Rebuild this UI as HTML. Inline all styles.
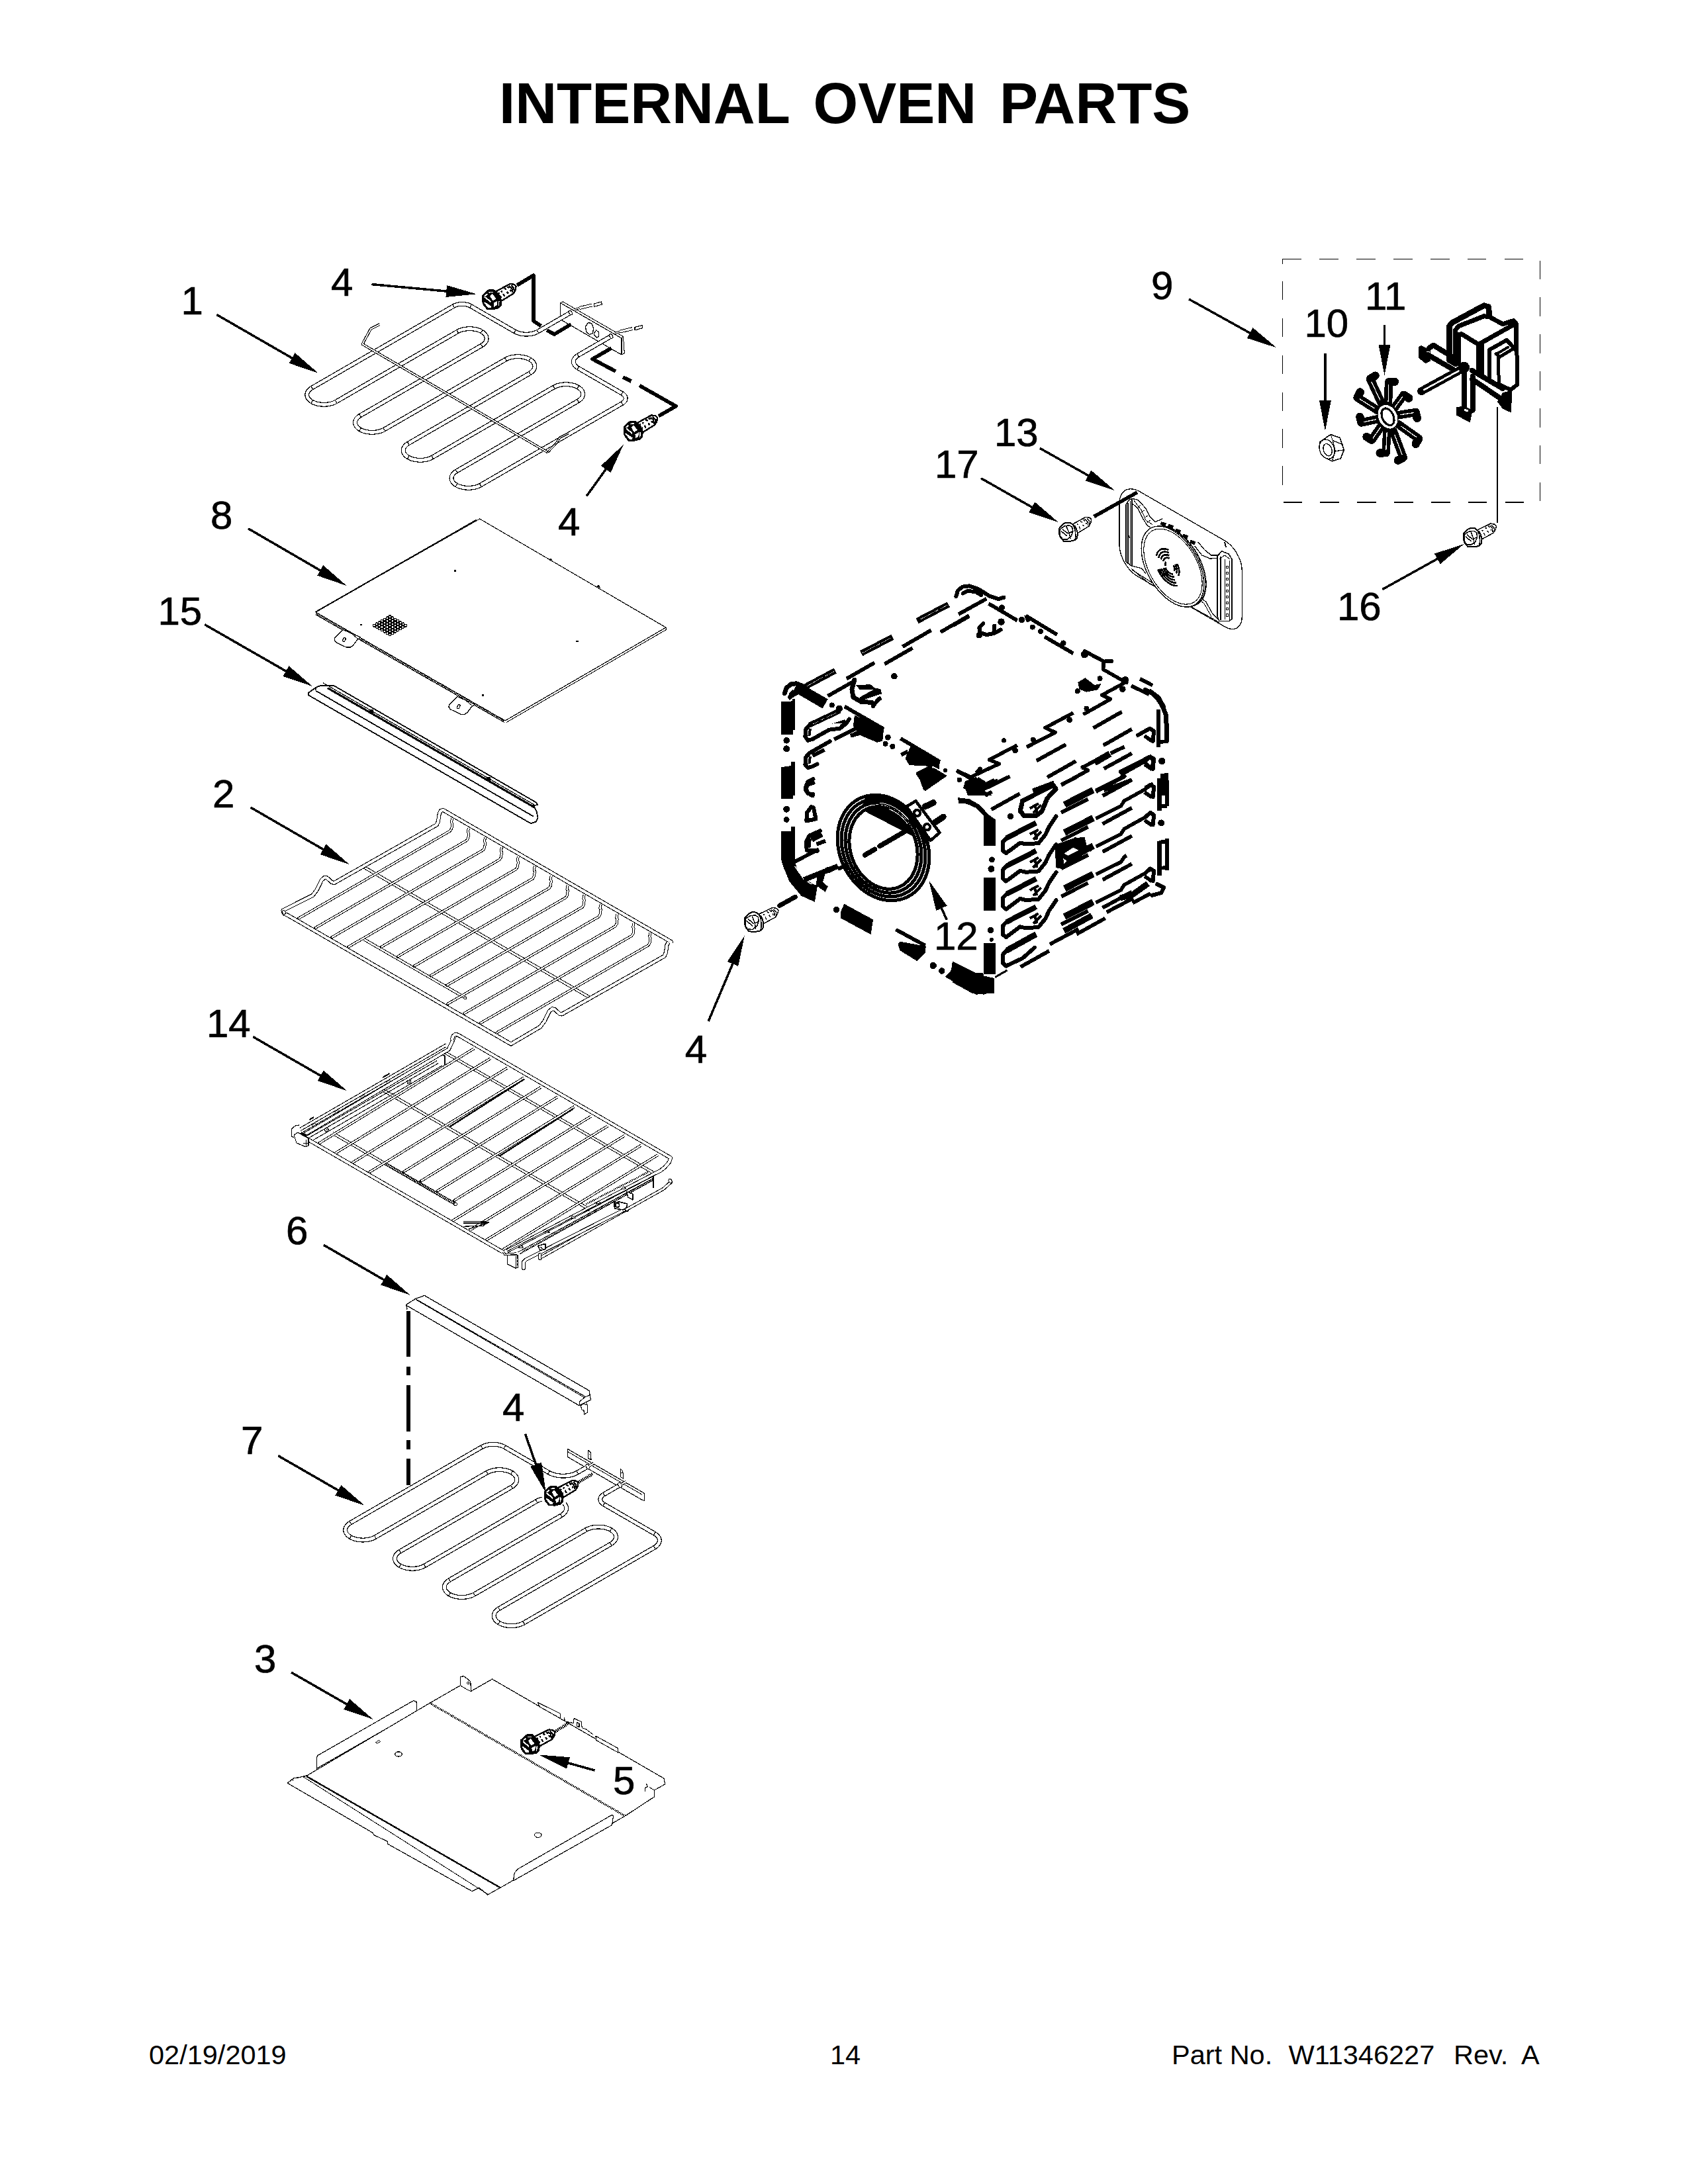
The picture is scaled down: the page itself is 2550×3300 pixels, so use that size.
<!DOCTYPE html>
<html><head><meta charset="utf-8"><title>Internal Oven Parts</title>
<style>html,body{margin:0;padding:0;background:#fff}svg{display:block}text{font-family:"Liberation Sans",Arial,Helvetica,sans-serif;fill:#000}text.n{stroke:#000;stroke-width:0.7px}</style>
</head><body>
<svg width="2550" height="3300" viewBox="0 0 2550 3300" shape-rendering="crispEdges">
<rect width="2550" height="3300" fill="#fff"/>
<text x="754.0" y="186.0" font-size="87.0" font-weight="bold" text-anchor="start" >INTERNAL</text>
<text x="1228.5" y="186.0" font-size="87.0" font-weight="bold" text-anchor="start" >OVEN</text>
<text x="1510.0" y="186.0" font-size="87.0" font-weight="bold" text-anchor="start" >PARTS</text>
<text x="225.0" y="3119.0" font-size="41.5" font-weight="normal" text-anchor="start" >02/19/2019</text>
<text x="1254.0" y="3119.0" font-size="41.5" font-weight="normal" text-anchor="start" >14</text>
<text x="1770.0" y="3119.0" font-size="41.5" font-weight="normal" text-anchor="start" >Part No.</text>
<text x="1946.5" y="3119.0" font-size="41.5" font-weight="normal" text-anchor="start" >W11346227</text>
<text x="2196.0" y="3119.0" font-size="41.5" font-weight="normal" text-anchor="start" >Rev.</text>
<text x="2298.0" y="3119.0" font-size="41.5" font-weight="normal" text-anchor="start" >A</text>
<path d="M846.3 457.5 L938.9 511.0 L938.9 536.0 L846.3 482.5Z" fill="#fff" stroke="#000" stroke-width="1.2" stroke-linejoin="round" />
<path d="M846.3 457.5 L850.6 456.0 L941.5 508.5 L938.9 511.0" fill="none" stroke="#000" stroke-width="1.0" stroke-linejoin="round" />
<path d="M941.5 508.5 L943.3 533.5 L938.9 536.0" fill="none" stroke="#000" stroke-width="1.0" stroke-linejoin="round" />
<path d="M884.6 493.5 l4 -6 l5 1 l3 7 l-1 8 l-5 2 l-5 -4 z" fill="#fff" stroke="#000" stroke-width="1.3"/>
<path d="M897.8 503.0 l3 -4 l4 3 l0 6 l-3 2 l-4 -4 z" fill="#fff" stroke="#000" stroke-width="1.2"/>
<path d="M861.8 472.5 L812.5 501.0 L810.1 502.2 L807.4 503.2 L804.5 504.1 L801.5 504.7 L798.4 505.0 L795.2 505.1 L792.0 505.0 L788.8 504.7 L785.8 504.1 L782.9 503.2 L780.2 502.2 L777.8 501.0 L711.2 462.5 L709.4 461.6 L707.4 460.8 L705.2 460.2 L702.9 459.8 L700.6 459.5 L698.2 459.4 L695.8 459.5 L693.4 459.8 L691.1 460.2 L689.0 460.8 L687.0 461.6 L685.2 462.5 L471.3 586.0 L469.0 587.5 L467.2 589.1 L465.7 590.8 L464.6 592.7 L464.0 594.6 L463.7 596.5 L464.0 598.4 L464.6 600.3 L465.7 602.2 L467.2 603.9 L469.0 605.5 L471.3 607.0 L471.3 607.0 L473.8 608.3 L476.6 609.4 L479.6 610.2 L482.8 610.8 L486.1 611.2 L489.5 611.3 L492.8 611.2 L496.1 610.8 L499.3 610.2 L502.3 609.4 L505.1 608.3 L507.6 607.0 L691.2 501.0 L693.8 499.7 L696.6 498.6 L699.6 497.8 L702.8 497.2 L706.1 496.8 L709.4 496.7 L712.8 496.8 L716.1 497.2 L719.3 497.8 L722.3 498.6 L725.1 499.7 L727.6 501.0 L727.6 501.0 L729.8 502.5 L731.7 504.1 L733.2 505.8 L734.3 507.7 L734.9 509.6 L735.1 511.5 L734.9 513.4 L734.3 515.3 L733.2 517.2 L731.7 518.9 L729.8 520.5 L727.6 522.0 L544.0 628.0 L541.8 629.5 L539.9 631.1 L538.4 632.8 L537.4 634.7 L536.7 636.6 L536.5 638.5 L536.7 640.4 L537.4 642.3 L538.4 644.2 L539.9 645.9 L541.8 647.5 L544.0 649.0 L544.0 649.0 L546.5 650.3 L549.3 651.4 L552.4 652.2 L555.5 652.8 L558.8 653.2 L562.2 653.3 L565.6 653.2 L568.9 652.8 L572.0 652.2 L575.1 651.4 L577.9 650.3 L580.4 649.0 L764.0 543.0 L766.5 541.7 L769.3 540.6 L772.3 539.8 L775.5 539.2 L778.8 538.8 L782.2 538.7 L785.5 538.8 L788.8 539.2 L792.0 539.8 L795.0 540.6 L797.8 541.7 L800.4 543.0 L800.4 543.0 L802.6 544.5 L804.4 546.1 L805.9 547.8 L807.0 549.7 L807.7 551.6 L807.9 553.5 L807.7 555.4 L807.0 557.3 L805.9 559.2 L804.4 560.9 L802.6 562.5 L800.4 564.0 L616.8 670.0 L614.5 671.5 L612.7 673.1 L611.2 674.8 L610.1 676.7 L609.4 678.6 L609.2 680.5 L609.4 682.4 L610.1 684.3 L611.2 686.2 L612.7 687.9 L614.5 689.5 L616.8 691.0 L616.8 691.0 L619.3 692.3 L622.1 693.4 L625.1 694.2 L628.3 694.8 L631.6 695.2 L634.9 695.3 L638.3 695.2 L641.6 694.8 L644.8 694.2 L647.8 693.4 L650.6 692.3 L653.1 691.0 L836.7 585.0 L839.3 583.7 L842.1 582.6 L845.1 581.8 L848.3 581.2 L851.6 580.8 L854.9 580.7 L858.3 580.8 L861.6 581.2 L864.8 581.8 L867.8 582.6 L870.6 583.7 L873.1 585.0 L873.1 585.0 L875.3 586.5 L877.2 588.1 L878.7 589.8 L879.8 591.7 L880.4 593.6 L880.6 595.5 L880.4 597.4 L879.8 599.3 L878.7 601.2 L877.2 602.9 L875.3 604.5 L873.1 606.0 L689.5 712.0 L687.3 713.5 L685.4 715.1 L683.9 716.8 L682.8 718.7 L682.2 720.6 L682.0 722.5 L682.2 724.4 L682.8 726.3 L683.9 728.2 L685.4 729.9 L687.3 731.5 L689.5 733.0 L689.5 733.0 L692.0 734.3 L694.8 735.4 L697.9 736.2 L701.0 736.8 L704.3 737.2 L707.7 737.3 L711.0 737.2 L714.3 736.8 L717.5 736.2 L720.6 735.4 L723.4 734.3 L725.9 733.0 L939.8 609.5 L941.4 608.5 L942.7 607.3 L943.8 606.1 L944.5 604.7 L945.0 603.4 L945.2 602.0 L945.0 600.6 L944.5 599.3 L943.8 597.9 L942.7 596.7 L941.4 595.5 L939.8 594.5 L873.1 556.0 L871.1 554.7 L869.4 553.2 L868.1 551.6 L867.1 550.0 L866.5 548.3 L866.3 546.5 L866.5 544.7 L867.1 543.0 L868.1 541.4 L869.4 539.8 L871.1 538.3 L873.1 537.0 L923.3 508.0" fill="none" stroke="#000" stroke-width="7.0" stroke-linecap="butt" stroke-linejoin="round"/><path d="M861.8 472.5 L812.5 501.0 L810.1 502.2 L807.4 503.2 L804.5 504.1 L801.5 504.7 L798.4 505.0 L795.2 505.1 L792.0 505.0 L788.8 504.7 L785.8 504.1 L782.9 503.2 L780.2 502.2 L777.8 501.0 L711.2 462.5 L709.4 461.6 L707.4 460.8 L705.2 460.2 L702.9 459.8 L700.6 459.5 L698.2 459.4 L695.8 459.5 L693.4 459.8 L691.1 460.2 L689.0 460.8 L687.0 461.6 L685.2 462.5 L471.3 586.0 L469.0 587.5 L467.2 589.1 L465.7 590.8 L464.6 592.7 L464.0 594.6 L463.7 596.5 L464.0 598.4 L464.6 600.3 L465.7 602.2 L467.2 603.9 L469.0 605.5 L471.3 607.0 L471.3 607.0 L473.8 608.3 L476.6 609.4 L479.6 610.2 L482.8 610.8 L486.1 611.2 L489.5 611.3 L492.8 611.2 L496.1 610.8 L499.3 610.2 L502.3 609.4 L505.1 608.3 L507.6 607.0 L691.2 501.0 L693.8 499.7 L696.6 498.6 L699.6 497.8 L702.8 497.2 L706.1 496.8 L709.4 496.7 L712.8 496.8 L716.1 497.2 L719.3 497.8 L722.3 498.6 L725.1 499.7 L727.6 501.0 L727.6 501.0 L729.8 502.5 L731.7 504.1 L733.2 505.8 L734.3 507.7 L734.9 509.6 L735.1 511.5 L734.9 513.4 L734.3 515.3 L733.2 517.2 L731.7 518.9 L729.8 520.5 L727.6 522.0 L544.0 628.0 L541.8 629.5 L539.9 631.1 L538.4 632.8 L537.4 634.7 L536.7 636.6 L536.5 638.5 L536.7 640.4 L537.4 642.3 L538.4 644.2 L539.9 645.9 L541.8 647.5 L544.0 649.0 L544.0 649.0 L546.5 650.3 L549.3 651.4 L552.4 652.2 L555.5 652.8 L558.8 653.2 L562.2 653.3 L565.6 653.2 L568.9 652.8 L572.0 652.2 L575.1 651.4 L577.9 650.3 L580.4 649.0 L764.0 543.0 L766.5 541.7 L769.3 540.6 L772.3 539.8 L775.5 539.2 L778.8 538.8 L782.2 538.7 L785.5 538.8 L788.8 539.2 L792.0 539.8 L795.0 540.6 L797.8 541.7 L800.4 543.0 L800.4 543.0 L802.6 544.5 L804.4 546.1 L805.9 547.8 L807.0 549.7 L807.7 551.6 L807.9 553.5 L807.7 555.4 L807.0 557.3 L805.9 559.2 L804.4 560.9 L802.6 562.5 L800.4 564.0 L616.8 670.0 L614.5 671.5 L612.7 673.1 L611.2 674.8 L610.1 676.7 L609.4 678.6 L609.2 680.5 L609.4 682.4 L610.1 684.3 L611.2 686.2 L612.7 687.9 L614.5 689.5 L616.8 691.0 L616.8 691.0 L619.3 692.3 L622.1 693.4 L625.1 694.2 L628.3 694.8 L631.6 695.2 L634.9 695.3 L638.3 695.2 L641.6 694.8 L644.8 694.2 L647.8 693.4 L650.6 692.3 L653.1 691.0 L836.7 585.0 L839.3 583.7 L842.1 582.6 L845.1 581.8 L848.3 581.2 L851.6 580.8 L854.9 580.7 L858.3 580.8 L861.6 581.2 L864.8 581.8 L867.8 582.6 L870.6 583.7 L873.1 585.0 L873.1 585.0 L875.3 586.5 L877.2 588.1 L878.7 589.8 L879.8 591.7 L880.4 593.6 L880.6 595.5 L880.4 597.4 L879.8 599.3 L878.7 601.2 L877.2 602.9 L875.3 604.5 L873.1 606.0 L689.5 712.0 L687.3 713.5 L685.4 715.1 L683.9 716.8 L682.8 718.7 L682.2 720.6 L682.0 722.5 L682.2 724.4 L682.8 726.3 L683.9 728.2 L685.4 729.9 L687.3 731.5 L689.5 733.0 L689.5 733.0 L692.0 734.3 L694.8 735.4 L697.9 736.2 L701.0 736.8 L704.3 737.2 L707.7 737.3 L711.0 737.2 L714.3 736.8 L717.5 736.2 L720.6 735.4 L723.4 734.3 L725.9 733.0 L939.8 609.5 L941.4 608.5 L942.7 607.3 L943.8 606.1 L944.5 604.7 L945.0 603.4 L945.2 602.0 L945.0 600.6 L944.5 599.3 L943.8 597.9 L942.7 596.7 L941.4 595.5 L939.8 594.5 L873.1 556.0 L871.1 554.7 L869.4 553.2 L868.1 551.6 L867.1 550.0 L866.5 548.3 L866.3 546.5 L866.5 544.7 L867.1 543.0 L868.1 541.4 L869.4 539.8 L871.1 538.3 L873.1 537.0 L923.3 508.0" fill="none" stroke="#fff" stroke-width="4.6" stroke-linecap="butt" stroke-linejoin="round"/>
<line x1="810.7" y1="498.0" x2="814.2" y2="504.0" stroke="#000" stroke-width="1.2"/><line x1="776.1" y1="504.0" x2="779.6" y2="498.0" stroke="#000" stroke-width="1.2"/><line x1="712.9" y1="459.5" x2="709.4" y2="465.5" stroke="#000" stroke-width="1.2"/><line x1="686.9" y1="465.5" x2="683.4" y2="459.5" stroke="#000" stroke-width="1.2"/><line x1="469.5" y1="583.0" x2="473.0" y2="589.0" stroke="#000" stroke-width="1.2"/><line x1="473.0" y1="604.0" x2="469.5" y2="610.0" stroke="#000" stroke-width="1.2"/><line x1="469.5" y1="610.0" x2="473.0" y2="604.0" stroke="#000" stroke-width="1.2"/><line x1="505.9" y1="604.0" x2="509.4" y2="610.0" stroke="#000" stroke-width="1.2"/><line x1="693.0" y1="504.0" x2="689.5" y2="498.0" stroke="#000" stroke-width="1.2"/><line x1="729.4" y1="498.0" x2="725.9" y2="504.0" stroke="#000" stroke-width="1.2"/><line x1="725.9" y1="504.0" x2="729.4" y2="498.0" stroke="#000" stroke-width="1.2"/><line x1="729.4" y1="525.0" x2="725.9" y2="519.0" stroke="#000" stroke-width="1.2"/><line x1="542.3" y1="625.0" x2="545.8" y2="631.0" stroke="#000" stroke-width="1.2"/><line x1="545.8" y1="646.0" x2="542.3" y2="652.0" stroke="#000" stroke-width="1.2"/><line x1="542.3" y1="652.0" x2="545.8" y2="646.0" stroke="#000" stroke-width="1.2"/><line x1="578.6" y1="646.0" x2="582.1" y2="652.0" stroke="#000" stroke-width="1.2"/><line x1="765.7" y1="546.0" x2="762.2" y2="540.0" stroke="#000" stroke-width="1.2"/><line x1="802.1" y1="540.0" x2="798.6" y2="546.0" stroke="#000" stroke-width="1.2"/><line x1="798.6" y1="546.0" x2="802.1" y2="540.0" stroke="#000" stroke-width="1.2"/><line x1="802.1" y1="567.0" x2="798.6" y2="561.0" stroke="#000" stroke-width="1.2"/><line x1="615.0" y1="667.0" x2="618.5" y2="673.0" stroke="#000" stroke-width="1.2"/><line x1="618.5" y1="688.0" x2="615.0" y2="694.0" stroke="#000" stroke-width="1.2"/><line x1="615.0" y1="694.0" x2="618.5" y2="688.0" stroke="#000" stroke-width="1.2"/><line x1="651.4" y1="688.0" x2="654.9" y2="694.0" stroke="#000" stroke-width="1.2"/><line x1="838.5" y1="588.0" x2="835.0" y2="582.0" stroke="#000" stroke-width="1.2"/><line x1="874.9" y1="582.0" x2="871.4" y2="588.0" stroke="#000" stroke-width="1.2"/><line x1="871.4" y1="588.0" x2="874.9" y2="582.0" stroke="#000" stroke-width="1.2"/><line x1="874.9" y1="609.0" x2="871.4" y2="603.0" stroke="#000" stroke-width="1.2"/><line x1="687.8" y1="709.0" x2="691.3" y2="715.0" stroke="#000" stroke-width="1.2"/><line x1="691.3" y1="730.0" x2="687.8" y2="736.0" stroke="#000" stroke-width="1.2"/><line x1="687.8" y1="736.0" x2="691.3" y2="730.0" stroke="#000" stroke-width="1.2"/><line x1="724.1" y1="730.0" x2="727.6" y2="736.0" stroke="#000" stroke-width="1.2"/><line x1="941.5" y1="612.5" x2="938.0" y2="606.5" stroke="#000" stroke-width="1.2"/><line x1="938.0" y1="597.5" x2="941.5" y2="591.5" stroke="#000" stroke-width="1.2"/><line x1="874.9" y1="553.0" x2="871.4" y2="559.0" stroke="#000" stroke-width="1.2"/><line x1="871.4" y1="534.0" x2="874.9" y2="540.0" stroke="#000" stroke-width="1.2"/>
<ellipse cx="861.8" cy="472.5" rx="2.2" ry="3.6" fill="#fff" stroke="#000" stroke-width="1.1" transform="rotate(-30 861.8 472.5)"/>
<ellipse cx="923.3" cy="508.0" rx="2.2" ry="3.6" fill="#fff" stroke="#000" stroke-width="1.1" transform="rotate(-30 923.3 508.0)"/>
<path d="M867.4 468.0 L876.4 465.0" fill="none" stroke="#000" stroke-width="3.2" stroke-linecap="butt" stroke-linejoin="round"/><path d="M867.4 468.0 L876.4 465.0" fill="none" stroke="#fff" stroke-width="1.2" stroke-linecap="butt" stroke-linejoin="round"/>
<path d="M875.4 465.5 L894.4 461.0" fill="none" stroke="#000" stroke-width="5.0" stroke-linecap="butt" stroke-linejoin="round"/><path d="M875.4 465.5 L894.4 461.0" fill="none" stroke="#fff" stroke-width="3.0" stroke-linecap="butt" stroke-linejoin="round"/>
<path d="M897.4 463.5 L909.4 460.0 L908.4 456.0 L897.4 459.0Z" fill="none" stroke="#000" stroke-width="1.2" stroke-linejoin="round" />
<path d="M928.9 503.5 L937.9 500.5" fill="none" stroke="#000" stroke-width="3.2" stroke-linecap="butt" stroke-linejoin="round"/><path d="M928.9 503.5 L937.9 500.5" fill="none" stroke="#fff" stroke-width="1.2" stroke-linecap="butt" stroke-linejoin="round"/>
<path d="M936.9 501.0 L955.9 496.5" fill="none" stroke="#000" stroke-width="5.0" stroke-linecap="butt" stroke-linejoin="round"/><path d="M936.9 501.0 L955.9 496.5" fill="none" stroke="#fff" stroke-width="3.0" stroke-linecap="butt" stroke-linejoin="round"/>
<path d="M958.9 499.0 L970.9 495.5 L969.9 491.5 L958.9 494.5Z" fill="none" stroke="#000" stroke-width="1.2" stroke-linejoin="round" />
<path d="M573.7 490.0 L560.0 497.0 L547.5 520.0 L827.5 683.5" fill="none" stroke="#000" stroke-width="4.0" stroke-linecap="butt" stroke-linejoin="round"/><path d="M573.7 490.0 L560.0 497.0 L547.5 520.0 L827.5 683.5" fill="none" stroke="#fff" stroke-width="1.8" stroke-linecap="butt" stroke-linejoin="round"/>
<path d="M827.5 683.5 L840.0 670.0 L846.0 661.0 L859.0 654.5" fill="none" stroke="#000" stroke-width="3.2" stroke-linecap="butt" stroke-linejoin="round"/><path d="M827.5 683.5 L840.0 670.0 L846.0 661.0 L859.0 654.5" fill="none" stroke="#fff" stroke-width="1.2" stroke-linecap="butt" stroke-linejoin="round"/>
<g transform="translate(742.5 452.5) rotate(0.0)"><polygon points="6.8,-12.1 28.0,-23.6 34.5,-22.7 37.1,-20.1 36.2,-14.3 33.2,-9.1 15.3,2.0" fill="#fff" stroke="#000" stroke-width="2.4" stroke-linejoin="round"/><polyline points="9.8,-10.1 12.1,-8.8" fill="none" stroke="#000" stroke-width="2.4"/><polyline points="14.3,-12.7 16.3,-11.4" fill="none" stroke="#000" stroke-width="2.4"/><polyline points="19.2,-16.9 22.5,-15.3" fill="none" stroke="#000" stroke-width="2.4"/><polyline points="23.8,-19.5 26.7,-17.3" fill="none" stroke="#000" stroke-width="2.4"/><polyline points="13.7,-5.5 14.2,-2.3" fill="none" stroke="#000" stroke-width="2.4"/><polyline points="17.6,-8.5 19.7,-4.4" fill="none" stroke="#000" stroke-width="2.4"/><polyline points="23.1,-11.7 25.5,-8.8" fill="none" stroke="#000" stroke-width="2.4"/><polyline points="28.5,-14.9 29.4,-12.1" fill="none" stroke="#000" stroke-width="2.4"/><polyline points="26.4,-20.2 30.9,-16.9 32.1,-10.4" fill="none" stroke="#000" stroke-width="2.2"/><polyline points="29.6,-21.2 33.7,-17.3 34.4,-12.4" fill="none" stroke="#000" stroke-width="2.2"/><polygon points="-13.8,-5.9 -7.7,-12.5 -3.3,-14.9 3.3,-14.9 7.8,-11.4 12.4,-6.5 15.3,1.3 14.7,9.1 11.1,13.0 3.3,15.0 -6.5,15.0 -11.7,9.1 -13.8,3.9" fill="#000" stroke="#000" stroke-width="1" stroke-linejoin="round"/><polygon points="-11.2,-3.1 -8.8,-4.0 -0.8,2.6 -1.4,4.6" fill="#fff"/><polygon points="-11.6,4.4 -9.8,4.0 0.0,10.6 -1.4,12.9 -5.1,12.9" fill="#fff"/><polygon points="-4.4,-11.2 1.8,-11.9 2.7,-10.6 -3.3,-9.9" fill="#fff"/><polygon points="-2.5,-5.2 1.3,-8.5 7.0,-1.3 2.0,2.0" fill="#fff"/><polygon points="3.4,5.3 9.0,2.1 8.3,8.5 4.0,11.1" fill="#fff"/><polygon points="10.4,2.0 12.1,2.6 11.4,9.1 10.1,9.9" fill="#fff"/><polygon points="-11.4,-4.9 -7.3,-9.1 -5.7,-7.8 -9.4,-4.6" fill="#fff"/></g>
<path d="M781.0 431.0 L806.0 416.0 L806.0 485.0 L817.5 492.5" fill="none" stroke="#000" stroke-width="5.6" stroke-linejoin="round" stroke-linecap="butt"/>
<path d="M826.0 499.0 L837.5 505.0 L862.5 490.0" fill="none" stroke="#000" stroke-width="5.6" stroke-linejoin="round" stroke-linecap="butt"/>
<path d="M923.7 526.0 L895.0 542.5 L930.0 561.0" fill="none" stroke="#000" stroke-width="5.6" stroke-linejoin="round" stroke-linecap="butt"/>
<path d="M941.0 570.0 L953.7 576.0" fill="none" stroke="#000" stroke-width="5.6" stroke-linejoin="round" stroke-linecap="butt"/>
<path d="M966.0 582.5 L1021.0 613.7 L995.0 628.7" fill="none" stroke="#000" stroke-width="5.6" stroke-linejoin="round" stroke-linecap="butt"/>
<g transform="translate(956.0 651.0) rotate(0.0)"><polygon points="6.8,-12.1 28.0,-23.6 34.5,-22.7 37.1,-20.1 36.2,-14.3 33.2,-9.1 15.3,2.0" fill="#fff" stroke="#000" stroke-width="2.4" stroke-linejoin="round"/><polyline points="9.8,-10.1 12.1,-8.8" fill="none" stroke="#000" stroke-width="2.4"/><polyline points="14.3,-12.7 16.3,-11.4" fill="none" stroke="#000" stroke-width="2.4"/><polyline points="19.2,-16.9 22.5,-15.3" fill="none" stroke="#000" stroke-width="2.4"/><polyline points="23.8,-19.5 26.7,-17.3" fill="none" stroke="#000" stroke-width="2.4"/><polyline points="13.7,-5.5 14.2,-2.3" fill="none" stroke="#000" stroke-width="2.4"/><polyline points="17.6,-8.5 19.7,-4.4" fill="none" stroke="#000" stroke-width="2.4"/><polyline points="23.1,-11.7 25.5,-8.8" fill="none" stroke="#000" stroke-width="2.4"/><polyline points="28.5,-14.9 29.4,-12.1" fill="none" stroke="#000" stroke-width="2.4"/><polyline points="26.4,-20.2 30.9,-16.9 32.1,-10.4" fill="none" stroke="#000" stroke-width="2.2"/><polyline points="29.6,-21.2 33.7,-17.3 34.4,-12.4" fill="none" stroke="#000" stroke-width="2.2"/><polygon points="-13.8,-5.9 -7.7,-12.5 -3.3,-14.9 3.3,-14.9 7.8,-11.4 12.4,-6.5 15.3,1.3 14.7,9.1 11.1,13.0 3.3,15.0 -6.5,15.0 -11.7,9.1 -13.8,3.9" fill="#000" stroke="#000" stroke-width="1" stroke-linejoin="round"/><polygon points="-11.2,-3.1 -8.8,-4.0 -0.8,2.6 -1.4,4.6" fill="#fff"/><polygon points="-11.6,4.4 -9.8,4.0 0.0,10.6 -1.4,12.9 -5.1,12.9" fill="#fff"/><polygon points="-4.4,-11.2 1.8,-11.9 2.7,-10.6 -3.3,-9.9" fill="#fff"/><polygon points="-2.5,-5.2 1.3,-8.5 7.0,-1.3 2.0,2.0" fill="#fff"/><polygon points="3.4,5.3 9.0,2.1 8.3,8.5 4.0,11.1" fill="#fff"/><polygon points="10.4,2.0 12.1,2.6 11.4,9.1 10.1,9.9" fill="#fff"/><polygon points="-11.4,-4.9 -7.3,-9.1 -5.7,-7.8 -9.4,-4.6" fill="#fff"/></g>
<path d="M476.6 924.8 L724.7 784.0 L1006.0 948.1 L763.0 1089.0Z" fill="#fff" stroke="#000" stroke-width="1.2" stroke-linejoin="round" />
<path d="M476.6 924.8 L720.0 785.5" fill="none" stroke="#000" stroke-width="2.0" stroke-linejoin="round" />
<path d="M765.0 1091.5 L1007.0 951.1 L1006.0 948.1" fill="none" stroke="#000" stroke-width="1.0" stroke-linejoin="round" />
<path d="M477.6 926.8 L762.0 1089.5" stroke="#000" stroke-width="3.6" stroke-dasharray="1.4 1.1" fill="none"/>
<path d="M476.6 928.6 L762.0 1091.6" fill="none" stroke="#000" stroke-width="1.0" stroke-linejoin="round" />
<path d="M830.0 846.5 L832.0 844.5 L834.0 846.0" fill="none" stroke="#000" stroke-width="1.0" stroke-linejoin="round" />
<path d="M902.0 887.0 L904.0 885.0 L906.0 888.0" fill="none" stroke="#000" stroke-width="2.0" stroke-linejoin="round" />
<path d="M518.3 951.4 L544.9 963.1 L539.9 966.4 L533.5 975.0 L529.5 978.0 L523.3 978.1 L507.5 970.5 L505.2 967.0 L506.0 963.5Z" fill="#fff" stroke="#000" stroke-width="1.3" stroke-linejoin="round" />
<path d="M518.3 951.4 L528.0 955.0 L541.0 965.5" fill="none" stroke="#000" stroke-width="1.0" stroke-linejoin="round" />
<ellipse cx="520.0" cy="966.4" rx="1.8" ry="3.2" fill="#fff" stroke="#000" stroke-width="1.3" transform="rotate(25 520.0 966.4)"/>
<path d="M691.1 1052.6 L717.7 1064.3 L712.7 1067.6 L706.3 1076.2 L702.3 1079.2 L696.1 1079.3 L680.3 1071.7 L678.0 1068.2 L678.8 1064.7Z" fill="#fff" stroke="#000" stroke-width="1.3" stroke-linejoin="round" />
<path d="M691.1 1052.6 L700.8 1056.2 L713.8 1066.7" fill="none" stroke="#000" stroke-width="1.0" stroke-linejoin="round" />
<ellipse cx="692.8" cy="1067.6" rx="1.8" ry="3.2" fill="#fff" stroke="#000" stroke-width="1.3" transform="rotate(25 692.8 1067.6)"/>
<circle cx="565.4" cy="945.2" r="1.9" fill="none" stroke="#000" stroke-width="1.3"/><circle cx="569.3" cy="947.5" r="1.9" fill="none" stroke="#000" stroke-width="1.3"/><circle cx="573.2" cy="949.8" r="1.9" fill="none" stroke="#000" stroke-width="1.3"/><circle cx="577.2" cy="952.0" r="1.9" fill="none" stroke="#000" stroke-width="1.3"/><circle cx="581.1" cy="954.3" r="1.9" fill="none" stroke="#000" stroke-width="1.3"/><circle cx="585.1" cy="956.6" r="1.9" fill="none" stroke="#000" stroke-width="1.3"/><circle cx="589.0" cy="958.9" r="1.9" fill="none" stroke="#000" stroke-width="1.3"/><circle cx="569.3" cy="942.9" r="1.9" fill="none" stroke="#000" stroke-width="1.3"/><circle cx="573.2" cy="945.2" r="1.9" fill="none" stroke="#000" stroke-width="1.3"/><circle cx="577.2" cy="947.5" r="1.9" fill="none" stroke="#000" stroke-width="1.3"/><circle cx="581.1" cy="949.8" r="1.9" fill="none" stroke="#000" stroke-width="1.3"/><circle cx="585.1" cy="952.0" r="1.9" fill="none" stroke="#000" stroke-width="1.3"/><circle cx="589.0" cy="954.3" r="1.9" fill="none" stroke="#000" stroke-width="1.3"/><circle cx="592.9" cy="956.6" r="1.9" fill="none" stroke="#000" stroke-width="1.3"/><circle cx="573.2" cy="940.7" r="1.9" fill="none" stroke="#000" stroke-width="1.3"/><circle cx="577.2" cy="942.9" r="1.9" fill="none" stroke="#000" stroke-width="1.3"/><circle cx="581.1" cy="945.2" r="1.9" fill="none" stroke="#000" stroke-width="1.3"/><circle cx="585.1" cy="947.5" r="1.9" fill="none" stroke="#000" stroke-width="1.3"/><circle cx="589.0" cy="949.8" r="1.9" fill="none" stroke="#000" stroke-width="1.3"/><circle cx="592.9" cy="952.0" r="1.9" fill="none" stroke="#000" stroke-width="1.3"/><circle cx="596.9" cy="954.3" r="1.9" fill="none" stroke="#000" stroke-width="1.3"/><circle cx="577.2" cy="938.4" r="1.9" fill="none" stroke="#000" stroke-width="1.3"/><circle cx="581.1" cy="940.7" r="1.9" fill="none" stroke="#000" stroke-width="1.3"/><circle cx="585.1" cy="942.9" r="1.9" fill="none" stroke="#000" stroke-width="1.3"/><circle cx="589.0" cy="945.2" r="1.9" fill="none" stroke="#000" stroke-width="1.3"/><circle cx="592.9" cy="947.5" r="1.9" fill="none" stroke="#000" stroke-width="1.3"/><circle cx="596.9" cy="949.8" r="1.9" fill="none" stroke="#000" stroke-width="1.3"/><circle cx="600.8" cy="952.0" r="1.9" fill="none" stroke="#000" stroke-width="1.3"/><circle cx="581.1" cy="936.1" r="1.9" fill="none" stroke="#000" stroke-width="1.3"/><circle cx="585.1" cy="938.4" r="1.9" fill="none" stroke="#000" stroke-width="1.3"/><circle cx="589.0" cy="940.7" r="1.9" fill="none" stroke="#000" stroke-width="1.3"/><circle cx="592.9" cy="942.9" r="1.9" fill="none" stroke="#000" stroke-width="1.3"/><circle cx="596.9" cy="945.2" r="1.9" fill="none" stroke="#000" stroke-width="1.3"/><circle cx="600.8" cy="947.5" r="1.9" fill="none" stroke="#000" stroke-width="1.3"/><circle cx="604.8" cy="949.8" r="1.9" fill="none" stroke="#000" stroke-width="1.3"/><circle cx="585.1" cy="933.8" r="1.9" fill="none" stroke="#000" stroke-width="1.3"/><circle cx="589.0" cy="936.1" r="1.9" fill="none" stroke="#000" stroke-width="1.3"/><circle cx="592.9" cy="938.4" r="1.9" fill="none" stroke="#000" stroke-width="1.3"/><circle cx="596.9" cy="940.7" r="1.9" fill="none" stroke="#000" stroke-width="1.3"/><circle cx="600.8" cy="942.9" r="1.9" fill="none" stroke="#000" stroke-width="1.3"/><circle cx="604.8" cy="945.2" r="1.9" fill="none" stroke="#000" stroke-width="1.3"/><circle cx="608.7" cy="947.5" r="1.9" fill="none" stroke="#000" stroke-width="1.3"/><circle cx="589.0" cy="931.6" r="1.9" fill="none" stroke="#000" stroke-width="1.3"/><circle cx="592.9" cy="933.8" r="1.9" fill="none" stroke="#000" stroke-width="1.3"/><circle cx="596.9" cy="936.1" r="1.9" fill="none" stroke="#000" stroke-width="1.3"/><circle cx="600.8" cy="938.4" r="1.9" fill="none" stroke="#000" stroke-width="1.3"/><circle cx="604.8" cy="940.7" r="1.9" fill="none" stroke="#000" stroke-width="1.3"/><circle cx="608.7" cy="942.9" r="1.9" fill="none" stroke="#000" stroke-width="1.3"/><circle cx="612.6" cy="945.2" r="1.9" fill="none" stroke="#000" stroke-width="1.3"/>
<rect x="685.7" y="860.9" width="3.4" height="2.6" fill="#000"/>
<rect x="543.9" y="942.8" width="3.4" height="2.6" fill="#000"/>
<rect x="870.1" y="967.5" width="3.4" height="2.6" fill="#000"/>
<rect x="728.0" y="1049.4" width="3.4" height="2.6" fill="#000"/>
<path d="M466.2 1046.7 L477.4 1038.7 L483.5 1036.2 L504.7 1036.2 L810.7 1212.9 L812.0 1215.9 L806.0 1217.2 L811.0 1227.0 L812.5 1235.9 L810.0 1241.5 L802.0 1244.3 L466.2 1050.5Z" fill="#fff" stroke="#000" stroke-width="1.8" stroke-linejoin="round" />
<path d="M495.0 1039.6 L807.0 1219.7" fill="none" stroke="#000" stroke-width="3.2" stroke-linejoin="round" />
<path d="M477.0 1043.7 L806.0 1233.7" fill="none" stroke="#000" stroke-width="1.8" stroke-linejoin="round" />
<path d="M488.0 1031.8 L808.0 1216.5" fill="none" stroke="#000" stroke-width="1.2" stroke-linejoin="round" />
<path d="M477.4 1038.7 L476.5 1043.4" fill="none" stroke="#000" stroke-width="1.6" stroke-linejoin="round" />
<rect x="557.5" y="1071.9" width="6" height="5" fill="#000"/>
<rect x="734.5" y="1174.1" width="6" height="5" fill="#000"/>
<path d="M548.5 1309.5 L892.3 1508.0" fill="none" stroke="#000" stroke-width="4.8" stroke-linecap="butt" stroke-linejoin="round"/><path d="M548.5 1309.5 L892.3 1508.0" fill="none" stroke="#fff" stroke-width="2.8" stroke-linecap="butt" stroke-linejoin="round"/>
<path d="M549.4 1419.0 L701.8 1507.0" fill="none" stroke="#000" stroke-width="4.6" stroke-linecap="butt" stroke-linejoin="round"/><path d="M549.4 1419.0 L701.8 1507.0" fill="none" stroke="#fff" stroke-width="2.6" stroke-linecap="butt" stroke-linejoin="round"/>
<circle cx="702.8" cy="1508.0" r="2" fill="#fff" stroke="#000" stroke-width="1"/>
<path d="M450.2 1388.2 L680.1 1255.5 L682.3 1251.8 L683.2 1244.8 L681.9 1242.5 L683.2 1236.8" fill="none" stroke="#000" stroke-width="4.1" stroke-linecap="butt" stroke-linejoin="round"/><path d="M450.2 1388.2 L680.1 1255.5 L682.3 1251.8 L683.2 1244.8 L681.9 1242.5 L683.2 1236.8" fill="none" stroke="#fff" stroke-width="2.1" stroke-linecap="butt" stroke-linejoin="round"/>
<ellipse cx="450.2" cy="1388.2" rx="1.1" ry="1.6" fill="#000"/>
<path d="M475.2 1402.7 L705.1 1269.9 L707.3 1266.2 L708.1 1259.2 L706.8 1256.9 L708.1 1251.2" fill="none" stroke="#000" stroke-width="4.1" stroke-linecap="butt" stroke-linejoin="round"/><path d="M475.2 1402.7 L705.1 1269.9 L707.3 1266.2 L708.1 1259.2 L706.8 1256.9 L708.1 1251.2" fill="none" stroke="#fff" stroke-width="2.1" stroke-linecap="butt" stroke-linejoin="round"/>
<ellipse cx="475.2" cy="1402.7" rx="1.1" ry="1.6" fill="#000"/>
<path d="M500.1 1417.0 L730.0 1284.3 L732.2 1280.5 L733.1 1273.5 L731.8 1271.3 L733.1 1265.5" fill="none" stroke="#000" stroke-width="4.1" stroke-linecap="butt" stroke-linejoin="round"/><path d="M500.1 1417.0 L730.0 1284.3 L732.2 1280.5 L733.1 1273.5 L731.8 1271.3 L733.1 1265.5" fill="none" stroke="#fff" stroke-width="2.1" stroke-linecap="butt" stroke-linejoin="round"/>
<ellipse cx="500.1" cy="1417.0" rx="1.1" ry="1.6" fill="#000"/>
<path d="M525.0 1431.5 L755.0 1298.7 L757.1 1295.0 L758.0 1288.0 L756.7 1285.7 L758.0 1280.0" fill="none" stroke="#000" stroke-width="4.1" stroke-linecap="butt" stroke-linejoin="round"/><path d="M525.0 1431.5 L755.0 1298.7 L757.1 1295.0 L758.0 1288.0 L756.7 1285.7 L758.0 1280.0" fill="none" stroke="#fff" stroke-width="2.1" stroke-linecap="butt" stroke-linejoin="round"/>
<ellipse cx="525.0" cy="1431.5" rx="1.1" ry="1.6" fill="#000"/>
<path d="M574.7 1431.6 L779.9 1313.1 L782.1 1309.3 L782.9 1302.3 L781.6 1300.1 L782.9 1294.3" fill="none" stroke="#000" stroke-width="4.1" stroke-linecap="butt" stroke-linejoin="round"/><path d="M574.7 1431.6 L779.9 1313.1 L782.1 1309.3 L782.9 1302.3 L781.6 1300.1 L782.9 1294.3" fill="none" stroke="#fff" stroke-width="2.1" stroke-linecap="butt" stroke-linejoin="round"/>
<ellipse cx="574.7" cy="1431.6" rx="1.1" ry="1.6" fill="#000"/>
<path d="M599.6 1446.0 L804.9 1327.5 L807.0 1323.8 L807.9 1316.8 L806.6 1314.5 L807.9 1308.8" fill="none" stroke="#000" stroke-width="4.1" stroke-linecap="butt" stroke-linejoin="round"/><path d="M599.6 1446.0 L804.9 1327.5 L807.0 1323.8 L807.9 1316.8 L806.6 1314.5 L807.9 1308.8" fill="none" stroke="#fff" stroke-width="2.1" stroke-linecap="butt" stroke-linejoin="round"/>
<ellipse cx="599.6" cy="1446.0" rx="1.1" ry="1.6" fill="#000"/>
<path d="M624.5 1460.4 L829.8 1341.9 L832.0 1338.2 L832.8 1331.2 L831.5 1328.9 L832.8 1323.2" fill="none" stroke="#000" stroke-width="4.1" stroke-linecap="butt" stroke-linejoin="round"/><path d="M624.5 1460.4 L829.8 1341.9 L832.0 1338.2 L832.8 1331.2 L831.5 1328.9 L832.8 1323.2" fill="none" stroke="#fff" stroke-width="2.1" stroke-linecap="butt" stroke-linejoin="round"/>
<ellipse cx="624.5" cy="1460.4" rx="1.1" ry="1.6" fill="#000"/>
<path d="M649.5 1474.8 L854.7 1356.3 L856.9 1352.5 L857.8 1345.5 L856.5 1343.3 L857.8 1337.5" fill="none" stroke="#000" stroke-width="4.1" stroke-linecap="butt" stroke-linejoin="round"/><path d="M649.5 1474.8 L854.7 1356.3 L856.9 1352.5 L857.8 1345.5 L856.5 1343.3 L857.8 1337.5" fill="none" stroke="#fff" stroke-width="2.1" stroke-linecap="butt" stroke-linejoin="round"/>
<ellipse cx="649.5" cy="1474.8" rx="1.1" ry="1.6" fill="#000"/>
<path d="M674.4 1489.2 L879.7 1370.7 L881.8 1367.0 L882.7 1360.0 L881.4 1357.7 L882.7 1352.0" fill="none" stroke="#000" stroke-width="4.1" stroke-linecap="butt" stroke-linejoin="round"/><path d="M674.4 1489.2 L879.7 1370.7 L881.8 1367.0 L882.7 1360.0 L881.4 1357.7 L882.7 1352.0" fill="none" stroke="#fff" stroke-width="2.1" stroke-linecap="butt" stroke-linejoin="round"/>
<ellipse cx="674.4" cy="1489.2" rx="1.1" ry="1.6" fill="#000"/>
<path d="M674.7 1517.8 L904.6 1385.1 L906.8 1381.3 L907.7 1374.3 L906.4 1372.1 L907.7 1366.3" fill="none" stroke="#000" stroke-width="4.1" stroke-linecap="butt" stroke-linejoin="round"/><path d="M674.7 1517.8 L904.6 1385.1 L906.8 1381.3 L907.7 1374.3 L906.4 1372.1 L907.7 1366.3" fill="none" stroke="#fff" stroke-width="2.1" stroke-linecap="butt" stroke-linejoin="round"/>
<ellipse cx="674.7" cy="1517.8" rx="1.1" ry="1.6" fill="#000"/>
<path d="M699.6 1532.2 L929.6 1399.5 L931.7 1395.8 L932.6 1388.8 L931.3 1386.5 L932.6 1380.8" fill="none" stroke="#000" stroke-width="4.1" stroke-linecap="butt" stroke-linejoin="round"/><path d="M699.6 1532.2 L929.6 1399.5 L931.7 1395.8 L932.6 1388.8 L931.3 1386.5 L932.6 1380.8" fill="none" stroke="#fff" stroke-width="2.1" stroke-linecap="butt" stroke-linejoin="round"/>
<ellipse cx="699.6" cy="1532.2" rx="1.1" ry="1.6" fill="#000"/>
<path d="M724.6 1546.7 L954.5 1413.9 L956.7 1410.2 L957.5 1403.2 L956.2 1400.9 L957.5 1395.2" fill="none" stroke="#000" stroke-width="4.1" stroke-linecap="butt" stroke-linejoin="round"/><path d="M724.6 1546.7 L954.5 1413.9 L956.7 1410.2 L957.5 1403.2 L956.2 1400.9 L957.5 1395.2" fill="none" stroke="#fff" stroke-width="2.1" stroke-linecap="butt" stroke-linejoin="round"/>
<ellipse cx="724.6" cy="1546.7" rx="1.1" ry="1.6" fill="#000"/>
<path d="M749.5 1561.0 L979.4 1428.3 L981.6 1424.5 L982.5 1417.5 L981.2 1415.3 L982.5 1409.5" fill="none" stroke="#000" stroke-width="4.1" stroke-linecap="butt" stroke-linejoin="round"/><path d="M749.5 1561.0 L979.4 1428.3 L981.6 1424.5 L982.5 1417.5 L981.2 1415.3 L982.5 1409.5" fill="none" stroke="#fff" stroke-width="2.1" stroke-linecap="butt" stroke-linejoin="round"/>
<ellipse cx="749.5" cy="1561.0" rx="1.1" ry="1.6" fill="#000"/>
<path d="M1009.8 1423.5 L1007.5 1428.0 L1005.8 1439.5 L1003.5 1444.8 L852.4 1530.4 L848.8 1532.5 L845.3 1531.7 L837.8 1525.0 L834.3 1524.3 L829.8 1528.0 L822.8 1542.5 L816.2 1551.5 L778.8 1573.5 L771.8 1577.5 L765.8 1574.0 L434.0 1382.5 L429.0 1380.5 L427.5 1375.5 L472.4 1353.0 L479.0 1344.0 L486.0 1329.5 L490.5 1325.8 L494.0 1326.5 L501.5 1333.2 L505.0 1334.0 L508.6 1331.9 L659.7 1246.3 L662.0 1241.0 L663.7 1229.5 L666.0 1225.0 L669.5 1224.0 L1010.3 1421.0 L1013.8 1423.0 L1014.3 1425.5" fill="none" stroke="#000" stroke-width="6.2" stroke-linecap="butt" stroke-linejoin="round"/><path d="M1009.8 1423.5 L1007.5 1428.0 L1005.8 1439.5 L1003.5 1444.8 L852.4 1530.4 L848.8 1532.5 L845.3 1531.7 L837.8 1525.0 L834.3 1524.3 L829.8 1528.0 L822.8 1542.5 L816.2 1551.5 L778.8 1573.5 L771.8 1577.5 L765.8 1574.0 L434.0 1382.5 L429.0 1380.5 L427.5 1375.5 L472.4 1353.0 L479.0 1344.0 L486.0 1329.5 L490.5 1325.8 L494.0 1326.5 L501.5 1333.2 L505.0 1334.0 L508.6 1331.9 L659.7 1246.3 L662.0 1241.0 L663.7 1229.5 L666.0 1225.0 L669.5 1224.0 L1010.3 1421.0 L1013.8 1423.0 L1014.3 1425.5" fill="none" stroke="#fff" stroke-width="4.0" stroke-linecap="butt" stroke-linejoin="round"/>
<ellipse cx="429.0" cy="1378.5" rx="2.2" ry="3.2" fill="#fff" stroke="#000" stroke-width="1" transform="rotate(-25 429.0 1378.5)"/>
<path d="M575.6 1645.5 L892.5 1828.5" fill="none" stroke="#000" stroke-width="4.8" stroke-linecap="butt" stroke-linejoin="round"/><path d="M575.6 1645.5 L892.5 1828.5" fill="none" stroke="#fff" stroke-width="2.8" stroke-linecap="butt" stroke-linejoin="round"/>
<path d="M671.7 1590.0 L988.7 1773.0" fill="none" stroke="#000" stroke-width="4.6" stroke-linecap="butt" stroke-linejoin="round"/><path d="M671.7 1590.0 L988.7 1773.0" fill="none" stroke="#fff" stroke-width="2.6" stroke-linecap="butt" stroke-linejoin="round"/>
<path d="M502.0 1712.0 L686.4 1818.5" fill="none" stroke="#000" stroke-width="4.6" stroke-linecap="butt" stroke-linejoin="round"/><path d="M502.0 1712.0 L686.4 1818.5" fill="none" stroke="#fff" stroke-width="2.6" stroke-linecap="butt" stroke-linejoin="round"/>
<path d="M583.4 1759.0 L686.4 1818.5" stroke="#000" stroke-width="3" stroke-dasharray="1.5 1.2" fill="none"/>
<ellipse cx="688.4" cy="1819.5" rx="2.6" ry="2" fill="#fff" stroke="#000" stroke-width="1"/>
<path d="M452.6 1704.5 L673.4 1577.0" fill="none" stroke="#000" stroke-width="1.1" stroke-linejoin="round" />
<path d="M454.3 1708.5 L673.4 1582.0" fill="none" stroke="#000" stroke-width="1.1" stroke-linejoin="round" />
<path d="M457.8 1710.5 L659.6 1594.0" fill="none" stroke="#000" stroke-width="1.1" stroke-linejoin="round" />
<path d="M460.4 1714.0 L658.7 1599.5" fill="none" stroke="#000" stroke-width="1.1" stroke-linejoin="round" />
<path d="M463.9 1716.0 L660.4 1602.5" fill="none" stroke="#000" stroke-width="1.1" stroke-linejoin="round" />
<path d="M467.3 1719.0 L662.2 1606.5" fill="none" stroke="#000" stroke-width="1.1" stroke-linejoin="round" />
<path d="M473.4 1722.5 L668.2 1610.0" fill="none" stroke="#000" stroke-width="1.1" stroke-linejoin="round" />
<path d="M671.7 1612.0 L671.7 1595.0 L668.2 1594.0" fill="none" stroke="#000" stroke-width="1.8" stroke-linejoin="round" />
<path d="M671.7 1595.0 L659.6 1593.0" fill="none" stroke="#000" stroke-width="1.0" stroke-linejoin="round" />
<circle cx="493.3" cy="1707.0" r="2.8" fill="#fff" stroke="#000" stroke-width="1.2"/><circle cx="493.3" cy="1707.0" r="0.8" fill="#000"/>
<circle cx="618.0" cy="1635.0" r="2.8" fill="#fff" stroke="#000" stroke-width="1.2"/><circle cx="618.0" cy="1635.0" r="0.8" fill="#000"/>
<path d="M470.8 1700.0 L476.0 1697.0 L479.4 1700.0 L474.2 1703.0Z" fill="none" stroke="#000" stroke-width="0.9" stroke-linejoin="round" />
<path d="M505.4 1680.0 L510.6 1677.0 L514.1 1680.0 L508.9 1683.0Z" fill="none" stroke="#000" stroke-width="0.9" stroke-linejoin="round" />
<path d="M544.4 1657.5 L549.6 1654.5 L553.1 1657.5 L547.9 1660.5Z" fill="none" stroke="#000" stroke-width="0.9" stroke-linejoin="round" />
<path d="M583.4 1635.0 L588.6 1632.0 L592.0 1635.0 L586.8 1638.0Z" fill="none" stroke="#000" stroke-width="0.9" stroke-linejoin="round" />
<path d="M578.2 1628.0 L588.6 1622.0" fill="none" stroke="#000" stroke-width="2.2" stroke-linejoin="round" />
<path d="M467.3 1692.0 L474.2 1688.0" fill="none" stroke="#000" stroke-width="2.2" stroke-linejoin="round" />
<path d="M480.3 1728.5 L715.9 1584.5" fill="none" stroke="#000" stroke-width="4.1" stroke-linecap="butt" stroke-linejoin="round"/><path d="M480.3 1728.5 L715.9 1584.5" fill="none" stroke="#fff" stroke-width="2.1" stroke-linecap="butt" stroke-linejoin="round"/>
<rect x="479.0" y="1727.2" width="2.6" height="2.6" fill="#000"/>
<path d="M505.6 1743.1 L741.2 1599.1" fill="none" stroke="#000" stroke-width="4.1" stroke-linecap="butt" stroke-linejoin="round"/><path d="M505.6 1743.1 L741.2 1599.1" fill="none" stroke="#fff" stroke-width="2.1" stroke-linecap="butt" stroke-linejoin="round"/>
<rect x="504.3" y="1741.8" width="2.6" height="2.6" fill="#000"/>
<path d="M530.9 1757.7 L766.4 1613.7" fill="none" stroke="#000" stroke-width="4.1" stroke-linecap="butt" stroke-linejoin="round"/><path d="M530.9 1757.7 L766.4 1613.7" fill="none" stroke="#fff" stroke-width="2.1" stroke-linecap="butt" stroke-linejoin="round"/>
<rect x="529.6" y="1756.4" width="2.6" height="2.6" fill="#000"/>
<path d="M556.2 1772.3 L791.7 1628.3" fill="none" stroke="#000" stroke-width="4.1" stroke-linecap="butt" stroke-linejoin="round"/><path d="M556.2 1772.3 L791.7 1628.3" fill="none" stroke="#fff" stroke-width="2.1" stroke-linecap="butt" stroke-linejoin="round"/>
<rect x="554.9" y="1771.0" width="2.6" height="2.6" fill="#000"/>
<path d="M609.2 1770.9 L817.0 1642.9" fill="none" stroke="#000" stroke-width="4.1" stroke-linecap="butt" stroke-linejoin="round"/><path d="M609.2 1770.9 L817.0 1642.9" fill="none" stroke="#fff" stroke-width="2.1" stroke-linecap="butt" stroke-linejoin="round"/>
<rect x="607.9" y="1769.6" width="2.6" height="2.6" fill="#000"/>
<path d="M634.5 1785.5 L842.3 1657.5" fill="none" stroke="#000" stroke-width="4.1" stroke-linecap="butt" stroke-linejoin="round"/><path d="M634.5 1785.5 L842.3 1657.5" fill="none" stroke="#fff" stroke-width="2.1" stroke-linecap="butt" stroke-linejoin="round"/>
<rect x="633.2" y="1784.2" width="2.6" height="2.6" fill="#000"/>
<path d="M659.8 1800.1 L867.6 1672.1" fill="none" stroke="#000" stroke-width="4.1" stroke-linecap="butt" stroke-linejoin="round"/><path d="M659.8 1800.1 L867.6 1672.1" fill="none" stroke="#fff" stroke-width="2.1" stroke-linecap="butt" stroke-linejoin="round"/>
<rect x="658.5" y="1798.8" width="2.6" height="2.6" fill="#000"/>
<path d="M685.0 1814.7 L892.9 1686.7" fill="none" stroke="#000" stroke-width="4.1" stroke-linecap="butt" stroke-linejoin="round"/><path d="M685.0 1814.7 L892.9 1686.7" fill="none" stroke="#fff" stroke-width="2.1" stroke-linecap="butt" stroke-linejoin="round"/>
<rect x="683.7" y="1813.4" width="2.6" height="2.6" fill="#000"/>
<path d="M682.6 1845.3 L918.2 1701.3" fill="none" stroke="#000" stroke-width="4.1" stroke-linecap="butt" stroke-linejoin="round"/><path d="M682.6 1845.3 L918.2 1701.3" fill="none" stroke="#fff" stroke-width="2.1" stroke-linecap="butt" stroke-linejoin="round"/>
<rect x="681.3" y="1844.0" width="2.6" height="2.6" fill="#000"/>
<path d="M707.9 1859.9 L943.5 1715.9" fill="none" stroke="#000" stroke-width="4.1" stroke-linecap="butt" stroke-linejoin="round"/><path d="M707.9 1859.9 L943.5 1715.9" fill="none" stroke="#fff" stroke-width="2.1" stroke-linecap="butt" stroke-linejoin="round"/>
<rect x="706.6" y="1858.6" width="2.6" height="2.6" fill="#000"/>
<path d="M733.2 1874.5 L968.7 1730.5" fill="none" stroke="#000" stroke-width="4.1" stroke-linecap="butt" stroke-linejoin="round"/><path d="M733.2 1874.5 L968.7 1730.5" fill="none" stroke="#fff" stroke-width="2.1" stroke-linecap="butt" stroke-linejoin="round"/>
<rect x="731.9" y="1873.2" width="2.6" height="2.6" fill="#000"/>
<path d="M758.5 1889.1 L994.0 1745.1" fill="none" stroke="#000" stroke-width="4.1" stroke-linecap="butt" stroke-linejoin="round"/><path d="M758.5 1889.1 L994.0 1745.1" fill="none" stroke="#fff" stroke-width="2.1" stroke-linecap="butt" stroke-linejoin="round"/>
<rect x="757.2" y="1887.8" width="2.6" height="2.6" fill="#000"/>
<path d="M678.6 1703.0 L792.1 1630.5" fill="none" stroke="#000" stroke-width="2.4" stroke-linejoin="round" />
<path d="M754.4 1746.8 L866.1 1675.2" fill="none" stroke="#000" stroke-width="2.4" stroke-linejoin="round" />
<path d="M458.7 1715.0 L677.8 1585.5 L684.0 1572.0 L686.0 1566.0 L689.8 1563.5" fill="none" stroke="#000" stroke-width="6.0" stroke-linecap="butt" stroke-linejoin="round"/><path d="M458.7 1715.0 L677.8 1585.5 L684.0 1572.0 L686.0 1566.0 L689.8 1563.5" fill="none" stroke="#fff" stroke-width="3.9" stroke-linecap="butt" stroke-linejoin="round"/>
<path d="M682.5 1571.5 L684.5 1565.5 L688.0 1562.8 L691.5 1563.5 L1013.2 1749.5 L1011.0 1756.0 L1004.0 1764.0 L998.0 1768.6 L766.0 1890.5" fill="none" stroke="#000" stroke-width="6.0" stroke-linecap="butt" stroke-linejoin="round"/><path d="M682.5 1571.5 L684.5 1565.5 L688.0 1562.8 L691.5 1563.5 L1013.2 1749.5 L1011.0 1756.0 L1004.0 1764.0 L998.0 1768.6 L766.0 1890.5" fill="none" stroke="#fff" stroke-width="3.9" stroke-linecap="butt" stroke-linejoin="round"/>
<path d="M451.7 1714.0 L759.2 1891.5" fill="none" stroke="#000" stroke-width="6.0" stroke-linecap="butt" stroke-linejoin="round"/><path d="M451.7 1714.0 L759.2 1891.5" fill="none" stroke="#fff" stroke-width="3.9" stroke-linecap="butt" stroke-linejoin="round"/>
<path d="M440.5 1706.0 L446.0 1701.0 L452.0 1700.0" fill="none" stroke="#000" stroke-width="1.2" stroke-linejoin="round" />
<path d="M440.5 1706.0 L440.5 1717.0 L444.0 1719.0" fill="none" stroke="#000" stroke-width="1.2" stroke-linejoin="round" />
<path d="M444.0 1715.0 L450.0 1711.0 L466.0 1720.0 L466.0 1731.0 L462.0 1733.0 L448.0 1727.0Z" fill="#fff" stroke="#000" stroke-width="1.2" stroke-linejoin="round" />
<path d="M462.0 1722.0 L462.0 1733.0" fill="none" stroke="#000" stroke-width="1.0" stroke-linejoin="round" />
<path d="M458.0 1727.0 L466.0 1727.0" fill="none" stroke="#000" stroke-width="1.0" stroke-linejoin="round" />
<path d="M455 1710 l8 4 l0 5 l-8 -4z" fill="#000"/>
<path d="M991.0 1774.7 L766.5 1890.5" fill="none" stroke="#000" stroke-width="1.1" stroke-linejoin="round" />
<path d="M988.0 1779.7 L782.6 1891.9" fill="none" stroke="#000" stroke-width="1.1" stroke-linejoin="round" />
<path d="M987.0 1783.1 L784.6 1895.1" fill="none" stroke="#000" stroke-width="1.1" stroke-linejoin="round" />
<path d="M979.0 1771.0 L885.3 1819.4" stroke="#000" stroke-width="2.6" stroke-dasharray="1.4 1.2" fill="none"/>
<path d="M986.0 1781.7 L788.6 1891.9" stroke="#000" stroke-width="2.4" stroke-dasharray="1.4 1.2" fill="none"/>
<path d="M987.0 1776.7 L987.0 1794.8" fill="none" stroke="#000" stroke-width="1.6" stroke-linejoin="round" />
<path d="M938.7 1796.8 q3 -6 7 -1 z" fill="#fff" stroke="#000" stroke-width="1.1"/>
<path d="M900.4 1819.0 q3 -6 7 -1 z" fill="#fff" stroke="#000" stroke-width="1.1"/>
<path d="M862.2 1841.1 q3 -6 7 -1 z" fill="#fff" stroke="#000" stroke-width="1.1"/>
<path d="M822.9 1863.3 q3 -6 7 -1 z" fill="#fff" stroke="#000" stroke-width="1.1"/>
<path d="M783.6 1885.8 q3 -6 7 -1 z" fill="#fff" stroke="#000" stroke-width="1.1"/>
<path d="M1012.6 1783.1 L1013.4 1786.3 L1002.1 1796.4 L817.2 1899.9" fill="none" stroke="#000" stroke-width="5.0" stroke-linecap="butt" stroke-linejoin="round"/><path d="M1012.6 1783.1 L1013.4 1786.3 L1002.1 1796.4 L817.2 1899.9" fill="none" stroke="#fff" stroke-width="2.9" stroke-linecap="butt" stroke-linejoin="round"/>
<ellipse cx="1012.6" cy="1784.3" rx="2.3" ry="3.2" fill="#fff" stroke="#000" stroke-width="1" transform="rotate(-30 1012.6 1784.3)"/>
<path d="M942.7 1828.0 L794.7 1903.2 L791.0 1906.6 L791.0 1916.7" fill="none" stroke="#000" stroke-width="5.6" stroke-linecap="round" stroke-linejoin="round"/><path d="M942.7 1828.0 L794.7 1903.2 L791.0 1906.6 L791.0 1916.7" fill="none" stroke="#fff" stroke-width="3.5" stroke-linecap="round" stroke-linejoin="round"/>
<path d="M815.8 1895.5 L815.8 1901.6" fill="none" stroke="#000" stroke-width="5.0" stroke-linecap="round" stroke-linejoin="round"/><path d="M815.8 1895.5 L815.8 1901.6" fill="none" stroke="#fff" stroke-width="2.9" stroke-linecap="round" stroke-linejoin="round"/>
<path d="M927.6 1817.0 L935.6 1816.0 L947.7 1819.0 L946.7 1824.0 L941.7 1828.0 L928.6 1826.0Z" fill="#fff" stroke="#000" stroke-width="1.6" stroke-linejoin="round" />
<circle cx="932.6" cy="1821.0" r="3" fill="#fff" stroke="#000" stroke-width="1.8"/>
<path d="M946.7 1800.8 L955.8 1803.9 L955.8 1812.9 L948.7 1808.9Z" fill="#fff" stroke="#000" stroke-width="1.4" stroke-linejoin="round" />
<path d="M939.7 1832.1 L949.7 1829.0" fill="none" stroke="#000" stroke-width="2.2" stroke-linejoin="round" />
<path d="M812.8 1882.4 L823.9 1879.4 L823.9 1887.5 L815.8 1889.5Z" fill="#fff" stroke="#000" stroke-width="1.6" stroke-linejoin="round" />
<path d="M815.8 1883.8 L820.8 1887.5" fill="none" stroke="#000" stroke-width="1.2" stroke-linejoin="round" />
<path d="M766.5 1895.5 L782.2 1896.7 L782.6 1915.2 L779.0 1916.1 L766.5 1910.0Z" fill="#fff" stroke="#000" stroke-width="1.5" stroke-linejoin="round" />
<path d="M779.0 1897.5 L779.0 1916.1" fill="none" stroke="#000" stroke-width="1.0" stroke-linejoin="round" />
<path d="M781.6 1898.5 L781.6 1913.6" fill="none" stroke="#000" stroke-width="2.2" stroke-linejoin="round" stroke-dasharray="3 2"/>
<path d="M760.4 1891.9 L762.8 1895.5 L780.6 1893.9" fill="none" stroke="#000" stroke-width="3.4" stroke-linecap="butt" stroke-linejoin="round"/><path d="M760.4 1891.9 L762.8 1895.5 L780.6 1893.9" fill="none" stroke="#fff" stroke-width="1.4" stroke-linecap="butt" stroke-linejoin="round"/>
<path d="M700.0 1845.2 L738.3 1846.2 L730.2 1852.2 L700.0 1853.2" fill="none" stroke="#000" stroke-width="1.2" stroke-linejoin="round" />
<path d="M700.0 1848.2 L736.3 1847.6" fill="none" stroke="#000" stroke-width="2.0" stroke-linejoin="round" />
<path d="M708.1 1857.2 L739.3 1847.2" fill="none" stroke="#000" stroke-width="1.2" stroke-linejoin="round" />
<path d="M613.8 1971.2 L627.5 1962.5 L641.2 1957.5 L890.0 2101.2 L892.5 2115.0 L875.0 2123.8 L615.0 1973.0Z" fill="#fff" stroke="#000" stroke-width="1.3" stroke-linejoin="round" />
<path d="M628.0 1962.8 L884.5 2110.5" fill="none" stroke="#000" stroke-width="1.2" stroke-linejoin="round" />
<path d="M629.5 1964.5 L883.0 2111.8" fill="none" stroke="#000" stroke-width="1.0" stroke-linejoin="round" />
<path d="M613.8 1971.2 L614.5 1978.0 L616.0 1977.5" fill="none" stroke="#000" stroke-width="1.1" stroke-linejoin="round" />
<path d="M875.0 2123.8 L875.8 2117.5 L884.5 2110.5 L891.2 2108.0" fill="none" stroke="#000" stroke-width="1.1" stroke-linejoin="round" />
<path d="M877.5 2123.8 L878.8 2130.0 L882.0 2131.2 L882.5 2137.5 L887.5 2133.8 L887.5 2123.0 L881.2 2121.2Z" fill="#fff" stroke="#000" stroke-width="1.2" stroke-linejoin="round" />
<circle cx="884.5" cy="2120.5" r="1.6" fill="#fff" stroke="#000" stroke-width="1"/>
<path d="M616.7 1981.2 L616.7 2050.0" fill="none" stroke="#000" stroke-width="6.0" stroke-linejoin="round" />
<path d="M616.7 2065.0 L616.7 2077.5" fill="none" stroke="#000" stroke-width="6.0" stroke-linejoin="round" />
<path d="M616.7 2092.5 L616.7 2162.5" fill="none" stroke="#000" stroke-width="6.0" stroke-linejoin="round" />
<path d="M616.7 2176.0 L616.7 2190.0" fill="none" stroke="#000" stroke-width="6.0" stroke-linejoin="round" />
<path d="M616.7 2203.7 L616.7 2243.7" fill="none" stroke="#000" stroke-width="6.0" stroke-linejoin="round" />
<path d="M857.6 2189.5 L970.2 2254.5 L973.7 2256.5 L973.7 2267.5 L970.2 2266.5 L857.6 2201.5Z" fill="#fff" stroke="#000" stroke-width="1.2" stroke-linejoin="round" />
<path d="M857.6 2193.5 L970.2 2258.5" fill="none" stroke="#000" stroke-width="1.0" stroke-linejoin="round" />
<path d="M888.8 2203.5 L888.8 2191.5 L892.3 2194.5 L893.1 2206.0Z" fill="#fff" stroke="#000" stroke-width="1.1" stroke-linejoin="round" />
<circle cx="890.5" cy="2197.5" r="0.9" fill="#000"/>
<path d="M937.3 2231.5 L937.3 2219.5 L940.8 2222.5 L941.6 2234.0Z" fill="#fff" stroke="#000" stroke-width="1.1" stroke-linejoin="round" />
<circle cx="939.0" cy="2225.5" r="0.9" fill="#000"/>
<path d="M886.2 2217.0 L872.3 2225.0 L869.3 2226.5 L866.0 2227.8 L862.4 2228.8 L858.6 2229.6 L854.7 2230.0 L850.7 2230.2 L846.7 2230.0 L842.8 2229.6 L839.0 2228.8 L835.4 2227.8 L832.1 2226.5 L829.0 2225.0 L762.4 2186.5 L760.0 2185.3 L757.3 2184.3 L754.4 2183.4 L751.4 2182.8 L748.2 2182.5 L745.0 2182.4 L741.8 2182.5 L738.7 2182.8 L735.7 2183.4 L732.8 2184.3 L730.1 2185.3 L727.7 2186.5 L529.4 2301.0 L527.1 2302.5 L525.2 2304.2 L523.7 2306.0 L522.6 2307.8 L521.9 2309.8 L521.7 2311.8 L521.9 2313.8 L522.6 2315.8 L523.7 2317.6 L525.2 2319.4 L527.1 2321.1 L529.4 2322.6 L529.4 2322.6 L532.0 2323.9 L534.9 2325.0 L538.0 2325.9 L541.3 2326.6 L544.7 2326.9 L548.1 2327.1 L551.6 2326.9 L555.0 2326.6 L558.2 2325.9 L561.3 2325.0 L564.2 2323.9 L566.8 2322.6 L735.7 2225.1 L738.3 2223.8 L741.2 2222.7 L744.3 2221.8 L747.5 2221.1 L750.9 2220.8 L754.4 2220.6 L757.8 2220.8 L761.2 2221.1 L764.5 2221.8 L767.6 2222.7 L770.5 2223.8 L773.1 2225.1 L773.1 2225.1 L775.4 2226.6 L777.3 2228.3 L778.8 2230.1 L779.9 2231.9 L780.6 2233.9 L780.8 2235.9 L780.6 2237.9 L779.9 2239.9 L778.8 2241.7 L777.3 2243.5 L775.4 2245.2 L773.1 2246.7 L604.2 2344.2 L601.9 2345.7 L600.0 2347.4 L598.5 2349.2 L597.4 2351.0 L596.7 2353.0 L596.5 2355.0 L596.7 2357.0 L597.4 2359.0 L598.5 2360.8 L600.0 2362.6 L601.9 2364.3 L604.2 2365.8 L604.2 2365.8 L606.8 2367.1 L609.7 2368.2 L612.8 2369.1 L616.1 2369.8 L619.5 2370.1 L622.9 2370.3 L626.4 2370.1 L629.8 2369.8 L633.1 2369.1 L636.2 2368.2 L639.0 2367.1 L641.6 2365.8 L810.5 2268.3 L813.1 2267.0 L816.0 2265.9 L819.1 2265.0 L822.4 2264.3 L825.8 2264.0 L829.2 2263.8 L832.7 2264.0 L836.1 2264.3 L839.3 2265.0 L842.4 2265.9 L845.3 2267.0 L847.9 2268.3 L847.9 2268.3 L850.2 2269.8 L852.1 2271.5 L853.7 2273.3 L854.8 2275.1 L855.4 2277.1 L855.7 2279.1 L855.4 2281.1 L854.8 2283.1 L853.7 2284.9 L852.1 2286.7 L850.2 2288.4 L847.9 2289.9 L679.0 2387.4 L676.8 2388.9 L674.8 2390.6 L673.3 2392.4 L672.2 2394.2 L671.5 2396.2 L671.3 2398.2 L671.5 2400.2 L672.2 2402.2 L673.3 2404.0 L674.8 2405.8 L676.8 2407.5 L679.0 2409.0 L679.0 2409.0 L681.7 2410.3 L684.5 2411.4 L687.6 2412.3 L690.9 2413.0 L694.3 2413.3 L697.8 2413.5 L701.2 2413.3 L704.6 2413.0 L707.9 2412.3 L711.0 2411.4 L713.9 2410.3 L716.5 2409.0 L885.3 2311.5 L887.9 2310.2 L890.8 2309.1 L893.9 2308.2 L897.2 2307.5 L900.6 2307.2 L904.0 2307.0 L907.5 2307.2 L910.9 2307.5 L914.2 2308.2 L917.3 2309.1 L920.1 2310.2 L922.7 2311.5 L922.7 2311.5 L925.0 2313.0 L927.0 2314.7 L928.5 2316.5 L929.6 2318.3 L930.3 2320.3 L930.5 2322.3 L930.3 2324.3 L929.6 2326.3 L928.5 2328.1 L927.0 2329.9 L925.0 2331.6 L922.7 2333.1 L753.9 2430.6 L751.6 2432.1 L749.7 2433.8 L748.1 2435.6 L747.0 2437.4 L746.4 2439.4 L746.1 2441.4 L746.4 2443.4 L747.0 2445.4 L748.1 2447.2 L749.7 2449.0 L751.6 2450.7 L753.9 2452.2 L753.9 2452.2 L756.5 2453.5 L759.4 2454.6 L762.5 2455.5 L765.7 2456.2 L769.1 2456.5 L772.6 2456.7 L776.0 2456.5 L779.4 2456.2 L782.7 2455.5 L785.8 2454.6 L788.7 2453.5 L791.3 2452.2 L988.7 2338.2 L991.0 2336.7 L992.8 2335.1 L994.3 2333.4 L995.4 2331.5 L996.1 2329.6 L996.3 2327.7 L996.1 2325.8 L995.4 2323.9 L994.3 2322.0 L992.8 2320.3 L991.0 2318.7 L988.7 2317.2 L912.2 2273.0 L910.6 2272.0 L909.3 2270.8 L908.2 2269.6 L907.4 2268.2 L907.0 2266.9 L906.8 2265.5 L907.0 2264.1 L907.4 2262.8 L908.2 2261.4 L909.3 2260.2 L910.6 2259.0 L912.2 2258.0 L934.7 2245.0" fill="none" stroke="#000" stroke-width="7.0" stroke-linecap="butt" stroke-linejoin="round"/><path d="M886.2 2217.0 L872.3 2225.0 L869.3 2226.5 L866.0 2227.8 L862.4 2228.8 L858.6 2229.6 L854.7 2230.0 L850.7 2230.2 L846.7 2230.0 L842.8 2229.6 L839.0 2228.8 L835.4 2227.8 L832.1 2226.5 L829.0 2225.0 L762.4 2186.5 L760.0 2185.3 L757.3 2184.3 L754.4 2183.4 L751.4 2182.8 L748.2 2182.5 L745.0 2182.4 L741.8 2182.5 L738.7 2182.8 L735.7 2183.4 L732.8 2184.3 L730.1 2185.3 L727.7 2186.5 L529.4 2301.0 L527.1 2302.5 L525.2 2304.2 L523.7 2306.0 L522.6 2307.8 L521.9 2309.8 L521.7 2311.8 L521.9 2313.8 L522.6 2315.8 L523.7 2317.6 L525.2 2319.4 L527.1 2321.1 L529.4 2322.6 L529.4 2322.6 L532.0 2323.9 L534.9 2325.0 L538.0 2325.9 L541.3 2326.6 L544.7 2326.9 L548.1 2327.1 L551.6 2326.9 L555.0 2326.6 L558.2 2325.9 L561.3 2325.0 L564.2 2323.9 L566.8 2322.6 L735.7 2225.1 L738.3 2223.8 L741.2 2222.7 L744.3 2221.8 L747.5 2221.1 L750.9 2220.8 L754.4 2220.6 L757.8 2220.8 L761.2 2221.1 L764.5 2221.8 L767.6 2222.7 L770.5 2223.8 L773.1 2225.1 L773.1 2225.1 L775.4 2226.6 L777.3 2228.3 L778.8 2230.1 L779.9 2231.9 L780.6 2233.9 L780.8 2235.9 L780.6 2237.9 L779.9 2239.9 L778.8 2241.7 L777.3 2243.5 L775.4 2245.2 L773.1 2246.7 L604.2 2344.2 L601.9 2345.7 L600.0 2347.4 L598.5 2349.2 L597.4 2351.0 L596.7 2353.0 L596.5 2355.0 L596.7 2357.0 L597.4 2359.0 L598.5 2360.8 L600.0 2362.6 L601.9 2364.3 L604.2 2365.8 L604.2 2365.8 L606.8 2367.1 L609.7 2368.2 L612.8 2369.1 L616.1 2369.8 L619.5 2370.1 L622.9 2370.3 L626.4 2370.1 L629.8 2369.8 L633.1 2369.1 L636.2 2368.2 L639.0 2367.1 L641.6 2365.8 L810.5 2268.3 L813.1 2267.0 L816.0 2265.9 L819.1 2265.0 L822.4 2264.3 L825.8 2264.0 L829.2 2263.8 L832.7 2264.0 L836.1 2264.3 L839.3 2265.0 L842.4 2265.9 L845.3 2267.0 L847.9 2268.3 L847.9 2268.3 L850.2 2269.8 L852.1 2271.5 L853.7 2273.3 L854.8 2275.1 L855.4 2277.1 L855.7 2279.1 L855.4 2281.1 L854.8 2283.1 L853.7 2284.9 L852.1 2286.7 L850.2 2288.4 L847.9 2289.9 L679.0 2387.4 L676.8 2388.9 L674.8 2390.6 L673.3 2392.4 L672.2 2394.2 L671.5 2396.2 L671.3 2398.2 L671.5 2400.2 L672.2 2402.2 L673.3 2404.0 L674.8 2405.8 L676.8 2407.5 L679.0 2409.0 L679.0 2409.0 L681.7 2410.3 L684.5 2411.4 L687.6 2412.3 L690.9 2413.0 L694.3 2413.3 L697.8 2413.5 L701.2 2413.3 L704.6 2413.0 L707.9 2412.3 L711.0 2411.4 L713.9 2410.3 L716.5 2409.0 L885.3 2311.5 L887.9 2310.2 L890.8 2309.1 L893.9 2308.2 L897.2 2307.5 L900.6 2307.2 L904.0 2307.0 L907.5 2307.2 L910.9 2307.5 L914.2 2308.2 L917.3 2309.1 L920.1 2310.2 L922.7 2311.5 L922.7 2311.5 L925.0 2313.0 L927.0 2314.7 L928.5 2316.5 L929.6 2318.3 L930.3 2320.3 L930.5 2322.3 L930.3 2324.3 L929.6 2326.3 L928.5 2328.1 L927.0 2329.9 L925.0 2331.6 L922.7 2333.1 L753.9 2430.6 L751.6 2432.1 L749.7 2433.8 L748.1 2435.6 L747.0 2437.4 L746.4 2439.4 L746.1 2441.4 L746.4 2443.4 L747.0 2445.4 L748.1 2447.2 L749.7 2449.0 L751.6 2450.7 L753.9 2452.2 L753.9 2452.2 L756.5 2453.5 L759.4 2454.6 L762.5 2455.5 L765.7 2456.2 L769.1 2456.5 L772.6 2456.7 L776.0 2456.5 L779.4 2456.2 L782.7 2455.5 L785.8 2454.6 L788.7 2453.5 L791.3 2452.2 L988.7 2338.2 L991.0 2336.7 L992.8 2335.1 L994.3 2333.4 L995.4 2331.5 L996.1 2329.6 L996.3 2327.7 L996.1 2325.8 L995.4 2323.9 L994.3 2322.0 L992.8 2320.3 L991.0 2318.7 L988.7 2317.2 L912.2 2273.0 L910.6 2272.0 L909.3 2270.8 L908.2 2269.6 L907.4 2268.2 L907.0 2266.9 L906.8 2265.5 L907.0 2264.1 L907.4 2262.8 L908.2 2261.4 L909.3 2260.2 L910.6 2259.0 L912.2 2258.0 L934.7 2245.0" fill="none" stroke="#fff" stroke-width="4.6" stroke-linecap="butt" stroke-linejoin="round"/>
<line x1="870.6" y1="2222.0" x2="874.1" y2="2228.0" stroke="#000" stroke-width="1.2"/><line x1="827.3" y1="2228.0" x2="830.8" y2="2222.0" stroke="#000" stroke-width="1.2"/><line x1="764.1" y1="2183.5" x2="760.6" y2="2189.5" stroke="#000" stroke-width="1.2"/><line x1="729.5" y1="2189.5" x2="726.0" y2="2183.5" stroke="#000" stroke-width="1.2"/><line x1="527.6" y1="2298.0" x2="531.1" y2="2304.0" stroke="#000" stroke-width="1.2"/><line x1="531.1" y1="2319.6" x2="527.6" y2="2325.6" stroke="#000" stroke-width="1.2"/><line x1="527.6" y1="2325.6" x2="531.1" y2="2319.6" stroke="#000" stroke-width="1.2"/><line x1="565.1" y1="2319.6" x2="568.6" y2="2325.6" stroke="#000" stroke-width="1.2"/><line x1="737.4" y1="2228.1" x2="733.9" y2="2222.1" stroke="#000" stroke-width="1.2"/><line x1="774.8" y1="2222.1" x2="771.3" y2="2228.1" stroke="#000" stroke-width="1.2"/><line x1="771.3" y1="2228.1" x2="774.8" y2="2222.1" stroke="#000" stroke-width="1.2"/><line x1="774.8" y1="2249.7" x2="771.3" y2="2243.7" stroke="#000" stroke-width="1.2"/><line x1="602.5" y1="2341.2" x2="606.0" y2="2347.2" stroke="#000" stroke-width="1.2"/><line x1="606.0" y1="2362.8" x2="602.5" y2="2368.8" stroke="#000" stroke-width="1.2"/><line x1="602.5" y1="2368.8" x2="606.0" y2="2362.8" stroke="#000" stroke-width="1.2"/><line x1="639.9" y1="2362.8" x2="643.4" y2="2368.8" stroke="#000" stroke-width="1.2"/><line x1="812.3" y1="2271.3" x2="808.8" y2="2265.3" stroke="#000" stroke-width="1.2"/><line x1="849.7" y1="2265.3" x2="846.2" y2="2271.3" stroke="#000" stroke-width="1.2"/><line x1="846.2" y1="2271.3" x2="849.7" y2="2265.3" stroke="#000" stroke-width="1.2"/><line x1="849.7" y1="2292.9" x2="846.2" y2="2286.9" stroke="#000" stroke-width="1.2"/><line x1="677.3" y1="2384.4" x2="680.8" y2="2390.4" stroke="#000" stroke-width="1.2"/><line x1="680.8" y1="2406.0" x2="677.3" y2="2412.0" stroke="#000" stroke-width="1.2"/><line x1="677.3" y1="2412.0" x2="680.8" y2="2406.0" stroke="#000" stroke-width="1.2"/><line x1="714.7" y1="2406.0" x2="718.2" y2="2412.0" stroke="#000" stroke-width="1.2"/><line x1="887.1" y1="2314.5" x2="883.6" y2="2308.5" stroke="#000" stroke-width="1.2"/><line x1="924.5" y1="2308.5" x2="921.0" y2="2314.5" stroke="#000" stroke-width="1.2"/><line x1="921.0" y1="2314.5" x2="924.5" y2="2308.5" stroke="#000" stroke-width="1.2"/><line x1="924.5" y1="2336.1" x2="921.0" y2="2330.1" stroke="#000" stroke-width="1.2"/><line x1="752.1" y1="2427.6" x2="755.6" y2="2433.6" stroke="#000" stroke-width="1.2"/><line x1="755.6" y1="2449.2" x2="752.1" y2="2455.2" stroke="#000" stroke-width="1.2"/><line x1="752.1" y1="2455.2" x2="755.6" y2="2449.2" stroke="#000" stroke-width="1.2"/><line x1="789.5" y1="2449.2" x2="793.0" y2="2455.2" stroke="#000" stroke-width="1.2"/><line x1="990.5" y1="2341.2" x2="987.0" y2="2335.2" stroke="#000" stroke-width="1.2"/><line x1="987.0" y1="2320.2" x2="990.5" y2="2314.2" stroke="#000" stroke-width="1.2"/><line x1="913.9" y1="2270.0" x2="910.4" y2="2276.0" stroke="#000" stroke-width="1.2"/><line x1="910.4" y1="2255.0" x2="913.9" y2="2261.0" stroke="#000" stroke-width="1.2"/>
<ellipse cx="887.9" cy="2216.0" rx="2.4" ry="3.8" fill="#fff" stroke="#000" stroke-width="1.1" transform="rotate(-30 887.9 2216.0)"/>
<path d="M889.9 2215.0 L896.9 2211.0" fill="none" stroke="#000" stroke-width="4.0" stroke-linecap="butt" stroke-linejoin="round"/><path d="M889.9 2215.0 L896.9 2211.0" fill="none" stroke="#fff" stroke-width="2.0" stroke-linecap="butt" stroke-linejoin="round"/>
<ellipse cx="936.4" cy="2244.0" rx="2.4" ry="3.8" fill="#fff" stroke="#000" stroke-width="1.1" transform="rotate(-30 936.4 2244.0)"/>
<path d="M938.4 2243.0 L945.4 2239.0" fill="none" stroke="#000" stroke-width="4.0" stroke-linecap="butt" stroke-linejoin="round"/><path d="M938.4 2243.0 L945.4 2239.0" fill="none" stroke="#fff" stroke-width="2.0" stroke-linecap="butt" stroke-linejoin="round"/>
<ellipse cx="843" cy="2258" rx="26" ry="17" fill="#fff" transform="rotate(-30 843 2258)"/>
<path d="M873.7 2240 L896 2226.5" stroke="#000" stroke-width="4.5" stroke-dasharray="1.6 1" fill="none"/>
<g transform="translate(836.0 2260.0) rotate(1.0)"><polygon points="6.8,-12.1 28.0,-23.6 34.5,-22.7 37.1,-20.1 36.2,-14.3 33.2,-9.1 15.3,2.0" fill="#fff" stroke="#000" stroke-width="2.4" stroke-linejoin="round"/><polyline points="9.8,-10.1 12.1,-8.8" fill="none" stroke="#000" stroke-width="2.4"/><polyline points="14.3,-12.7 16.3,-11.4" fill="none" stroke="#000" stroke-width="2.4"/><polyline points="19.2,-16.9 22.5,-15.3" fill="none" stroke="#000" stroke-width="2.4"/><polyline points="23.8,-19.5 26.7,-17.3" fill="none" stroke="#000" stroke-width="2.4"/><polyline points="13.7,-5.5 14.2,-2.3" fill="none" stroke="#000" stroke-width="2.4"/><polyline points="17.6,-8.5 19.7,-4.4" fill="none" stroke="#000" stroke-width="2.4"/><polyline points="23.1,-11.7 25.5,-8.8" fill="none" stroke="#000" stroke-width="2.4"/><polyline points="28.5,-14.9 29.4,-12.1" fill="none" stroke="#000" stroke-width="2.4"/><polyline points="26.4,-20.2 30.9,-16.9 32.1,-10.4" fill="none" stroke="#000" stroke-width="2.2"/><polyline points="29.6,-21.2 33.7,-17.3 34.4,-12.4" fill="none" stroke="#000" stroke-width="2.2"/><polygon points="-13.8,-5.9 -7.7,-12.5 -3.3,-14.9 3.3,-14.9 7.8,-11.4 12.4,-6.5 15.3,1.3 14.7,9.1 11.1,13.0 3.3,15.0 -6.5,15.0 -11.7,9.1 -13.8,3.9" fill="#000" stroke="#000" stroke-width="1" stroke-linejoin="round"/><polygon points="-11.2,-3.1 -8.8,-4.0 -0.8,2.6 -1.4,4.6" fill="#fff"/><polygon points="-11.6,4.4 -9.8,4.0 0.0,10.6 -1.4,12.9 -5.1,12.9" fill="#fff"/><polygon points="-4.4,-11.2 1.8,-11.9 2.7,-10.6 -3.3,-9.9" fill="#fff"/><polygon points="-2.5,-5.2 1.3,-8.5 7.0,-1.3 2.0,2.0" fill="#fff"/><polygon points="3.4,5.3 9.0,2.1 8.3,8.5 4.0,11.1" fill="#fff"/><polygon points="10.4,2.0 12.1,2.6 11.4,9.1 10.1,9.9" fill="#fff"/><polygon points="-11.4,-4.9 -7.3,-9.1 -5.7,-7.8 -9.4,-4.6" fill="#fff"/></g>
<path d="M443.1 2687.1 L434.2 2694.2 L562.2 2768.8 L565.7 2773.1 L585.3 2782.3 L585.3 2785.9 L713.2 2857.7 L723.9 2852.3 L736.4 2863.0 L755.9 2852.3 L462.7 2683.5Z" fill="#fff" stroke="#000" stroke-width="1.2" stroke-linejoin="round" />
<path d="M478.6 2672.1 L478.6 2655.1 L480.4 2652.2 L624.4 2569.8 L629.0 2570.8 L629.7 2585.8Z" fill="#fff" stroke="#000" stroke-width="1.2" stroke-linejoin="round" />
<path d="M462.7 2683.5 L649.3 2573.3 L695.5 2546.7 L695.5 2533.5 L700.8 2532.8 L710.8 2540.6 L711.5 2555.5 L743.5 2537.1 L1002.9 2687.1 L1004.7 2695.9 L988.7 2704.8 L988.7 2714.8 L944.3 2743.9 L755.9 2852.3Z" fill="#fff" stroke="#000" stroke-width="1.2" stroke-linejoin="round" />
<path d="M695.5 2546.7 L707.2 2553.8 L711.5 2555.5" fill="none" stroke="#000" stroke-width="1.0" stroke-linejoin="round" />
<circle cx="707.2" cy="2543.1" r="1.6" fill="#fff" stroke="#000" stroke-width="1"/>
<path d="M812.8 2572.6 L814.6 2578.6 L846.5 2596.4 L846.5 2589.3Z" fill="#fff" stroke="#000" stroke-width="1.1" stroke-linejoin="round" />
<path d="M899.9 2623.1 L900.6 2629.5 L933.6 2648.0 L933.6 2641.6Z" fill="#fff" stroke="#000" stroke-width="1.1" stroke-linejoin="round" />
<path d="M851.9 2594.6 L853.7 2601.0 L866.1 2603.5 L867.2 2596.4 L878.5 2601.8 L879.2 2610.6 L885.6 2613.1 L895.6 2620.6" fill="none" stroke="#000" stroke-width="1.1" stroke-linejoin="round" />
<path d="M871.4 2602.5 L875.0 2603.9 L875.0 2609.6 L871.4 2608.2Z" fill="#fff" stroke="#000" stroke-width="1.1" stroke-linejoin="round" />
<path d="M976.3 2694.9 L978.1 2699.5 L974.5 2702.0 L974.5 2706.6" fill="none" stroke="#000" stroke-width="1.4" stroke-linejoin="round" />
<path d="M988.7 2704.8 L980.9 2700.6" fill="none" stroke="#000" stroke-width="1.0" stroke-linejoin="round" />
<path d="M649.3 2573.3 L944.3 2743.9" stroke="#000" stroke-width="3" stroke-dasharray="1.4 1.1" fill="none"/>
<path d="M463.4 2684.2 L754.1 2851.3" fill="none" stroke="#000" stroke-width="2.4" stroke-linejoin="round" />
<path d="M457.3 2684.2 L736.4 2861.9" fill="none" stroke="#000" stroke-width="1.0" stroke-linejoin="round" />
<path d="M446.7 2687.1 L462.7 2682.8" fill="none" stroke="#000" stroke-width="1.0" stroke-linejoin="round" />
<path d="M443.1 2687.1 L442.0 2690.6" fill="none" stroke="#000" stroke-width="1.0" stroke-linejoin="round" />
<path d="M775.5 2841.7 L777.2 2830.0 L782.6 2823.9 L924.7 2742.2 L926.5 2743.9 L924.7 2757.4Z" fill="#fff" stroke="#000" stroke-width="1.2" stroke-linejoin="round" />
<ellipse cx="602.0" cy="2650.5" rx="5.2" ry="3.6" fill="#fff" stroke="#000" stroke-width="1.2"/>
<ellipse cx="812.8" cy="2772.7" rx="5.2" ry="3.6" fill="#fff" stroke="#000" stroke-width="1.2"/>
<rect x="568.1" y="2630.8" width="6" height="2.4" fill="#fff" stroke="#000" stroke-width="1" transform="rotate(-28 571.1 2632.0)"/>
<path d="M834 2619.5 L860.8 2602.5" stroke="#000" stroke-width="4.5" stroke-dasharray="1.6 1" fill="none"/>
<g transform="translate(800.3 2635.5) rotate(3.0)"><polygon points="6.8,-12.1 28.0,-23.6 34.5,-22.7 37.1,-20.1 36.2,-14.3 33.2,-9.1 15.3,2.0" fill="#fff" stroke="#000" stroke-width="2.4" stroke-linejoin="round"/><polyline points="9.8,-10.1 12.1,-8.8" fill="none" stroke="#000" stroke-width="2.4"/><polyline points="14.3,-12.7 16.3,-11.4" fill="none" stroke="#000" stroke-width="2.4"/><polyline points="19.2,-16.9 22.5,-15.3" fill="none" stroke="#000" stroke-width="2.4"/><polyline points="23.8,-19.5 26.7,-17.3" fill="none" stroke="#000" stroke-width="2.4"/><polyline points="13.7,-5.5 14.2,-2.3" fill="none" stroke="#000" stroke-width="2.4"/><polyline points="17.6,-8.5 19.7,-4.4" fill="none" stroke="#000" stroke-width="2.4"/><polyline points="23.1,-11.7 25.5,-8.8" fill="none" stroke="#000" stroke-width="2.4"/><polyline points="28.5,-14.9 29.4,-12.1" fill="none" stroke="#000" stroke-width="2.4"/><polyline points="26.4,-20.2 30.9,-16.9 32.1,-10.4" fill="none" stroke="#000" stroke-width="2.2"/><polyline points="29.6,-21.2 33.7,-17.3 34.4,-12.4" fill="none" stroke="#000" stroke-width="2.2"/><polygon points="-13.8,-5.9 -7.7,-12.5 -3.3,-14.9 3.3,-14.9 7.8,-11.4 12.4,-6.5 15.3,1.3 14.7,9.1 11.1,13.0 3.3,15.0 -6.5,15.0 -11.7,9.1 -13.8,3.9" fill="#000" stroke="#000" stroke-width="1" stroke-linejoin="round"/><polygon points="-11.2,-3.1 -8.8,-4.0 -0.8,2.6 -1.4,4.6" fill="#fff"/><polygon points="-11.6,4.4 -9.8,4.0 0.0,10.6 -1.4,12.9 -5.1,12.9" fill="#fff"/><polygon points="-4.4,-11.2 1.8,-11.9 2.7,-10.6 -3.3,-9.9" fill="#fff"/><polygon points="-2.5,-5.2 1.3,-8.5 7.0,-1.3 2.0,2.0" fill="#fff"/><polygon points="3.4,5.3 9.0,2.1 8.3,8.5 4.0,11.1" fill="#fff"/><polygon points="10.4,2.0 12.1,2.6 11.4,9.1 10.1,9.9" fill="#fff"/><polygon points="-11.4,-4.9 -7.3,-9.1 -5.7,-7.8 -9.4,-4.6" fill="#fff"/></g>
<path d="M1213.4 1039.3 L1261.7 1013.5" stroke="#000" stroke-width="9.0" fill="none"/>
<path d="M1215.4 1038.3 L1259.7 1014.5" stroke="#fff" stroke-width="1" stroke-dasharray="1 1" fill="none"/>
<path d="M1301.0 987.3 L1348.3 962.7" stroke="#000" stroke-width="9.0" fill="none"/>
<path d="M1303.0 986.3 L1346.3 963.7" stroke="#fff" stroke-width="1" stroke-dasharray="1 1" fill="none"/>
<path d="M1385.6 938.1 L1432.9 913.4" stroke="#000" stroke-width="9.0" fill="none"/>
<path d="M1387.6 937.1 L1430.9 914.4" stroke="#fff" stroke-width="1" stroke-dasharray="1 1" fill="none"/>
<path d="M1278.8 1025.6 L1321.1 1001.4" fill="none" stroke="#000" stroke-width="5.7" stroke-linejoin="round" stroke-linecap="butt" />
<path d="M1363.4 977.2 L1406.7 952.2" fill="none" stroke="#000" stroke-width="5.7" stroke-linejoin="round" stroke-linecap="butt" />
<path d="M1448.0 928.1 L1490.3 904.7" fill="none" stroke="#000" stroke-width="5.7" stroke-linejoin="round" stroke-linecap="butt" />
<path d="M1250.6 1051.7 L1292.9 1027.6" fill="none" stroke="#000" stroke-width="5.7" stroke-linejoin="round" stroke-linecap="butt" />
<path d="M1336.2 1003.4 L1378.5 979.2" fill="none" stroke="#000" stroke-width="5.7" stroke-linejoin="round" stroke-linecap="butt" />
<path d="M1420.8 955.1 L1464.1 930.1" fill="none" stroke="#000" stroke-width="5.7" stroke-linejoin="round" stroke-linecap="butt" />
<path d="M1444.4 901.3 L1447.0 892.2 L1454.1 886.6 L1464.1 885.4 L1478.2 890.2 L1494.3 900.3 L1508.4 905.3 L1516.5 902.7" fill="none" stroke="#000" stroke-width="6.0" stroke-linejoin="round" stroke-linecap="round" />
<path d="M1454.5 896.7 L1462.1 892.6 L1474.2 894.6 L1482.3 899.3" fill="none" stroke="#000" stroke-width="5.7" stroke-linejoin="round" stroke-linecap="round" />
<path d="M1185.2 1047.7 L1188.2 1039.3 L1195.2 1033.6 L1203.3 1032.8 L1211.4 1036.2" fill="none" stroke="#000" stroke-width="7.0" stroke-linejoin="round" stroke-linecap="round" />
<path d="M1192.2 1055.8 L1195.2 1048.3 L1199.3 1044.3" fill="none" stroke="#000" stroke-width="5.7" stroke-linejoin="round" stroke-linecap="butt" />
<path d="M1203.3 1033.6 L1212.4 1034.4 L1250.6 1056.4 L1242.6 1070.5 L1206.3 1049.3 L1200.3 1052.3 L1192.2 1058.4 L1191.2 1052.3 L1197.3 1047.3Z" fill="#000"/>
<path d="M1180.1 1060.4 L1197.3 1059.4 L1197.3 1056.4 L1200.9 1056.4 L1200.9 1102.7 L1197.9 1102.7 L1197.9 1110.2 L1180.1 1110.2Z" fill="#000"/>
<circle cx="1188.2" cy="1118.8" r="4.8" fill="#000"/>
<circle cx="1188.2" cy="1131.3" r="5.0" fill="#000"/>
<path d="M1180.1 1159.1 L1195.2 1157.1 L1195.2 1151.0 L1200.9 1151.0 L1200.9 1202.4 L1180.1 1202.4Z" fill="#000"/>
<circle cx="1350.9" cy="1021.7" r="4.8" fill="#000"/>
<circle cx="1256.7" cy="1065.4" r="4.0" fill="#000"/>
<circle cx="1267.8" cy="1070.7" r="5.2" fill="#000"/>
<path d="M1290.9 1027.2 L1286.9 1041.3 L1288.9 1053.4 L1301.0 1060.4 L1317.1 1061.4" fill="none" stroke="#000" stroke-width="7.0" stroke-linejoin="round" stroke-linecap="round" />
<path d="M1292.9 1035.2 L1315.1 1034.2 L1321.1 1039.3 L1330.2 1041.3 L1332.2 1048.3 L1301.0 1058.4 L1299.0 1053.4 L1319.1 1042.3 L1299.0 1042.3Z" fill="#000"/>
<path d="M1319.1 1066.4 L1327.2 1056.4 L1331.2 1054.4" fill="none" stroke="#000" stroke-width="6.0" stroke-linejoin="round" stroke-linecap="butt" />
<circle cx="1319.1" cy="1067.0" r="3.2" fill="#000"/>
<path d="M1222.8 1095.6 L1268.8 1073.9" fill="none" stroke="#000" stroke-width="8.0" stroke-linejoin="round" stroke-linecap="butt" />
<path d="M1228.5 1093.6 L1264.7 1076.5" stroke="#fff" stroke-width="1" stroke-dasharray="1 1.5" fill="none"/>
<path d="M1222.8 1095.6 L1217.4 1101.7 L1216.4 1112.8 L1220.4 1118.8 L1227.5 1116.8 L1252.6 1102.7 L1268.8 1100.7 L1277.8 1093.6 L1282.9 1086.6" fill="none" stroke="#000" stroke-width="6.0" stroke-linejoin="round" stroke-linecap="round" />
<path d="M1224.0 1100.7 L1222.4 1111.8" fill="none" stroke="#000" stroke-width="4.0" stroke-linejoin="round" stroke-linecap="butt" />
<path d="M1256.3 1093.6 L1275.8 1087.2 L1278.8 1090.6 L1272.8 1097.7 L1268.8 1095.6 L1272.8 1092.6Z" fill="#000"/>
<path d="M1260.1 1117.4 L1299.0 1097.7" fill="none" stroke="#000" stroke-width="5.7" stroke-linejoin="round" stroke-linecap="butt" />
<path d="M1284.9 1111.8 L1299.0 1108.1" fill="none" stroke="#000" stroke-width="5.7" stroke-linejoin="round" stroke-linecap="butt" />
<path d="M1253.7 1120.2 L1222.8 1137.9 L1217.4 1144.0 L1216.4 1155.1 L1220.4 1160.1 L1227.5 1158.1 L1234.5 1154.5" fill="none" stroke="#000" stroke-width="6.0" stroke-linejoin="round" stroke-linecap="round" />
<path d="M1224.0 1143.0 L1222.4 1154.1" fill="none" stroke="#000" stroke-width="4.0" stroke-linejoin="round" stroke-linecap="butt" />
<path d="M1227.5 1142.0 L1245.6 1132.9" fill="none" stroke="#000" stroke-width="5.7" stroke-linejoin="round" stroke-linecap="butt" />
<path d="M1228.5 1177.2 L1220.4 1181.2 L1216.8 1190.3 L1220.4 1198.4 L1227.5 1202.4" fill="none" stroke="#000" stroke-width="6.0" stroke-linejoin="round" stroke-linecap="round" />
<path d="M1275.8 1067.5 L1335.2 1101.7" fill="none" stroke="#000" stroke-width="5.7" stroke-linejoin="round" stroke-linecap="butt" />
<path d="M1290.9 1080.5 L1335.2 1100.7 L1333.2 1119.8 L1325.2 1121.8 L1301.0 1111.8 L1288.9 1097.7Z" fill="#000"/>
<path d="M1284.9 1111.8 L1301.0 1104.7" fill="none" stroke="#000" stroke-width="5.7" stroke-linejoin="round" stroke-linecap="butt" />
<circle cx="1341.3" cy="1114.2" r="4.4" fill="#000"/>
<circle cx="1337.6" cy="1123.8" r="4.0" fill="#000"/>
<circle cx="1348.3" cy="1127.9" r="4.0" fill="#000"/>
<path d="M1360.4 1115.8 L1419.8 1151.0" fill="none" stroke="#000" stroke-width="5.7" stroke-linejoin="round" stroke-linecap="butt" />
<path d="M1375.5 1127.9 L1419.8 1150.0 L1418.8 1162.1 L1409.7 1158.1 L1373.5 1156.1 L1367.5 1146.0Z" fill="#000"/>
<path d="M1361.4 1140.4 L1371.5 1135.5" fill="none" stroke="#000" stroke-width="5.7" stroke-linejoin="round" stroke-linecap="butt" />
<path d="M1383.6 1169.2 L1410.8 1160.1 L1430.9 1172.2 L1397.7 1195.3 L1389.6 1178.2Z" fill="#000"/>
<path d="M1384.6 1170.2 L1407.7 1158.1" fill="none" stroke="#000" stroke-width="5.7" stroke-linejoin="round" stroke-linecap="butt" />
<circle cx="1427.9" cy="1164.1" r="3.2" fill="#000"/>
<circle cx="1449.6" cy="1178.2" r="3.6" fill="#000"/>
<path d="M1445.0 1164.5 L1474.2 1180.2" fill="none" stroke="#000" stroke-width="5.7" stroke-linejoin="round" stroke-linecap="butt" />
<path d="M1458.1 1190.3 L1478.2 1174.2 L1490.3 1182.3 L1482.3 1192.3 L1500.0 1202.4 L1462.1 1202.4Z" fill="#000"/>
<path d="M1474.2 1168.2 L1482.3 1160.1" fill="none" stroke="#000" stroke-width="5.7" stroke-linejoin="round" stroke-linecap="butt" />
<path d="M1480.2 1190.3 L1502.4 1178.2" fill="none" stroke="#000" stroke-width="5.7" stroke-linejoin="round" stroke-linecap="butt" />
<path d="M1440.0 945.0 L1464.2 930.9" fill="none" stroke="#000" stroke-width="5.7" stroke-linejoin="round" stroke-linecap="butt" />
<path d="M1485.3 942.2 L1479.3 948.6 L1480.3 955.7 L1490.4 959.1 L1502.4 956.7 L1511.5 951.6" fill="none" stroke="#000" stroke-width="6.0" stroke-linejoin="round" stroke-linecap="round" />
<path d="M1502.4 942.6 L1502.0 954.7" fill="none" stroke="#000" stroke-width="5.7" stroke-linejoin="round" stroke-linecap="butt" />
<circle cx="1512.5" cy="939.6" r="5.2" fill="#000"/>
<circle cx="1479.3" cy="959.7" r="4.8" fill="#000"/>
<path d="M1493.4 912.0 L1536.7 937.5" fill="none" stroke="#000" stroke-width="5.7" stroke-linejoin="round" stroke-linecap="butt" />
<circle cx="1513.5" cy="917.8" r="4.4" fill="#000"/>
<circle cx="1543.7" cy="936.5" r="4.8" fill="#000"/>
<path d="M1549.8 929.5 L1553.8 939.6" fill="none" stroke="#000" stroke-width="5.7" stroke-linejoin="round" stroke-linecap="butt" />
<path d="M1549.8 930.5 L1597.1 959.1" fill="none" stroke="#000" stroke-width="5.7" stroke-linejoin="round" stroke-linecap="butt" />
<circle cx="1559.8" cy="947.6" r="4.0" fill="#000"/>
<circle cx="1571.9" cy="954.1" r="4.0" fill="#000"/>
<path d="M1578.0 962.1 L1621.3 987.3" fill="none" stroke="#000" stroke-width="5.7" stroke-linejoin="round" stroke-linecap="butt" />
<circle cx="1606.2" cy="971.8" r="4.4" fill="#000"/>
<circle cx="1638.4" cy="988.9" r="5.6" fill="#000"/>
<path d="M1638.4 983.9 L1667.6 999.4 L1679.7 999.0" fill="none" stroke="#000" stroke-width="5.7" stroke-linejoin="round" stroke-linecap="round" />
<path d="M1667.2 1001.0 L1666.6 1011.5 L1701.8 1031.6" fill="none" stroke="#000" stroke-width="5.5" stroke-linejoin="round" stroke-linecap="round" />
<circle cx="1661.6" cy="1025.2" r="4.0" fill="#000"/>
<circle cx="1699.8" cy="1027.6" r="5.6" fill="#000"/>
<circle cx="1695.8" cy="1041.3" r="4.8" fill="#000"/>
<path d="M1722.0 1025.6 L1741.1 1035.6" fill="none" stroke="#000" stroke-width="5.7" stroke-linejoin="round" stroke-linecap="butt" />
<path d="M1708.9 1036.2 L1736.1 1049.3" fill="none" stroke="#000" stroke-width="5.7" stroke-linejoin="round" stroke-linecap="butt" />
<path d="M1628.3 1031.2 L1639.4 1024.1 L1653.5 1035.2 L1663.6 1032.8 L1658.5 1042.3 L1641.4 1045.7 L1630.3 1041.3Z" fill="#000"/>
<circle cx="1627.7" cy="1044.3" r="4.0" fill="#000"/>
<path d="M1730.0 1042.3 L1742.1 1048.3 L1751.2 1058.4 L1757.2 1069.5 L1761.9 1081.6 L1762.3 1119.8" fill="none" stroke="#000" stroke-width="7.0" stroke-linejoin="round" stroke-linecap="round" />
<path d="M1738.1 1044.3 L1750.2 1053.4 L1758.2 1067.5" fill="none" stroke="#000" stroke-width="5.7" stroke-linejoin="round" stroke-linecap="round" />
<path d="M1750.2 1071.5 L1750.2 1128.9" fill="none" stroke="#000" stroke-width="6.0" stroke-linejoin="round" stroke-linecap="butt" />
<path d="M1750.2 1121.8 L1762.3 1119.8" fill="none" stroke="#000" stroke-width="5.7" stroke-linejoin="round" stroke-linecap="butt" />
<circle cx="1755.2" cy="1150.0" r="5.2" fill="#000"/>
<path d="M1699.8 1031.2 L1664.6 1050.3 L1677.7 1056.4 L1636.4 1079.5" fill="none" stroke="#000" stroke-width="5.5" stroke-linejoin="round" stroke-linecap="butt" />
<circle cx="1641.4" cy="1070.5" r="4.0" fill="#000"/>
<path d="M1621.3 1077.1 L1579.0 1099.7 L1594.1 1106.7 L1550.8 1128.9" fill="none" stroke="#000" stroke-width="5.5" stroke-linejoin="round" stroke-linecap="butt" />
<circle cx="1615.6" cy="1087.6" r="4.4" fill="#000"/>
<circle cx="1560.8" cy="1117.8" r="4.0" fill="#000"/>
<path d="M1536.7 1125.9 L1494.4 1148.0 L1509.5 1154.1 L1466.2 1174.2 L1445.0 1164.1" fill="none" stroke="#000" stroke-width="5.5" stroke-linejoin="round" stroke-linecap="butt" />
<circle cx="1533.7" cy="1133.9" r="4.4" fill="#000"/>
<circle cx="1516.5" cy="1118.8" r="3.6" fill="#000"/>
<circle cx="1480.3" cy="1162.1" r="3.6" fill="#000"/>
<path d="M1458.1 1180.2 L1474.2 1174.2 L1483.3 1182.3 L1480.3 1190.3 L1466.2 1200.0 L1455.1 1190.3Z" fill="#000"/>
<circle cx="1449.1" cy="1178.2" r="3.6" fill="#000"/>
<path d="M1651.5 1100.1 L1694.8 1075.5" fill="none" stroke="#000" stroke-width="5.7" stroke-linejoin="round" stroke-linecap="butt" />
<path d="M1565.9 1149.4 L1610.2 1124.9" fill="none" stroke="#000" stroke-width="5.7" stroke-linejoin="round" stroke-linecap="butt" />
<path d="M1666.6 1126.3 L1709.9 1101.7" fill="none" stroke="#000" stroke-width="5.7" stroke-linejoin="round" stroke-linecap="butt" />
<path d="M1582.0 1174.6 L1625.3 1150.0" fill="none" stroke="#000" stroke-width="5.7" stroke-linejoin="round" stroke-linecap="butt" />
<path d="M1667.6 1161.5 L1709.9 1138.3" fill="none" stroke="#000" stroke-width="5.7" stroke-linejoin="round" stroke-linecap="butt" />
<path d="M1482.3 1194.3 L1525.6 1173.2" fill="none" stroke="#000" stroke-width="5.7" stroke-linejoin="round" stroke-linecap="butt" />
<path d="M1603.1 1185.7 L1625.3 1174.6" fill="none" stroke="#000" stroke-width="5.7" stroke-linejoin="round" stroke-linecap="butt" />
<path d="M1677.7 1138.3 L1698.8 1128.3" fill="none" stroke="#000" stroke-width="5.7" stroke-linejoin="round" stroke-linecap="butt" />
<path d="M1633.4 1160.5 L1653.5 1150.0" fill="none" stroke="#000" stroke-width="5.7" stroke-linejoin="round" stroke-linecap="butt" />
<path d="M1653.5 1152.4 L1676.7 1139.0" fill="none" stroke="#000" stroke-width="10.0" stroke-linejoin="round" stroke-linecap="butt" />
<path d="M1633.4 1158.1 L1643.4 1164.1 L1603.1 1186.3" fill="none" stroke="#000" stroke-width="5.7" stroke-linejoin="round" stroke-linecap="butt" />
<path d="M1692.8 1166.1 L1736.1 1144.0 L1742.1 1147.0 L1741.1 1160.1" fill="none" stroke="#000" stroke-width="6.0" stroke-linejoin="round" stroke-linecap="round" />
<path d="M1729.0 1152.0 L1740.1 1162.1" fill="none" stroke="#000" stroke-width="5.7" stroke-linejoin="round" stroke-linecap="butt" />
<path d="M1719.0 1110.8 L1737.1 1100.7 L1743.1 1104.7 L1741.7 1119.8" fill="none" stroke="#000" stroke-width="6.0" stroke-linejoin="round" stroke-linecap="round" />
<path d="M1729.0 1111.8 L1740.1 1119.8" fill="none" stroke="#000" stroke-width="5.7" stroke-linejoin="round" stroke-linecap="butt" />
<path d="M1692.8 1166.1 L1698.8 1173.2 L1655.5 1196.4" fill="none" stroke="#000" stroke-width="5.7" stroke-linejoin="round" stroke-linecap="butt" />
<path d="M1667.6 1194.3 L1709.9 1178.2" fill="none" stroke="#000" stroke-width="5.7" stroke-linejoin="round" stroke-linecap="butt" />
<path d="M1560.8 1196.4 L1593.1 1184.3" fill="none" stroke="#000" stroke-width="10.0" stroke-linejoin="round" stroke-linecap="butt" />
<path d="M1730.0 1190.3 L1742.1 1184.3" fill="none" stroke="#000" stroke-width="6.0" stroke-linejoin="round" stroke-linecap="butt" />
<path d="M1756.2 1169.2 L1756.2 1202.4" fill="none" stroke="#000" stroke-width="7.0" stroke-linejoin="round" stroke-linecap="butt" />
<path d="M1762.3 1168.2 L1762.3 1202.4" fill="none" stroke="#000" stroke-width="5.7" stroke-linejoin="round" stroke-linecap="butt" />
<path d="M1748.2 1179.2 L1762.3 1179.2" fill="none" stroke="#000" stroke-width="5.7" stroke-linejoin="round" stroke-linecap="butt" />
<path d="M1180.1 1179.0 L1200.9 1179.0 L1200.9 1199.1 L1197.9 1199.1 L1197.9 1207.2 L1180.1 1207.2Z" fill="#000"/>
<circle cx="1188.2" cy="1222.7" r="5.0" fill="#000"/>
<circle cx="1188.2" cy="1238.4" r="4.4" fill="#000"/>
<path d="M1180.1 1256.5 L1195.2 1255.5 L1195.2 1248.5 L1200.9 1248.5 L1200.9 1300.8 L1203.9 1312.9 L1214.4 1328.0 L1234.9 1339.1 L1230.9 1362.9 L1210.4 1353.6 L1192.2 1331.5 L1183.2 1309.3 L1180.1 1298.8Z" fill="#000"/>
<path d="M1200.9 1308.9 L1214.4 1329.0 L1226.5 1336.1" fill="none" stroke="#fff" stroke-width="1.4"/>
<path d="M1228.5 1183.0 L1220.0 1185.6 L1217.2 1193.7 L1220.4 1199.1 L1228.5 1200.1" fill="none" stroke="#000" stroke-width="6.0" stroke-linejoin="round" stroke-linecap="round" />
<path d="M1225.5 1219.3 L1218.8 1228.3 L1218.4 1240.4 L1232.5 1237.4 L1228.9 1220.3 L1225.5 1219.3" fill="none" stroke="#000" stroke-width="6.0" stroke-linejoin="round" stroke-linecap="round" />
<path d="M1239.0 1255.5 L1222.8 1262.6 L1217.6 1272.6 L1218.8 1284.7 L1234.9 1285.7" fill="none" stroke="#000" stroke-width="6.0" stroke-linejoin="round" stroke-linecap="round" />
<path d="M1226.5 1268.6 L1241.6 1260.6" fill="none" stroke="#000" stroke-width="8.0" stroke-linejoin="round" stroke-linecap="butt" />
<path d="M1233.5 1275.7 L1247.0 1270.6" fill="none" stroke="#000" stroke-width="6.0" stroke-linejoin="round" stroke-linecap="butt" />
<path d="M1224.0 1266.6 L1222.4 1280.7" fill="none" stroke="#000" stroke-width="4.0" stroke-linejoin="round" stroke-linecap="butt" />
<path d="M1198.3 1303.3 L1236.9 1283.1" fill="none" stroke="#000" stroke-width="5.7" stroke-linejoin="round" stroke-linecap="butt" />
<path d="M1214.4 1329.4 L1265.7 1308.9" fill="none" stroke="#000" stroke-width="8.0" stroke-linejoin="round" stroke-linecap="butt" />
<path d="M1234.9 1321.0 L1247.0 1319.0 L1243.0 1333.1 L1251.0 1339.5 L1246.6 1347.6 L1232.5 1337.5Z" fill="#000"/>
<path d="M1246.6 1310.9 L1264.7 1307.3 L1265.7 1312.9 L1252.6 1319.0Z" fill="#000"/>
<path d="M1177.7 1368.3 L1201.3 1355.2" fill="none" stroke="#000" stroke-width="7.0" stroke-linejoin="round" stroke-linecap="round" />
<path d="M1265.7 1312.9 L1280.8 1306.9" fill="none" stroke="#000" stroke-width="6.0" stroke-linejoin="round" stroke-linecap="butt" />
<path d="M1403.6 1301.6 L1403.8 1294.8 L1403.6 1288.0 L1402.7 1281.0 L1401.4 1274.1 L1399.6 1267.2 L1397.2 1260.4 L1394.4 1253.8 L1391.1 1247.3 L1387.4 1241.2 L1383.3 1235.3 L1378.9 1229.8 L1374.0 1224.7 L1368.9 1220.0 L1363.5 1215.7 L1357.9 1212.0 L1352.2 1208.8 L1346.3 1206.1 L1340.3 1204.0 L1334.2 1202.5 L1328.2 1201.6 L1322.2 1201.3 L1316.3 1201.6 L1310.5 1202.5 L1304.9 1204.0 L1299.6 1206.1 L1294.5 1208.8 L1289.7 1212.0 L1285.3 1215.7 L1281.2 1219.9 L1277.5 1224.6 L1274.3 1229.8 L1271.5 1235.3 L1269.2 1241.1 L1267.4 1247.3 L1266.2 1253.7 L1265.4 1260.4 L1265.2 1267.2 L1265.4 1274.0 L1266.3 1281.0 L1267.6 1287.9 L1269.4 1294.8 L1271.8 1301.6 L1274.6 1308.2 L1277.9 1314.7 L1281.6 1320.8 L1285.7 1326.7 L1290.1 1332.2 L1295.0 1337.3 L1300.1 1342.0 L1305.5 1346.3 L1311.1 1350.0 L1316.8 1353.2 L1322.7 1355.9 L1328.7 1358.0 L1334.8 1359.5 L1340.8 1360.4 L1346.8 1360.7 L1352.7 1360.4 L1358.5 1359.5 L1364.1 1358.0 L1369.4 1355.9 L1374.5 1353.2 L1379.3 1350.0 L1383.7 1346.3 L1387.8 1342.1 L1391.5 1337.4 L1394.7 1332.2 L1397.5 1326.7 L1399.8 1320.9 L1401.6 1314.7 L1402.8 1308.3 L1403.6 1301.6Z" fill="none" stroke="#000" stroke-width="5.0"/>
<path d="M1397.7 1299.9 L1397.9 1293.6 L1397.7 1287.2 L1396.9 1280.7 L1395.7 1274.3 L1394.0 1267.9 L1391.9 1261.6 L1389.3 1255.5 L1386.3 1249.5 L1382.9 1243.8 L1379.2 1238.4 L1375.1 1233.3 L1370.7 1228.6 L1366.0 1224.2 L1361.1 1220.3 L1355.9 1216.9 L1350.7 1213.9 L1345.3 1211.5 L1339.8 1209.6 L1334.2 1208.2 L1328.7 1207.4 L1323.2 1207.1 L1317.8 1207.4 L1312.6 1208.3 L1307.5 1209.7 L1302.6 1211.7 L1297.9 1214.2 L1293.5 1217.1 L1289.5 1220.6 L1285.8 1224.6 L1282.4 1228.9 L1279.4 1233.7 L1276.9 1238.8 L1274.8 1244.3 L1273.2 1250.0 L1272.0 1256.0 L1271.3 1262.1 L1271.1 1268.4 L1271.3 1274.8 L1272.1 1281.3 L1273.3 1287.7 L1275.0 1294.1 L1277.1 1300.4 L1279.7 1306.5 L1282.7 1312.5 L1286.1 1318.2 L1289.8 1323.6 L1293.9 1328.7 L1298.3 1333.4 L1303.0 1337.8 L1307.9 1341.7 L1313.1 1345.1 L1318.3 1348.1 L1323.7 1350.5 L1329.2 1352.4 L1334.8 1353.8 L1340.3 1354.6 L1345.8 1354.9 L1351.2 1354.6 L1356.4 1353.7 L1361.5 1352.3 L1366.4 1350.3 L1371.1 1347.8 L1375.5 1344.9 L1379.5 1341.4 L1383.2 1337.4 L1386.6 1333.1 L1389.6 1328.3 L1392.1 1323.2 L1394.2 1317.7 L1395.8 1312.0 L1397.0 1306.0 L1397.7 1299.9Z" fill="none" stroke="#000" stroke-width="5.0"/>
<path d="M1391.8 1298.1 L1392.0 1292.3 L1391.8 1286.4 L1391.1 1280.5 L1390.0 1274.5 L1388.4 1268.7 L1386.5 1262.9 L1384.2 1257.2 L1381.5 1251.8 L1378.4 1246.5 L1375.0 1241.5 L1371.3 1236.8 L1367.3 1232.5 L1363.0 1228.5 L1358.6 1224.9 L1353.9 1221.8 L1349.2 1219.1 L1344.3 1216.9 L1339.3 1215.1 L1334.3 1213.9 L1329.3 1213.1 L1324.3 1212.9 L1319.4 1213.2 L1314.6 1214.1 L1310.0 1215.4 L1305.5 1217.2 L1301.3 1219.5 L1297.4 1222.3 L1293.7 1225.5 L1290.3 1229.2 L1287.3 1233.2 L1284.6 1237.6 L1282.3 1242.4 L1280.4 1247.4 L1278.9 1252.7 L1277.8 1258.2 L1277.2 1263.9 L1277.0 1269.7 L1277.2 1275.6 L1277.9 1281.5 L1279.0 1287.5 L1280.6 1293.3 L1282.5 1299.1 L1284.8 1304.8 L1287.5 1310.2 L1290.6 1315.5 L1294.0 1320.5 L1297.7 1325.2 L1301.7 1329.5 L1306.0 1333.5 L1310.4 1337.1 L1315.1 1340.2 L1319.8 1342.9 L1324.7 1345.1 L1329.7 1346.9 L1334.7 1348.1 L1339.7 1348.9 L1344.7 1349.1 L1349.6 1348.8 L1354.4 1347.9 L1359.0 1346.6 L1363.5 1344.8 L1367.7 1342.5 L1371.6 1339.7 L1375.3 1336.5 L1378.7 1332.8 L1381.7 1328.8 L1384.4 1324.4 L1386.7 1319.6 L1388.6 1314.6 L1390.1 1309.3 L1391.2 1303.8 L1391.8 1298.1Z" fill="none" stroke="#000" stroke-width="5.0"/>
<path d="M1385.9 1296.3 L1386.1 1291.0 L1385.9 1285.6 L1385.3 1280.2 L1384.3 1274.8 L1382.9 1269.4 L1381.2 1264.1 L1379.1 1259.0 L1376.6 1254.0 L1373.9 1249.2 L1370.8 1244.6 L1367.5 1240.4 L1363.9 1236.4 L1360.1 1232.8 L1356.1 1229.6 L1351.9 1226.7 L1347.6 1224.2 L1343.2 1222.2 L1338.8 1220.7 L1334.3 1219.6 L1329.8 1218.9 L1325.3 1218.7 L1320.9 1219.1 L1316.7 1219.8 L1312.5 1221.1 L1308.5 1222.8 L1304.7 1224.9 L1301.2 1227.5 L1297.9 1230.5 L1294.9 1233.8 L1292.1 1237.5 L1289.7 1241.6 L1287.7 1245.9 L1286.0 1250.6 L1284.6 1255.4 L1283.7 1260.5 L1283.1 1265.7 L1282.9 1271.0 L1283.1 1276.4 L1283.7 1281.8 L1284.7 1287.2 L1286.1 1292.6 L1287.8 1297.9 L1289.9 1303.0 L1292.4 1308.0 L1295.1 1312.8 L1298.2 1317.4 L1301.5 1321.6 L1305.1 1325.6 L1308.9 1329.2 L1312.9 1332.4 L1317.1 1335.3 L1321.4 1337.8 L1325.8 1339.8 L1330.2 1341.3 L1334.7 1342.4 L1339.2 1343.1 L1343.7 1343.3 L1348.1 1342.9 L1352.3 1342.2 L1356.5 1340.9 L1360.5 1339.2 L1364.3 1337.1 L1367.8 1334.5 L1371.1 1331.5 L1374.1 1328.2 L1376.9 1324.5 L1379.3 1320.4 L1381.3 1316.1 L1383.0 1311.4 L1384.4 1306.6 L1385.3 1301.5 L1385.9 1296.3Z" fill="none" stroke="#000" stroke-width="5.0"/>
<path d="M1380.3 1264.1 L1378.6 1259.8 L1376.7 1255.6 L1374.6 1251.6 L1372.2 1247.7 L1369.7 1244.0 L1366.9 1240.5 L1364.0 1237.2 L1360.9 1234.1 L1357.7 1231.3 L1354.4 1228.8 L1350.9 1226.5 L1347.4 1224.5 L1343.8 1222.8 L1340.2 1221.5 L1336.5 1220.4 L1332.8 1219.7 L1329.1 1219.2 L1325.5 1219.1 L1321.9 1219.4 L1318.4 1219.9 L1314.9 1220.8 L1311.6 1222.0 L1308.3 1223.5 L1305.3 1225.3Z" fill="#000"/>
<path d="M1388.6 1248.5 L1385.8 1243.8 L1382.7 1239.2 L1379.5 1234.8 L1376.0 1230.7 L1372.3 1226.8 L1368.4 1223.1 L1364.3 1219.8 L1360.1 1216.7 L1355.8 1214.0 L1351.4 1211.5 L1346.9 1209.5 L1342.3 1207.7 L1337.7 1206.4 L1333.1 1205.3 L1328.5 1204.7 L1323.9 1204.4 L1319.3 1204.5 L1314.9 1205.0 L1310.5 1205.8 L1306.3 1207.1" fill="none" stroke="#000" stroke-width="6"/>
<path d="M1382.9 1251.4 L1380.2 1246.9 L1377.3 1242.5 L1374.1 1238.3 L1370.8 1234.4 L1367.2 1230.7 L1363.4 1227.3 L1359.5 1224.2 L1355.5 1221.5 L1351.3 1219.0 L1347.1 1216.9 L1342.8 1215.1 L1338.4 1213.7 L1334.0 1212.7 L1329.6 1212.0 L1325.3 1211.7 L1320.9 1211.8 L1316.7 1212.3 L1312.6 1213.2 L1308.6 1214.4 L1304.7 1216.0" fill="none" stroke="#000" stroke-width="6"/>
<path d="M1373.3 1239.5 L1370.3 1235.8 L1367.1 1232.4 L1363.8 1229.1 L1360.3 1226.2 L1356.6 1223.5 L1352.9 1221.1 L1349.1 1219.0 L1345.2 1217.1 L1341.2 1215.6 L1337.3 1214.4 L1333.3 1213.6 L1329.3 1213.0" fill="none" stroke="#fff" stroke-width="1"/>
<path d="M1371.2 1245.0 L1369.3 1242.5 L1367.3 1240.1 L1365.2 1237.8 L1363.0 1235.6 L1360.7 1233.5 L1358.4 1231.5 L1356.0 1229.7 L1353.6 1228.0 L1351.1 1226.4 L1348.5 1225.0 L1346.0 1223.7 L1343.3 1222.6" fill="none" stroke="#fff" stroke-width="1"/>
<path d="M1369.4 1218.8 L1383.3 1210.3 L1419.5 1258.2 L1405.7 1270.0Z" fill="#fff" stroke="#000" stroke-width="4.6" stroke-linejoin="round"/>
<circle cx="1385.4" cy="1228.4" r="4.6" fill="#fff" stroke="#000" stroke-width="4.2"/>
<circle cx="1400.4" cy="1249.7" r="4.6" fill="#fff" stroke="#000" stroke-width="4.2"/>
<path d="M1397.2 1218.8 L1410.0 1212.9" fill="none" stroke="#000" stroke-width="9.5" stroke-linejoin="round" stroke-linecap="round"/>
<path d="M1413.1 1242.2 L1424.9 1234.3" fill="none" stroke="#000" stroke-width="9.5" stroke-linejoin="round" stroke-linecap="round"/>
<path d="M1370.0 1222.0 L1392.0 1250.0 L1398.0 1275.0" fill="none" stroke="#000" stroke-width="4.0" stroke-linejoin="round" />
<path d="M1328.9 1278.5 L1369.4 1255.0" fill="none" stroke="#000" stroke-width="7.5" stroke-linejoin="round" stroke-linecap="round"/>
<path d="M1306.5 1292.0 L1321.5 1283.3" fill="none" stroke="#000" stroke-width="7.5" stroke-linejoin="round" stroke-linecap="round"/>
<circle cx="1263.7" cy="1374.4" r="4.8" fill="#000"/>
<path d="M1275.2 1365.7 L1319.1 1389.5 L1315.5 1412.0 L1270.4 1387.5 L1269.8 1378.4Z" fill="#000"/>
<path d="M1288.9 1371.3 L1318.1 1387.5" fill="none" stroke="#fff" stroke-width="1.2" stroke-dasharray="2 1"/>
<path d="M1353.4 1404.6 L1397.7 1428.7" fill="none" stroke="#000" stroke-width="5.7" stroke-linejoin="round" stroke-linecap="butt" />
<path d="M1359.4 1422.7 L1398.7 1429.7 L1397.7 1440.2 L1385.6 1452.3 L1359.4 1436.2 L1356.4 1426.7Z" fill="#000"/>
<circle cx="1409.7" cy="1459.0" r="5.2" fill="#000"/>
<circle cx="1422.8" cy="1467.0" r="4.8" fill="#000"/>
<path d="M1439.0 1452.3 L1474.2 1470.0 L1484.7 1470.0 L1486.3 1474.5 L1502.4 1478.1 L1502.4 1500.6 L1474.2 1502.7 L1427.9 1476.1 L1436.9 1466.0Z" fill="#000"/>
<path d="M1389.6 1179.0 L1420.8 1179.0 L1395.6 1194.5Z" fill="#000"/>
<path d="M1447.0 1205.2 L1464.2 1207.2 L1480.3 1216.3 L1492.8 1230.4 L1503.8 1238.4 L1503.8 1278.1 L1486.3 1278.1 L1486.3 1232.8 L1474.2 1220.7 L1460.1 1214.6 L1448.1 1213.6Z" fill="#000"/>
<path d="M1456.1 1186.0 L1472.2 1179.0 L1486.7 1179.0 L1483.3 1191.1 L1470.2 1199.1Z" fill="#000"/>
<path d="M1479.3 1193.1 L1507.5 1179.0" fill="none" stroke="#000" stroke-width="5.7" stroke-linejoin="round" stroke-linecap="butt" />
<path d="M1497.4 1223.3 L1540.7 1199.1" fill="none" stroke="#000" stroke-width="5.7" stroke-linejoin="round" stroke-linecap="butt" />
<path d="M1488.3 1202.2 L1498.4 1196.1" fill="none" stroke="#000" stroke-width="5.7" stroke-linejoin="round" stroke-linecap="butt" />
<circle cx="1498.4" cy="1298.8" r="4.4" fill="#000"/>
<circle cx="1497.4" cy="1312.9" r="5.0" fill="#000"/>
<path d="M1486.3 1326.0 L1503.8 1326.0 L1503.8 1375.8 L1486.3 1375.8Z" fill="#000"/>
<circle cx="1496.4" cy="1405.6" r="4.8" fill="#000"/>
<circle cx="1497.8" cy="1419.7" r="3.0" fill="#000"/>
<path d="M1486.3 1424.7 L1503.8 1424.7 L1503.8 1472.4 L1486.3 1472.4Z" fill="#000"/>
<path d="M1439.0 1455.9 L1466.2 1470.0 L1483.3 1470.0 L1483.3 1474.5 L1492.8 1482.1 L1500.4 1486.5 L1496.4 1498.6 L1486.3 1502.7 L1468.2 1500.6 L1439.0 1484.5Z" fill="#000"/>
<path d="M1503.4 1476.5 L1521.6 1466.0" fill="none" stroke="#000" stroke-width="3.0" stroke-linejoin="round" stroke-linecap="butt" />
<circle cx="1526.6" cy="1233.4" r="4.8" fill="#000"/>
<path d="M1544.7 1210.2 L1591.1 1186.4 L1595.1 1192.1 L1582.0 1206.2 L1573.9 1225.9 L1565.3 1232.4 L1547.2 1232.8 L1541.1 1225.3 L1544.7 1210.2" fill="none" stroke="#000" stroke-width="7.0" stroke-linejoin="round" stroke-linecap="round" />
<path d="M1555.8 1221.3 L1568.9 1214.2" fill="none" stroke="#000" stroke-width="4.0" stroke-linejoin="round" stroke-linecap="butt" />
<path d="M1560.8 1228.3 L1572.9 1216.3" fill="none" stroke="#000" stroke-width="4.0" stroke-linejoin="round" stroke-linecap="butt" />
<path d="M1563.3 1216.3 L1566.5 1228.3" fill="none" stroke="#000" stroke-width="4.0" stroke-linejoin="round" stroke-linecap="butt" />
<path d="M1520.6 1266.2 L1565.3 1243.2" fill="none" stroke="#000" stroke-width="8.0" stroke-linejoin="round" stroke-linecap="butt" />
<path d="M1520.6 1266.2 L1515.3 1271.6 L1514.9 1285.1 L1519.8 1289.2 L1541.1 1273.5 L1549.8 1275.5 L1568.9 1274.1 L1579.4 1261.0 L1584.6 1249.5 L1595.5 1233.4" fill="none" stroke="#000" stroke-width="6.0" stroke-linejoin="round" stroke-linecap="round" />
<path d="M1519.6 1280.7 L1536.7 1271.6" fill="none" stroke="#000" stroke-width="0.0" stroke-linejoin="round" stroke-linecap="butt" />
<path d="M1555.8 1260.6 L1568.9 1253.5" fill="none" stroke="#000" stroke-width="4.0" stroke-linejoin="round" stroke-linecap="butt" />
<path d="M1560.8 1268.6 L1572.9 1256.5" fill="none" stroke="#000" stroke-width="4.0" stroke-linejoin="round" stroke-linecap="butt" />
<path d="M1563.3 1257.5 L1566.5 1268.6" fill="none" stroke="#000" stroke-width="4.0" stroke-linejoin="round" stroke-linecap="butt" />
<path d="M1520.6 1308.5 L1565.3 1285.5" fill="none" stroke="#000" stroke-width="8.0" stroke-linejoin="round" stroke-linecap="butt" />
<path d="M1520.6 1308.5 L1515.3 1313.9 L1514.9 1327.4 L1519.8 1331.5 L1541.1 1315.8 L1549.8 1317.8 L1568.9 1316.4 L1579.4 1303.3 L1584.6 1291.8 L1595.5 1275.7" fill="none" stroke="#000" stroke-width="6.0" stroke-linejoin="round" stroke-linecap="round" />
<path d="M1519.6 1323.0 L1536.7 1313.9" fill="none" stroke="#000" stroke-width="0.0" stroke-linejoin="round" stroke-linecap="butt" />
<path d="M1555.8 1302.9 L1568.9 1295.8" fill="none" stroke="#000" stroke-width="4.0" stroke-linejoin="round" stroke-linecap="butt" />
<path d="M1560.8 1310.9 L1572.9 1298.8" fill="none" stroke="#000" stroke-width="4.0" stroke-linejoin="round" stroke-linecap="butt" />
<path d="M1563.3 1299.8 L1566.5 1310.9" fill="none" stroke="#000" stroke-width="4.0" stroke-linejoin="round" stroke-linecap="butt" />
<path d="M1520.6 1350.8 L1565.3 1327.8" fill="none" stroke="#000" stroke-width="8.0" stroke-linejoin="round" stroke-linecap="butt" />
<path d="M1520.6 1350.8 L1515.3 1356.2 L1514.9 1369.7 L1519.8 1373.8 L1541.1 1358.0 L1549.8 1360.1 L1568.9 1358.7 L1579.4 1345.6 L1584.6 1334.1 L1595.5 1318.0" fill="none" stroke="#000" stroke-width="6.0" stroke-linejoin="round" stroke-linecap="round" />
<path d="M1519.6 1365.3 L1536.7 1356.2" fill="none" stroke="#000" stroke-width="0.0" stroke-linejoin="round" stroke-linecap="butt" />
<path d="M1555.8 1345.2 L1568.9 1338.1" fill="none" stroke="#000" stroke-width="4.0" stroke-linejoin="round" stroke-linecap="butt" />
<path d="M1560.8 1353.2 L1572.9 1341.1" fill="none" stroke="#000" stroke-width="4.0" stroke-linejoin="round" stroke-linecap="butt" />
<path d="M1563.3 1342.1 L1566.5 1353.2" fill="none" stroke="#000" stroke-width="4.0" stroke-linejoin="round" stroke-linecap="butt" />
<path d="M1520.6 1393.1 L1565.3 1370.1" fill="none" stroke="#000" stroke-width="8.0" stroke-linejoin="round" stroke-linecap="butt" />
<path d="M1520.6 1393.1 L1515.3 1398.5 L1514.9 1412.0 L1519.8 1416.1 L1541.1 1400.3 L1549.8 1402.4 L1568.9 1400.9 L1579.4 1387.9 L1584.6 1376.4 L1595.5 1360.3" fill="none" stroke="#000" stroke-width="6.0" stroke-linejoin="round" stroke-linecap="round" />
<path d="M1519.6 1407.6 L1536.7 1398.5" fill="none" stroke="#000" stroke-width="0.0" stroke-linejoin="round" stroke-linecap="butt" />
<path d="M1555.8 1387.5 L1568.9 1380.4" fill="none" stroke="#000" stroke-width="4.0" stroke-linejoin="round" stroke-linecap="butt" />
<path d="M1560.8 1395.5 L1572.9 1383.4" fill="none" stroke="#000" stroke-width="4.0" stroke-linejoin="round" stroke-linecap="butt" />
<path d="M1563.3 1384.4 L1566.5 1395.5" fill="none" stroke="#000" stroke-width="4.0" stroke-linejoin="round" stroke-linecap="butt" />
<path d="M1520.6 1436.2 L1565.3 1411.6" fill="none" stroke="#000" stroke-width="9.0" stroke-linejoin="round" stroke-linecap="butt" />
<path d="M1520.6 1436.2 L1515.3 1441.8 L1514.9 1454.9 L1519.8 1459.6 L1544.7 1447.9 L1562.9 1431.8" fill="none" stroke="#000" stroke-width="6.0" stroke-linejoin="round" stroke-linecap="round" />
<path d="M1541.7 1461.0 L1585.0 1436.8" fill="none" stroke="#000" stroke-width="5.7" stroke-linejoin="round" stroke-linecap="butt" />
<path d="M1608.2 1215.9 L1651.5 1193.7" fill="none" stroke="#000" stroke-width="10.0" stroke-linejoin="round" stroke-linecap="butt" />
<path d="M1603.1 1227.7 L1643.8 1207.2" fill="none" stroke="#000" stroke-width="5.7" stroke-linejoin="round" stroke-linecap="butt" />
<path d="M1665.6 1202.6 L1709.9 1178.4" fill="none" stroke="#000" stroke-width="5.7" stroke-linejoin="round" stroke-linecap="butt" />
<path d="M1655.5 1194.5 L1693.4 1175.6 L1698.2 1167.9 L1730.0 1150.2" fill="none" stroke="#000" stroke-width="5.5" stroke-linejoin="round" stroke-linecap="butt" />
<path d="M1730.0 1150.2 L1737.7 1143.3 L1743.1 1146.8 L1741.7 1161.9" fill="none" stroke="#000" stroke-width="6.0" stroke-linejoin="round" stroke-linecap="round" />
<path d="M1729.0 1154.8 L1740.1 1162.3" fill="none" stroke="#000" stroke-width="5.7" stroke-linejoin="round" stroke-linecap="butt" />
<path d="M1608.2 1258.1 L1651.5 1236.0" fill="none" stroke="#000" stroke-width="10.0" stroke-linejoin="round" stroke-linecap="butt" />
<path d="M1603.1 1270.0 L1643.8 1249.5" fill="none" stroke="#000" stroke-width="5.7" stroke-linejoin="round" stroke-linecap="butt" />
<path d="M1665.6 1244.9 L1709.9 1220.7" fill="none" stroke="#000" stroke-width="5.7" stroke-linejoin="round" stroke-linecap="butt" />
<path d="M1655.5 1236.8 L1693.4 1217.9 L1698.2 1210.2 L1730.0 1192.5" fill="none" stroke="#000" stroke-width="5.5" stroke-linejoin="round" stroke-linecap="butt" />
<path d="M1730.0 1192.5 L1737.7 1185.6 L1743.1 1189.1 L1741.7 1204.2" fill="none" stroke="#000" stroke-width="6.0" stroke-linejoin="round" stroke-linecap="round" />
<path d="M1729.0 1197.1 L1740.1 1204.6" fill="none" stroke="#000" stroke-width="5.7" stroke-linejoin="round" stroke-linecap="butt" />
<path d="M1608.2 1300.4 L1651.5 1278.3" fill="none" stroke="#000" stroke-width="10.0" stroke-linejoin="round" stroke-linecap="butt" />
<path d="M1603.1 1312.3 L1643.8 1291.8" fill="none" stroke="#000" stroke-width="5.7" stroke-linejoin="round" stroke-linecap="butt" />
<path d="M1665.6 1287.2 L1709.9 1263.0" fill="none" stroke="#000" stroke-width="5.7" stroke-linejoin="round" stroke-linecap="butt" />
<path d="M1655.5 1279.1 L1693.4 1260.2 L1698.2 1252.5 L1730.0 1234.8" fill="none" stroke="#000" stroke-width="5.5" stroke-linejoin="round" stroke-linecap="butt" />
<path d="M1730.0 1234.8 L1737.7 1227.9 L1743.1 1231.4 L1741.7 1246.5" fill="none" stroke="#000" stroke-width="6.0" stroke-linejoin="round" stroke-linecap="round" />
<path d="M1729.0 1239.4 L1740.1 1246.9" fill="none" stroke="#000" stroke-width="5.7" stroke-linejoin="round" stroke-linecap="butt" />
<path d="M1608.2 1342.7 L1651.5 1320.6" fill="none" stroke="#000" stroke-width="10.0" stroke-linejoin="round" stroke-linecap="butt" />
<path d="M1603.1 1354.6 L1643.8 1334.1" fill="none" stroke="#000" stroke-width="5.7" stroke-linejoin="round" stroke-linecap="butt" />
<path d="M1665.6 1329.4 L1709.9 1305.3" fill="none" stroke="#000" stroke-width="5.7" stroke-linejoin="round" stroke-linecap="butt" />
<path d="M1655.5 1321.4 L1693.4 1302.5 L1698.2 1294.8 L1701.8 1292.8" fill="none" stroke="#000" stroke-width="5.5" stroke-linejoin="round" stroke-linecap="butt" />
<path d="M1608.2 1385.0 L1651.5 1362.9" fill="none" stroke="#000" stroke-width="10.0" stroke-linejoin="round" stroke-linecap="butt" />
<path d="M1603.1 1396.9 L1643.8 1376.4" fill="none" stroke="#000" stroke-width="5.7" stroke-linejoin="round" stroke-linecap="butt" />
<path d="M1665.6 1371.7 L1709.9 1347.6" fill="none" stroke="#000" stroke-width="5.7" stroke-linejoin="round" stroke-linecap="butt" />
<path d="M1655.5 1363.7 L1693.4 1344.8 L1698.2 1337.1 L1730.0 1319.4" fill="none" stroke="#000" stroke-width="5.5" stroke-linejoin="round" stroke-linecap="butt" />
<path d="M1730.0 1319.4 L1737.7 1312.5 L1743.1 1316.0 L1741.7 1331.1" fill="none" stroke="#000" stroke-width="6.0" stroke-linejoin="round" stroke-linecap="round" />
<path d="M1729.0 1324.0 L1740.1 1331.5" fill="none" stroke="#000" stroke-width="5.7" stroke-linejoin="round" stroke-linecap="butt" />
<path d="M1586.0 1426.7 L1629.3 1403.6" fill="none" stroke="#000" stroke-width="5.7" stroke-linejoin="round" stroke-linecap="butt" />
<path d="M1626.3 1411.6 L1669.6 1387.5" fill="none" stroke="#000" stroke-width="5.7" stroke-linejoin="round" stroke-linecap="butt" />
<path d="M1607.2 1406.6 L1649.5 1383.4" fill="none" stroke="#000" stroke-width="9.0" stroke-linejoin="round" stroke-linecap="butt" />
<path d="M1671.6 1378.4 L1711.9 1357.2" fill="none" stroke="#000" stroke-width="5.7" stroke-linejoin="round" stroke-linecap="butt" />
<path d="M1691.8 1357.2 L1711.9 1351.2 L1734.1 1335.1" fill="none" stroke="#000" stroke-width="9.0" stroke-linejoin="round" stroke-linecap="butt" />
<path d="M1710.9 1364.3 L1738.1 1350.2" fill="none" stroke="#000" stroke-width="5.7" stroke-linejoin="round" stroke-linecap="butt" />
<path d="M1748.2 1336.1 L1758.2 1341.1 L1754.2 1349.2 L1740.1 1352.8" fill="none" stroke="#000" stroke-width="6.0" stroke-linejoin="round" stroke-linecap="round" />
<path d="M1593.1 1276.7 L1621.3 1266.6 L1638.4 1264.6 L1643.8 1286.7 L1605.6 1313.3 L1595.5 1311.3Z" fill="#000"/>
<path d="M1607.2 1289.8 L1621.3 1280.7 L1629.3 1284.7 L1613.2 1292.8Z" fill="#fff"/>
<path d="M1606.2 1296.8 L1611.2 1300.8 L1607.2 1304.9Z" fill="#fff"/>
<path d="M1622.3 1266.6 L1639.4 1278.7 L1649.5 1284.7" fill="none" stroke="#000" stroke-width="5.7" stroke-linejoin="round" stroke-linecap="butt" />
<path d="M1751.2 1179.0 L1751.2 1225.3" fill="none" stroke="#000" stroke-width="7.0" stroke-linejoin="round" stroke-linecap="butt" />
<path d="M1762.7 1179.0 L1762.7 1217.9" fill="none" stroke="#000" stroke-width="5.7" stroke-linejoin="round" stroke-linecap="butt" />
<path d="M1748.2 1217.9 L1763.3 1217.9" fill="none" stroke="#000" stroke-width="6.0" stroke-linejoin="round" stroke-linecap="butt" />
<circle cx="1754.2" cy="1243.4" r="5.0" fill="#000"/>
<path d="M1751.2 1270.6 L1751.2 1323.4" fill="none" stroke="#000" stroke-width="7.0" stroke-linejoin="round" stroke-linecap="butt" />
<path d="M1762.7 1266.6 L1762.7 1315.3" fill="none" stroke="#000" stroke-width="5.7" stroke-linejoin="round" stroke-linecap="butt" />
<path d="M1751.2 1272.6 L1762.7 1271.6" fill="none" stroke="#000" stroke-width="5.7" stroke-linejoin="round" stroke-linecap="butt" />
<path d="M1751.2 1311.9 L1762.7 1310.9" fill="none" stroke="#000" stroke-width="5.7" stroke-linejoin="round" stroke-linecap="butt" />
<path d="M1742.9 755.0 L1722.1 743.0 L1717.2 740.6 L1712.5 739.2 L1707.9 738.7 L1703.8 739.3 L1700.0 740.8 L1696.9 743.3 L1694.3 746.6 L1692.4 750.7 L1691.3 755.6 L1690.9 761.0 L1690.9 823.0 L1691.3 828.2 L1692.3 833.6 L1693.9 839.2 L1696.2 844.8 L1699.0 850.3 L1702.3 855.5 L1706.0 860.2 L1710.1 864.5 L1714.3 868.1 L1718.6 871.0 L1850.3 947.0 L1854.3 949.0 L1858.3 950.1 L1862.1 950.5 L1865.5 950.1 L1868.6 948.8 L1871.3 946.7 L1873.4 944.0 L1875.0 940.5 L1875.9 936.5 L1876.2 932.0 L1876.2 862.0 L1875.9 857.1 L1875.0 852.0 L1873.4 846.7 L1871.3 841.5 L1868.6 836.4 L1865.5 831.5 L1862.1 827.1 L1858.3 823.1 L1854.3 819.7 L1850.3 817.0 L1742.9 755.0Z" fill="#fff" stroke="#000" stroke-width="1.3" stroke-linejoin="round" />
<path d="M1710.1 861.1 L1787.6 910.5 L1829.9 933.6 L1842.0 940.7" fill="none" stroke="#000" stroke-width="1.2" stroke-linejoin="round" />
<path d="M1710.1 855.1 L1725.2 859.1 L1731.2 867.2" fill="none" stroke="#000" stroke-width="1.2" stroke-linejoin="round" />
<path d="M1709.0 859.1 L1723.1 871.2 L1737.2 882.3 L1753.4 891.3" fill="none" stroke="#000" stroke-width="1.2" stroke-linejoin="round" />
<path d="M1701.0 849.0 L1701.0 762.4 L1705.4 755.8 L1710.1 753.4 L1710.1 855.5 L1701.0 849.0" fill="none" stroke="#000" stroke-width="1.4" stroke-linejoin="round" />
<path d="M1704.0 760.4 L1704.0 851.1" fill="none" stroke="#000" stroke-width="2.2" stroke-linejoin="round" />
<path d="M1707.6 757.4 L1707.6 853.5" fill="none" stroke="#000" stroke-width="1.0" stroke-linejoin="round" />
<path d="M1705.0 808.8 L1706.6 812.8" fill="none" stroke="#000" stroke-width="1.5" stroke-linejoin="round" />
<path d="M1710.1 753.4 L1719.1 755.4 L1731.2 768.5 L1737.2 780.6 L1745.3 788.6 L1756.4 783.6" fill="none" stroke="#000" stroke-width="1.3" stroke-linejoin="round" />
<path d="M1710.1 760.4 L1719.1 768.5 L1727.2 784.6 L1733.6 794.7 L1738.2 797.1" fill="none" stroke="#000" stroke-width="1.3" stroke-linejoin="round" />
<path d="M1713.1 756.4 L1724.1 770.5 L1731.2 786.6 L1741.3 792.6" fill="none" stroke="#000" stroke-width="1.0" stroke-linejoin="round" />
<path d="M1719.1 766.5 L1723.5 762.8" fill="none" stroke="#000" stroke-width="1.0" stroke-linejoin="round" />
<path d="M1724.1 774.5 L1728.6 770.9" fill="none" stroke="#000" stroke-width="1.0" stroke-linejoin="round" />
<path d="M1729.2 782.6 L1733.6 779.0" fill="none" stroke="#000" stroke-width="1.0" stroke-linejoin="round" />
<path d="M1733.2 789.6 L1737.6 786.0" fill="none" stroke="#000" stroke-width="1.0" stroke-linejoin="round" />
<path d="M1822.2 882.8 L1822.0 877.9 L1821.4 872.9 L1820.6 867.7 L1819.3 862.5 L1817.7 857.2 L1815.8 851.8 L1813.6 846.5 L1811.1 841.3 L1808.3 836.2 L1805.3 831.2 L1802.0 826.4 L1798.5 821.9 L1794.9 817.5 L1791.1 813.5 L1787.1 809.8 L1783.1 806.5 L1779.0 803.5 L1774.9 800.9 L1770.8 798.7 L1766.7 797.0 L1762.6 795.7 L1758.7 794.8 L1754.9 794.5 L1751.2 794.6 L1747.8 795.1 L1744.5 796.1 L1741.4 797.6 L1738.7 799.5 L1736.1 801.8 L1733.9 804.6 L1732.0 807.7 L1730.4 811.2 L1729.2 815.0 L1728.3 819.1 L1727.8 823.5 L1727.6 828.2 L1727.8 833.1 L1728.3 838.1 L1729.2 843.3 L1730.4 848.5 L1732.0 853.8 L1733.9 859.2 L1736.1 864.4 L1738.7 869.7 L1741.4 874.8 L1744.5 879.8 L1747.8 884.6 L1751.2 889.1 L1754.9 893.4 L1758.7 897.5 L1762.6 901.2 L1766.7 904.5 L1770.8 907.5 L1774.9 910.1 L1779.0 912.3 L1783.1 914.0 L1787.1 915.3 L1791.1 916.1 L1794.9 916.5 L1798.5 916.4 L1802.0 915.9 L1805.3 914.9 L1808.3 913.4 L1811.1 911.5 L1813.6 909.2 L1815.8 906.4 L1817.7 903.3 L1819.3 899.8 L1820.6 896.0 L1821.4 891.9 L1822.0 887.4 L1822.2 882.8" fill="#fff" stroke="#000" stroke-width="1.2" stroke-linejoin="round" />
<path d="M1820.8 883.1 L1820.6 878.2 L1820.0 873.2 L1819.2 868.0 L1817.9 862.8 L1816.3 857.5 L1814.4 852.1 L1812.2 846.8 L1809.7 841.6 L1806.9 836.5 L1803.9 831.5 L1800.6 826.7 L1797.1 822.2 L1793.5 817.8 L1789.7 813.8 L1785.7 810.1 L1781.7 806.8 L1777.6 803.8 L1773.5 801.2 L1769.4 799.0 L1765.3 797.3 L1761.2 796.0 L1757.3 795.1 L1753.5 794.8 L1749.8 794.9 L1746.4 795.4 L1743.1 796.4 L1740.0 797.9 L1737.3 799.8 L1734.7 802.1 L1732.5 804.9 L1730.6 808.0 L1729.0 811.5 L1727.8 815.3 L1726.9 819.4 L1726.4 823.8 L1726.2 828.5 L1726.4 833.4 L1726.9 838.4 L1727.8 843.6 L1729.0 848.8 L1730.6 854.1 L1732.5 859.5 L1734.7 864.7 L1737.3 870.0 L1740.0 875.1 L1743.1 880.1 L1746.4 884.9 L1749.8 889.4 L1753.5 893.7 L1757.3 897.8 L1761.2 901.5 L1765.3 904.8 L1769.4 907.8 L1773.5 910.4 L1777.6 912.6 L1781.7 914.3 L1785.7 915.6 L1789.7 916.4 L1793.5 916.8 L1797.1 916.7 L1800.6 916.2 L1803.9 915.2 L1806.9 913.7 L1809.7 911.8 L1812.2 909.5 L1814.4 906.7 L1816.3 903.6 L1817.9 900.1 L1819.2 896.3 L1820.0 892.2 L1820.6 887.7 L1820.8 883.1" fill="#fff" stroke="#000" stroke-width="1.0" stroke-linejoin="round" />
<path d="M1818.8 883.4 L1818.6 878.5 L1818.0 873.5 L1817.2 868.3 L1815.9 863.1 L1814.3 857.8 L1812.4 852.4 L1810.2 847.1 L1807.7 841.9 L1804.9 836.8 L1801.9 831.8 L1798.6 827.0 L1795.1 822.5 L1791.5 818.1 L1787.7 814.1 L1783.7 810.4 L1779.7 807.1 L1775.6 804.1 L1771.5 801.5 L1767.4 799.3 L1763.3 797.6 L1759.2 796.3 L1755.3 795.4 L1751.5 795.1 L1747.8 795.2 L1744.4 795.7 L1741.1 796.7 L1738.0 798.2 L1735.3 800.1 L1732.7 802.4 L1730.5 805.2 L1728.6 808.3 L1727.0 811.8 L1725.8 815.6 L1724.9 819.7 L1724.4 824.1 L1724.2 828.8 L1724.4 833.7 L1724.9 838.7 L1725.8 843.9 L1727.0 849.1 L1728.6 854.4 L1730.5 859.8 L1732.7 865.0 L1735.3 870.3 L1738.0 875.4 L1741.1 880.4 L1744.4 885.2 L1747.8 889.7 L1751.5 894.0 L1755.3 898.1 L1759.2 901.8 L1763.3 905.1 L1767.4 908.1 L1771.5 910.7 L1775.6 912.9 L1779.7 914.6 L1783.7 915.9 L1787.7 916.7 L1791.5 917.1 L1795.1 917.0 L1798.6 916.5 L1801.9 915.5 L1804.9 914.0 L1807.7 912.1 L1810.2 909.8 L1812.4 907.0 L1814.3 903.9 L1815.9 900.4 L1817.2 896.6 L1818.0 892.5 L1818.6 888.0 L1818.8 883.4Z" fill="#fff" stroke="#000" stroke-width="1.4" stroke-linejoin="round" />
<path d="M1816.1 881.6 L1816.0 877.1 L1815.5 872.3 L1814.6 867.5 L1813.5 862.6 L1812.0 857.6 L1810.2 852.7 L1808.2 847.7 L1805.8 842.8 L1803.2 838.1 L1800.4 833.4 L1797.3 828.9 L1794.1 824.7 L1790.6 820.6 L1787.1 816.9 L1783.4 813.4 L1779.6 810.3 L1775.8 807.5 L1772.0 805.1 L1768.1 803.1 L1764.3 801.4 L1760.5 800.2 L1756.9 799.4 L1753.3 799.1 L1749.9 799.2 L1746.6 799.7 L1743.6 800.6 L1740.7 802.0 L1738.1 803.8 L1735.8 806.0 L1733.7 808.5 L1732.0 811.4 L1730.5 814.7 L1729.3 818.3 L1728.5 822.1 L1728.0 826.2 L1727.8 830.6 L1728.0 835.1 L1728.5 839.8 L1729.3 844.7 L1730.5 849.6 L1732.0 854.5 L1733.7 859.5 L1735.8 864.5 L1738.1 869.3 L1740.7 874.1 L1743.6 878.8 L1746.6 883.2 L1749.9 887.5 L1753.3 891.5 L1756.9 895.3 L1760.5 898.8 L1764.3 901.9 L1768.1 904.7 L1772.0 907.1 L1775.8 909.1 L1779.6 910.7 L1783.4 912.0 L1787.1 912.7 L1790.6 913.1 L1794.1 913.0 L1797.3 912.5 L1800.4 911.6 L1803.2 910.2 L1805.8 908.4 L1808.2 906.2 L1810.2 903.7 L1812.0 900.8 L1813.5 897.5 L1814.6 893.9 L1815.5 890.1 L1816.0 885.9 L1816.1 881.6Z" fill="none" stroke="#000" stroke-width="1.1" stroke-linejoin="round" />
<path d="M1754.4 788.2 L1762.0 790.6 L1760.4 795.9 L1752.7 792.6Z" fill="#000"/>
<path d="M1765.4 791.6 L1773.1 794.1 L1771.5 799.3 L1763.8 796.1Z" fill="#000"/>
<path d="M1776.5 798.7 L1784.2 801.1 L1782.6 806.3 L1774.9 803.1Z" fill="#000"/>
<path d="M1787.6 806.7 L1795.2 809.2 L1793.6 814.4 L1786.0 811.2Z" fill="#000"/>
<path d="M1798.7 815.8 L1806.3 818.2 L1804.7 823.5 L1797.1 820.2Z" fill="#000"/>
<path d="M1766.5 843.6 L1765.7 843.3 L1764.9 843.0 L1764.1 842.8 L1763.3 842.7 L1762.5 842.7 L1761.8 842.8 L1761.1 842.9 L1760.4 843.2 L1759.8 843.5 L1759.3 844.0 L1758.8 844.5 L1758.3 845.1 L1758.0 845.7 L1757.6 846.5 L1757.4 847.2 L1757.2 848.1" fill="none" stroke="#000" stroke-width="2.6" stroke-linejoin="round" />
<path d="M1766.2 839.5 L1765.1 839.0 L1764.0 838.6 L1762.9 838.4 L1761.9 838.2 L1760.9 838.2 L1759.9 838.3 L1759.0 838.5 L1758.1 838.9 L1757.3 839.4 L1756.6 839.9 L1755.9 840.6 L1755.3 841.4 L1754.8 842.3 L1754.4 843.2 L1754.0 844.3 L1753.8 845.4" fill="none" stroke="#000" stroke-width="2.6" stroke-linejoin="round" />
<path d="M1765.9 835.3 L1764.5 834.7 L1763.2 834.2 L1761.8 833.9 L1760.5 833.8 L1759.2 833.7 L1758.0 833.9 L1756.8 834.2 L1755.8 834.6 L1754.7 835.2 L1753.8 835.9 L1753.0 836.7 L1752.3 837.7 L1751.6 838.8 L1751.1 840.0 L1750.7 841.3 L1750.4 842.8" fill="none" stroke="#000" stroke-width="2.6" stroke-linejoin="round" />
<path d="M1765.6 831.1 L1764.0 830.4 L1762.3 829.9 L1760.7 829.5 L1759.1 829.3 L1757.6 829.3 L1756.1 829.4 L1754.7 829.8 L1753.4 830.3 L1752.2 831.0 L1751.1 831.8 L1750.1 832.9 L1749.2 834.0 L1748.5 835.3 L1747.8 836.8 L1747.3 838.4 L1747.0 840.1" fill="none" stroke="#000" stroke-width="2.6" stroke-linejoin="round" />
<path d="M1773.7 863.1 L1773.9 862.7 L1774.1 862.2 L1774.2 861.8 L1774.3 861.3 L1774.4 860.7 L1774.4 860.2 L1774.4 859.6 L1774.3 859.0 L1774.2 858.4 L1774.1 857.8 L1774.0 857.2 L1773.8 856.5 L1773.6 855.9 L1773.3 855.3 L1773.1 854.6 L1772.8 854.0" fill="none" stroke="#000" stroke-width="2.6" stroke-linejoin="round" />
<path d="M1776.9 866.6 L1777.2 866.0 L1777.4 865.3 L1777.6 864.6 L1777.7 863.8 L1777.8 863.1 L1777.8 862.2 L1777.8 861.4 L1777.8 860.5 L1777.6 859.6 L1777.5 858.6 L1777.2 857.7 L1777.0 856.8 L1776.6 855.8 L1776.3 854.9 L1775.9 853.9 L1775.4 853.0" fill="none" stroke="#000" stroke-width="2.6" stroke-linejoin="round" />
<path d="M1780.0 870.1 L1780.4 869.3 L1780.7 868.4 L1781.0 867.4 L1781.1 866.4 L1781.3 865.4 L1781.3 864.3 L1781.3 863.1 L1781.2 861.9 L1781.0 860.7 L1780.8 859.5 L1780.5 858.2 L1780.1 857.0 L1779.7 855.7 L1779.2 854.4 L1778.7 853.2 L1778.1 851.9" fill="none" stroke="#000" stroke-width="2.6" stroke-linejoin="round" />
<path d="M1760.4 857.7 L1760.8 858.7 L1761.4 859.7 L1762.0 860.7 L1762.6 861.6 L1763.3 862.5 L1764.1 863.3 L1764.8 864.1 L1765.6 864.8 L1766.4 865.4 L1767.2 865.9 L1768.0 866.4 L1768.8 866.7 L1769.6 867.0 L1770.3 867.2 L1771.1 867.3 L1771.8 867.3" fill="none" stroke="#000" stroke-width="2.6" stroke-linejoin="round" />
<path d="M1757.5 858.4 L1758.2 859.8 L1759.0 861.2 L1759.8 862.6 L1760.7 863.8 L1761.7 865.1 L1762.7 866.2 L1763.7 867.3 L1764.8 868.2 L1765.9 869.1 L1767.1 869.9 L1768.2 870.5 L1769.3 871.0 L1770.4 871.4 L1771.5 871.6 L1772.5 871.7 L1773.5 871.7" fill="none" stroke="#000" stroke-width="2.6" stroke-linejoin="round" />
<path d="M1754.7 859.0 L1755.6 860.9 L1756.6 862.7 L1757.6 864.4 L1758.8 866.1 L1760.0 867.6 L1761.3 869.1 L1762.7 870.5 L1764.1 871.7 L1765.5 872.8 L1766.9 873.8 L1768.4 874.6 L1769.8 875.3 L1771.2 875.7 L1772.6 876.1 L1774.0 876.2 L1775.2 876.2" fill="none" stroke="#000" stroke-width="2.6" stroke-linejoin="round" />
<path d="M1751.8 859.7 L1752.9 861.9 L1754.1 864.1 L1755.4 866.2 L1756.9 868.3 L1758.4 870.2 L1760.0 872.0 L1761.6 873.7 L1763.3 875.2 L1765.1 876.5 L1766.8 877.7 L1768.6 878.7 L1770.4 879.5 L1772.1 880.1 L1773.8 880.5 L1775.4 880.7 L1777.0 880.6" fill="none" stroke="#000" stroke-width="2.6" stroke-linejoin="round" />
<path d="M1749.0 860.4 L1750.3 863.0 L1751.7 865.6 L1753.3 868.1 L1754.9 870.5 L1756.7 872.8 L1758.6 874.9 L1760.6 876.9 L1762.6 878.7 L1764.6 880.3 L1766.7 881.7 L1768.8 882.8 L1770.9 883.8 L1772.9 884.5 L1774.9 884.9 L1776.9 885.1 L1778.7 885.1" fill="none" stroke="#000" stroke-width="2.6" stroke-linejoin="round" />
<path d="M1761.5 848.6 L1761.3 848.9 L1761.1 849.2 L1761.0 849.5 L1760.8 849.9 L1760.7 850.2 L1760.7 850.6 L1760.6 851.0 L1760.6 851.4 L1760.5 851.8 L1760.5 852.3 L1760.5 852.7 L1760.6 853.2 L1760.6 853.6 L1760.7 854.1 L1760.8 854.6 L1760.9 855.1" fill="none" stroke="#000" stroke-width="2.6" stroke-linejoin="round" />
<path d="M1809.7 818.8 L1819.8 830.9 L1829.9 839.0 L1840.0 839.0" fill="none" stroke="#000" stroke-width="1.3" stroke-linejoin="round" />
<path d="M1804.7 824.9 L1815.8 839.0 L1827.9 844.0 L1839.0 843.4" fill="none" stroke="#000" stroke-width="1.3" stroke-linejoin="round" />
<path d="M1814.8 903.4 L1821.8 909.5 L1831.9 927.6 L1840.0 935.6" fill="none" stroke="#000" stroke-width="1.3" stroke-linejoin="round" />
<path d="M1812.8 907.5 L1818.8 911.5 L1829.9 931.6" fill="none" stroke="#000" stroke-width="1.0" stroke-linejoin="round" />
<path d="M1840.0 839.0 L1846.0 832.9 L1856.1 837.0 L1861.1 845.0 L1861.1 935.6 L1856.1 938.7 L1842.0 938.7 L1839.0 931.6 L1839.0 841.0Z" fill="none" stroke="#000" stroke-width="1.5" stroke-linejoin="round" />
<path d="M1844.0 841.0 L1844.0 936.7" fill="none" stroke="#000" stroke-width="2.2" stroke-linejoin="round" />
<path d="M1850.0 845.0 L1850.0 935.6" fill="none" stroke="#000" stroke-width="1.0" stroke-linejoin="round" />
<path d="M1857.1 847.0 L1857.1 937.7" fill="none" stroke="#000" stroke-width="1.0" stroke-linejoin="round" />
<path d="M1842.0 845.0 L1850.0 839.0 L1858.1 845.0" fill="none" stroke="#000" stroke-width="1.0" stroke-linejoin="round" />
<rect x="1852.6" y="855.1" width="3" height="3.4" fill="#fff" stroke="#000" stroke-width="1"/>
<rect x="1852.6" y="864.1" width="3" height="3.4" fill="#fff" stroke="#000" stroke-width="1"/>
<rect x="1852.6" y="873.2" width="3" height="3.4" fill="#fff" stroke="#000" stroke-width="1"/>
<rect x="1852.6" y="882.3" width="3" height="3.4" fill="#fff" stroke="#000" stroke-width="1"/>
<rect x="1852.6" y="891.3" width="3" height="3.4" fill="#fff" stroke="#000" stroke-width="1"/>
<rect x="1852.6" y="900.4" width="3" height="3.4" fill="#fff" stroke="#000" stroke-width="1"/>
<rect x="1852.6" y="909.5" width="3" height="3.4" fill="#fff" stroke="#000" stroke-width="1"/>
<rect x="1852.6" y="918.5" width="3" height="3.4" fill="#fff" stroke="#000" stroke-width="1"/>
<rect x="1852.6" y="927.6" width="3" height="3.4" fill="#fff" stroke="#000" stroke-width="1"/>
<path d="M1850.0 818.8 L1852.0 826.9" fill="none" stroke="#000" stroke-width="2.0" stroke-linejoin="round" />
<path d="M1652.6 780.6 L1718.1 743.9" fill="none" stroke="#000" stroke-width="5.5" stroke-linejoin="round" />
<path d="M1937.5 391.3 L2320.0 391.3" fill="none" stroke="#000" stroke-width="1.2" stroke-linejoin="round" stroke-dasharray="28.4 27.5"/>
<path d="M1938.5 759.0 L2320.0 759.0" fill="none" stroke="#000" stroke-width="1.2" stroke-linejoin="round" stroke-dasharray="28.4 27.5"/>
<path d="M1937.5 391.3 L1937.5 399.3" fill="none" stroke="#000" stroke-width="1.2" stroke-linejoin="round" />
<path d="M1937.5 424.8 L1937.5 759.0" fill="none" stroke="#000" stroke-width="1.2" stroke-linejoin="round" stroke-dasharray="28.4 27.5"/>
<path d="M2326.5 393.5 L2326.5 759.0" fill="none" stroke="#000" stroke-width="1.2" stroke-linejoin="round" stroke-dasharray="28.4 27.5"/>
<path d="M1994.1 667.6 L2010.2 656.5 L2024.3 661.6 L2030.4 679.7 L2025.3 692.8 L2012.2 696.8 L2000.1 690.8 L1993.1 675.6Z" fill="#fff" stroke="#000" stroke-width="1.6" stroke-linejoin="round" stroke-linecap="round"/>
<path d="M2010.2 656.5 L2013.2 665.6 L2028.3 671.6" fill="none" stroke="#000" stroke-width="1.2" stroke-linejoin="round" stroke-linecap="round"/>
<path d="M2013.2 665.6 L2017.3 681.7 L2012.2 696.8" fill="none" stroke="#000" stroke-width="1.2" stroke-linejoin="round" stroke-linecap="round"/>
<path d="M2017.3 681.7 L2030.4 679.7" fill="none" stroke="#000" stroke-width="1.2" stroke-linejoin="round" stroke-linecap="round"/>
<ellipse cx="2004.6" cy="678.7" rx="11" ry="15" fill="#fff" stroke="#000" stroke-width="1.4" transform="rotate(-20 2004.6 678.7)"/>
<ellipse cx="2005.6" cy="679.7" rx="6.2" ry="9.5" fill="#fff" stroke="#000" stroke-width="1.4" transform="rotate(-20 2005.6 679.7)"/>
<path d="M2087.2 609.7 L2069.9 572.6 L2077.6 567.7" fill="none" stroke="#000" stroke-width="12.5" stroke-linejoin="round" stroke-linecap="round"/><path d="M2097.0 611.4 L2098.0 577.4 L2106.9 576.8" fill="none" stroke="#000" stroke-width="12.5" stroke-linejoin="round" stroke-linecap="round"/><path d="M2105.0 618.2 L2120.8 596.8 L2128.3 601.7" fill="none" stroke="#000" stroke-width="12.5" stroke-linejoin="round" stroke-linecap="round"/><path d="M2111.3 627.4 L2138.7 623.0 L2140.7 631.8" fill="none" stroke="#000" stroke-width="12.5" stroke-linejoin="round" stroke-linecap="round"/><path d="M2112.8 641.4 L2143.1 662.8 L2138.7 670.7" fill="none" stroke="#000" stroke-width="12.5" stroke-linejoin="round" stroke-linecap="round"/><path d="M2104.7 651.4 L2119.8 691.4 L2111.8 695.7" fill="none" stroke="#000" stroke-width="12.5" stroke-linejoin="round" stroke-linecap="round"/><path d="M2095.5 648.8 L2093.6 684.1 L2084.6 684.5" fill="none" stroke="#000" stroke-width="12.5" stroke-linejoin="round" stroke-linecap="round"/><path d="M2088.0 642.0 L2072.2 664.7 L2064.6 660.0" fill="none" stroke="#000" stroke-width="12.5" stroke-linejoin="round" stroke-linecap="round"/><path d="M2082.6 632.9 L2056.7 638.5 L2054.3 629.9" fill="none" stroke="#000" stroke-width="12.5" stroke-linejoin="round" stroke-linecap="round"/><path d="M2080.4 619.6 L2050.6 600.7 L2054.7 592.6" fill="none" stroke="#000" stroke-width="12.5" stroke-linejoin="round" stroke-linecap="round"/><path d="M2085.0 605.0 L2071.8 576.7" fill="none" stroke="#fff" stroke-width="1.3"/><path d="M2097.1 607.1 L2097.8 581.2" fill="none" stroke="#fff" stroke-width="1.3"/><path d="M2107.0 615.5 L2119.0 599.2" fill="none" stroke="#fff" stroke-width="1.3"/><path d="M2114.8 626.9 L2135.7 623.5" fill="none" stroke="#fff" stroke-width="1.3"/><path d="M2116.7 644.1 L2139.7 660.4" fill="none" stroke="#fff" stroke-width="1.3"/><path d="M2106.6 656.5 L2118.1 686.9" fill="none" stroke="#fff" stroke-width="1.3"/><path d="M2095.2 653.3 L2093.8 680.2" fill="none" stroke="#fff" stroke-width="1.3"/><path d="M2086.0 644.9 L2074.0 662.2" fill="none" stroke="#fff" stroke-width="1.3"/><path d="M2079.3 633.6 L2059.6 637.9" fill="none" stroke="#fff" stroke-width="1.3"/><path d="M2076.6 617.2 L2053.9 602.8" fill="none" stroke="#fff" stroke-width="1.3"/>
<ellipse cx="2096.5" cy="629.8" rx="14.5" ry="19" fill="#fff" stroke="#000" stroke-width="1" transform="rotate(-25 2096.5 629.8)"/>
<ellipse cx="2096.5" cy="629.8" rx="8.5" ry="13.5" fill="#fff" stroke="#000" stroke-width="3.2" transform="rotate(-25 2096.5 629.8)"/>
<path d="M2193.5 490.4 L2241.8 463.2 L2249.9 478.3 L2270.0 489.3 L2286.1 485.3 L2291.2 528.6 L2292.2 581.0 L2270.0 593.1 L2223.7 568.9 L2199.5 548.8Z" fill="#fff"/>
<path d="M2199.5 549.8 L2189.5 544.7 L2189.5 492.8 L2193.5 487.7 L2241.8 461.6 L2248.9 463.6 L2249.9 478.3" fill="none" stroke="#000" stroke-width="8.5" stroke-linejoin="round" stroke-linecap="round"/>
<path d="M2198.5 548.8 L2198.5 498.8 L2203.6 492.8 L2241.8 477.7 L2249.9 478.7 L2270.0 489.7 L2286.1 484.7 L2290.2 488.7 L2290.2 528.6" fill="none" stroke="#000" stroke-width="7.0" stroke-linejoin="round" stroke-linecap="round"/>
<path d="M2207.6 504.5 L2233.8 520.6 L2239.8 516.9 L2286.1 490.8" fill="none" stroke="#000" stroke-width="7.0" stroke-linejoin="round" stroke-linecap="round"/>
<path d="M2203.6 504.5 L2203.6 549.8" fill="none" stroke="#000" stroke-width="6.0" stroke-linejoin="round" stroke-linecap="round"/>
<path d="M2233.8 520.6 L2233.8 565.9" fill="none" stroke="#000" stroke-width="7.0" stroke-linejoin="round" stroke-linecap="round"/>
<path d="M2239.8 519.0 L2239.8 567.3" fill="none" stroke="#000" stroke-width="5.0" stroke-linejoin="round" stroke-linecap="round"/>
<path d="M2249.9 528.6 L2276.1 513.9 L2286.1 524.6 L2291.4 529.0 L2292.2 581.0 L2282.1 589.0 L2266.0 581.4" fill="none" stroke="#000" stroke-width="6.0" stroke-linejoin="round" stroke-linecap="round"/>
<path d="M2249.9 528.6 L2249.9 575.3" fill="none" stroke="#000" stroke-width="6.0" stroke-linejoin="round" stroke-linecap="round"/>
<path d="M2260.0 534.7 L2266.0 539.1 L2286.1 527.0" fill="none" stroke="#000" stroke-width="5.0" stroke-linejoin="round" stroke-linecap="round"/>
<path d="M2261.0 534.7 L2278.1 524.6" fill="none" stroke="#000" stroke-width="4.0" stroke-linejoin="round" stroke-linecap="round"/>
<path d="M2263.0 539.1 L2264.4 577.4" fill="none" stroke="#000" stroke-width="5.0" stroke-linejoin="round" stroke-linecap="round"/>
<path d="M2142.7 524.2 L2147.2 522.2 L2161.3 528.6 L2161.3 545.1 L2153.6 549.2 L2142.7 540.7Z" fill="#000"/>
<path d="M2155.2 530.6 L2160.3 531.6 L2160.3 536.7 L2155.2 536.3Z" fill="#fff"/>
<path d="M2159.3 525.6 L2165.3 521.6 L2200.5 543.1" fill="none" stroke="#000" stroke-width="8.0" stroke-linejoin="round" stroke-linecap="round"/>
<path d="M2156.2 535.7 L2194.5 557.8" fill="none" stroke="#000" stroke-width="8.0" stroke-linejoin="round" stroke-linecap="round"/>
<path d="M2147.2 591.1 L2211.6 555.8" fill="none" stroke="#000" stroke-width="12.0" stroke-linejoin="round" stroke-linecap="round"/>
<path d="M2151.2 589.0 L2209.6 557.2" fill="none"  stroke-width="2.6" stroke-linejoin="round" stroke="#fff" stroke-linecap="round"/>
<circle cx="2211.6" cy="555.2" r="8.5" fill="#000"/>
<path d="M2211.6 560.8 L2211.6 617.2" fill="none" stroke="#000" stroke-width="8.0" stroke-linejoin="round" stroke-linecap="round"/>
<path d="M2224.7 568.9 L2224.7 619.7" fill="none" stroke="#000" stroke-width="8.0" stroke-linejoin="round" stroke-linecap="round"/>
<path d="M2199.5 615.2 L2211.6 613.6 L2224.7 619.7 L2220.7 638.4 L2199.5 627.3Z" fill="#000"/>
<path d="M2211.6 617.6 L2218.7 619.7 L2217.7 622.3 L2211.6 620.9Z" fill="#fff"/>
<path d="M2223.7 559.8 L2270.0 587.0" fill="none" stroke="#000" stroke-width="8.0" stroke-linejoin="round" stroke-linecap="round"/>
<path d="M2223.7 572.9 L2266.0 601.5" fill="none" stroke="#000" stroke-width="8.0" stroke-linejoin="round" stroke-linecap="round"/>
<path d="M2231.8 579.0 L2239.8 584.0" fill="none" stroke="#000" stroke-width="5.0" stroke-linejoin="round" stroke-linecap="round"/>
<path d="M2245.9 588.0 L2253.9 593.1" fill="none" stroke="#000" stroke-width="5.0" stroke-linejoin="round" stroke-linecap="round"/>
<path d="M2259.0 596.1 L2267.0 601.1" fill="none" stroke="#000" stroke-width="5.0" stroke-linejoin="round" stroke-linecap="round"/>
<path d="M2262.0 607.2 L2270.0 593.5 L2284.1 589.4 L2283.1 623.7 L2270.0 617.6Z" fill="#000"/>
<path d="M2262.0 614.5 L2262.0 790.0" fill="none" stroke="#000" stroke-width="1.2" stroke-linejoin="round" />
<g transform="translate(1613.4 803.7) rotate(0.0)"><polygon points="6.5,-11.4 26.6,-22.4 32.8,-21.5 35.3,-19.1 34.3,-13.6 31.6,-8.7 14.5,1.9" fill="#fff" stroke="#000" stroke-width="1.5" stroke-linejoin="round"/><polyline points="9.3,-9.6 11.4,-8.4" fill="none" stroke="#000" stroke-width="1.5"/><polyline points="13.6,-12.1 15.5,-10.8" fill="none" stroke="#000" stroke-width="1.5"/><polyline points="18.3,-16.1 21.4,-14.5" fill="none" stroke="#000" stroke-width="1.5"/><polyline points="22.6,-18.6 25.4,-16.4" fill="none" stroke="#000" stroke-width="1.5"/><polyline points="13.0,-5.3 13.5,-2.2" fill="none" stroke="#000" stroke-width="1.5"/><polyline points="16.7,-8.0 18.7,-4.2" fill="none" stroke="#000" stroke-width="1.5"/><polyline points="22.0,-11.1 24.3,-8.4" fill="none" stroke="#000" stroke-width="1.5"/><polyline points="27.1,-14.1 28.0,-11.4" fill="none" stroke="#000" stroke-width="1.5"/><polyline points="25.1,-19.2 29.4,-16.1 30.4,-9.9" fill="none" stroke="#000" stroke-width="1.4"/><polyline points="28.2,-20.1 32.1,-16.4 32.7,-11.8" fill="none" stroke="#000" stroke-width="1.4"/><polygon points="-13.1,-5.6 -7.3,-11.9 -3.1,-14.1 3.1,-14.1 7.4,-10.8 11.8,-6.2 14.5,1.2 13.9,8.7 10.5,12.4 3.1,14.2 -6.2,14.2 -11.1,8.7 -13.1,3.7" fill="#fff" stroke="#000" stroke-width="2" stroke-linejoin="round"/><polyline points="-11.8,-4.3 -5.6,-8.7 1.9,-9.9 6.2,-7.4 7.4,-1.2 5.0,6.2 -1.2,11.1 -8.0,11.1 -11.8,6.2 -11.8,-4.3" fill="none" stroke="#000" stroke-width="1.5"/><polyline points="-10.6,-1.2 -1.2,6.2" fill="none" stroke="#000" stroke-width="1.5"/><polyline points="-8.4,-3.8 0.6,2.8" fill="none" stroke="#000" stroke-width="1.5"/><polyline points="-3.1,-9.4 1.9,1.9 3.7,10.5" fill="none" stroke="#000" stroke-width="1.5"/><polyline points="1.9,1.9 7.4,-1.2" fill="none" stroke="#000" stroke-width="1.5"/><polyline points="7.4,-10.8 10.5,-3.7 11.8,6.2 10.5,12.4" fill="none" stroke="#000" stroke-width="1.5"/></g>
<g transform="translate(2224.2 812.1) rotate(3.0)"><polygon points="6.5,-11.4 26.6,-22.4 32.8,-21.5 35.3,-19.1 34.3,-13.6 31.6,-8.7 14.5,1.9" fill="#fff" stroke="#000" stroke-width="1.5" stroke-linejoin="round"/><polyline points="9.3,-9.6 11.4,-8.4" fill="none" stroke="#000" stroke-width="1.5"/><polyline points="13.6,-12.1 15.5,-10.8" fill="none" stroke="#000" stroke-width="1.5"/><polyline points="18.3,-16.1 21.4,-14.5" fill="none" stroke="#000" stroke-width="1.5"/><polyline points="22.6,-18.6 25.4,-16.4" fill="none" stroke="#000" stroke-width="1.5"/><polyline points="13.0,-5.3 13.5,-2.2" fill="none" stroke="#000" stroke-width="1.5"/><polyline points="16.7,-8.0 18.7,-4.2" fill="none" stroke="#000" stroke-width="1.5"/><polyline points="22.0,-11.1 24.3,-8.4" fill="none" stroke="#000" stroke-width="1.5"/><polyline points="27.1,-14.1 28.0,-11.4" fill="none" stroke="#000" stroke-width="1.5"/><polyline points="25.1,-19.2 29.4,-16.1 30.4,-9.9" fill="none" stroke="#000" stroke-width="1.4"/><polyline points="28.2,-20.1 32.1,-16.4 32.7,-11.8" fill="none" stroke="#000" stroke-width="1.4"/><polygon points="-13.1,-5.6 -7.3,-11.9 -3.1,-14.1 3.1,-14.1 7.4,-10.8 11.8,-6.2 14.5,1.2 13.9,8.7 10.5,12.4 3.1,14.2 -6.2,14.2 -11.1,8.7 -13.1,3.7" fill="#fff" stroke="#000" stroke-width="2" stroke-linejoin="round"/><polyline points="-11.8,-4.3 -5.6,-8.7 1.9,-9.9 6.2,-7.4 7.4,-1.2 5.0,6.2 -1.2,11.1 -8.0,11.1 -11.8,6.2 -11.8,-4.3" fill="none" stroke="#000" stroke-width="1.5"/><polyline points="-10.6,-1.2 -1.2,6.2" fill="none" stroke="#000" stroke-width="1.5"/><polyline points="-8.4,-3.8 0.6,2.8" fill="none" stroke="#000" stroke-width="1.5"/><polyline points="-3.1,-9.4 1.9,1.9 3.7,10.5" fill="none" stroke="#000" stroke-width="1.5"/><polyline points="1.9,1.9 7.4,-1.2" fill="none" stroke="#000" stroke-width="1.5"/><polyline points="7.4,-10.8 10.5,-3.7 11.8,6.2 10.5,12.4" fill="none" stroke="#000" stroke-width="1.5"/></g>
<g transform="translate(1138.5 1393.0) rotate(3.0)"><polygon points="6.7,-11.8 27.5,-23.1 33.8,-22.2 36.4,-19.7 35.4,-14.0 32.6,-8.9 15.0,1.9" fill="#fff" stroke="#000" stroke-width="1.5" stroke-linejoin="round"/><polyline points="9.6,-9.9 11.8,-8.6" fill="none" stroke="#000" stroke-width="1.5"/><polyline points="14.0,-12.4 16.0,-11.2" fill="none" stroke="#000" stroke-width="1.5"/><polyline points="18.8,-16.6 22.0,-15.0" fill="none" stroke="#000" stroke-width="1.5"/><polyline points="23.3,-19.2 26.2,-16.9" fill="none" stroke="#000" stroke-width="1.5"/><polyline points="13.4,-5.4 13.9,-2.2" fill="none" stroke="#000" stroke-width="1.5"/><polyline points="17.2,-8.3 19.3,-4.3" fill="none" stroke="#000" stroke-width="1.5"/><polyline points="22.7,-11.5 25.0,-8.6" fill="none" stroke="#000" stroke-width="1.5"/><polyline points="28.0,-14.6 28.9,-11.8" fill="none" stroke="#000" stroke-width="1.5"/><polyline points="25.9,-19.8 30.3,-16.6 31.4,-10.2" fill="none" stroke="#000" stroke-width="1.4"/><polyline points="29.0,-20.7 33.1,-16.9 33.7,-12.1" fill="none" stroke="#000" stroke-width="1.4"/><polygon points="-13.5,-5.7 -7.5,-12.3 -3.2,-14.6 3.2,-14.6 7.7,-11.2 12.1,-6.4 15.0,1.3 14.4,8.9 10.9,12.8 3.2,14.7 -6.4,14.7 -11.5,8.9 -13.5,3.8" fill="#fff" stroke="#000" stroke-width="2" stroke-linejoin="round"/><polyline points="-12.1,-4.5 -5.7,-8.9 1.9,-10.2 6.4,-7.7 7.7,-1.3 5.1,6.4 -1.3,11.5 -8.3,11.5 -12.1,6.4 -12.1,-4.5" fill="none" stroke="#000" stroke-width="1.5"/><polyline points="-11.0,-1.3 -1.3,6.4" fill="none" stroke="#000" stroke-width="1.5"/><polyline points="-8.6,-4.0 0.6,2.9" fill="none" stroke="#000" stroke-width="1.5"/><polyline points="-3.2,-9.7 1.9,1.9 3.8,10.9" fill="none" stroke="#000" stroke-width="1.5"/><polyline points="1.9,1.9 7.7,-1.3" fill="none" stroke="#000" stroke-width="1.5"/><polyline points="7.7,-11.2 10.9,-3.8 12.1,6.4 10.9,12.8" fill="none" stroke="#000" stroke-width="1.5"/></g>
<line x1="327.5" y1="475.5" x2="443.7" y2="542.5" stroke="#000" stroke-width="3.5"/><polygon points="481.0,564.0 436.7,548.8 445.6,533.2" fill="#000"/>
<line x1="561.5" y1="429.6" x2="677.2" y2="440.3" stroke="#000" stroke-width="3.5"/><polygon points="720.0,444.3 673.4,449.0 675.0,431.1" fill="#000"/>
<line x1="886.2" y1="749.5" x2="917.0" y2="706.6" stroke="#000" stroke-width="3.5"/><polygon points="942.0,671.6 922.5,714.2 907.9,703.8" fill="#000"/>
<line x1="374.9" y1="798.6" x2="486.4" y2="863.4" stroke="#000" stroke-width="3.5"/><polygon points="523.6,885.0 479.3,869.7 488.3,854.1" fill="#000"/>
<line x1="309.3" y1="943.7" x2="434.6" y2="1015.6" stroke="#000" stroke-width="3.5"/><polygon points="471.9,1037.0 427.5,1021.9 436.5,1006.3" fill="#000"/>
<line x1="378.6" y1="1220.0" x2="490.7" y2="1284.8" stroke="#000" stroke-width="3.5"/><polygon points="527.9,1306.3 483.6,1291.1 492.6,1275.5" fill="#000"/>
<line x1="382.3" y1="1566.6" x2="486.9" y2="1626.8" stroke="#000" stroke-width="3.5"/><polygon points="524.2,1648.2 479.8,1633.1 488.8,1617.5" fill="#000"/>
<line x1="1070.1" y1="1543.3" x2="1108.0" y2="1453.6" stroke="#000" stroke-width="3.5"/><polygon points="1124.8,1414.0 1115.2,1459.9 1098.6,1452.9" fill="#000"/>
<line x1="489.0" y1="1881.2" x2="582.4" y2="1935.3" stroke="#000" stroke-width="3.5"/><polygon points="619.6,1956.9 575.3,1941.6 584.3,1926.0" fill="#000"/>
<line x1="420.2" y1="2199.6" x2="513.5" y2="2253.3" stroke="#000" stroke-width="3.5"/><polygon points="550.8,2274.8 506.4,2259.6 515.4,2244.0" fill="#000"/>
<line x1="793.4" y1="2166.6" x2="810.6" y2="2215.6" stroke="#000" stroke-width="3.5"/><polygon points="824.9,2256.2 801.2,2215.8 818.1,2209.8" fill="#000"/>
<line x1="439.9" y1="2526.9" x2="526.3" y2="2576.5" stroke="#000" stroke-width="3.5"/><polygon points="563.6,2597.9 519.2,2582.8 528.2,2567.2" fill="#000"/>
<line x1="898.4" y1="2675.0" x2="855.6" y2="2663.1" stroke="#000" stroke-width="3.5"/><polygon points="814.2,2651.5 860.9,2655.2 856.1,2672.5" fill="#000"/>
<line x1="1796.0" y1="452.0" x2="1890.9" y2="504.6" stroke="#000" stroke-width="3.5"/><polygon points="1928.5,525.4 1883.9,511.0 1892.6,495.2" fill="#000"/>
<line x1="2001.9" y1="534.1" x2="2001.9" y2="608.0" stroke="#000" stroke-width="3.5"/><polygon points="2001.9,651.0 1992.9,605.0 2010.9,605.0" fill="#000"/>
<line x1="2091.5" y1="491.2" x2="2091.5" y2="524.0" stroke="#000" stroke-width="3.5"/><polygon points="2091.5,567.0 2082.5,521.0 2100.5,521.0" fill="#000"/>
<line x1="1570.8" y1="677.2" x2="1646.6" y2="720.0" stroke="#000" stroke-width="3.5"/><polygon points="1684.0,741.2 1639.5,726.4 1648.4,710.7" fill="#000"/>
<line x1="1481.9" y1="722.6" x2="1561.4" y2="767.8" stroke="#000" stroke-width="3.5"/><polygon points="1598.8,789.1 1554.4,774.2 1563.3,758.5" fill="#000"/>
<line x1="2088.4" y1="890.5" x2="2173.9" y2="843.0" stroke="#000" stroke-width="3.5"/><polygon points="2211.5,822.1 2175.7,852.3 2166.9,836.6" fill="#000"/>
<line x1="1430.3" y1="1389.8" x2="1421.1" y2="1369.6" stroke="#000" stroke-width="3.5"/><polygon points="1403.3,1330.5 1430.6,1368.6 1414.2,1376.1" fill="#000"/>
<text class="n" x="273.5" y="474.5" font-size="60.0" font-weight="normal" text-anchor="start" >1</text>
<text class="n" x="500.0" y="447.0" font-size="60.0" font-weight="normal" text-anchor="start" >4</text>
<text class="n" x="843.0" y="808.5" font-size="60.0" font-weight="normal" text-anchor="start" >4</text>
<text class="n" x="318.0" y="799.0" font-size="60.0" font-weight="normal" text-anchor="start" >8</text>
<text class="n" x="238.5" y="944.0" font-size="60.0" font-weight="normal" text-anchor="start" >15</text>
<text class="n" x="321.0" y="1220.0" font-size="60.0" font-weight="normal" text-anchor="start" >2</text>
<text class="n" x="312.0" y="1566.5" font-size="60.0" font-weight="normal" text-anchor="start" >14</text>
<text class="n" x="1034.7" y="1605.5" font-size="60.0" font-weight="normal" text-anchor="start" >4</text>
<text class="n" x="432.0" y="1879.5" font-size="60.0" font-weight="normal" text-anchor="start" >6</text>
<text class="n" x="364.0" y="2197.0" font-size="60.0" font-weight="normal" text-anchor="start" >7</text>
<text class="n" x="759.0" y="2146.5" font-size="60.0" font-weight="normal" text-anchor="start" >4</text>
<text class="n" x="384.0" y="2527.0" font-size="60.0" font-weight="normal" text-anchor="start" >3</text>
<text class="n" x="926.0" y="2710.5" font-size="60.0" font-weight="normal" text-anchor="start" >5</text>
<text class="n" x="1739.0" y="451.5" font-size="60.0" font-weight="normal" text-anchor="start" >9</text>
<text class="n" x="1970.5" y="508.5" font-size="60.0" font-weight="normal" text-anchor="start" >10</text>
<text class="n" x="2062.0" y="467.5" font-size="60.0" font-weight="normal" text-anchor="start" >11</text>
<text class="n" x="1502.0" y="674.0" font-size="60.0" font-weight="normal" text-anchor="start" >13</text>
<text class="n" x="1412.0" y="721.5" font-size="60.0" font-weight="normal" text-anchor="start" >17</text>
<text class="n" x="2020.0" y="936.5" font-size="60.0" font-weight="normal" text-anchor="start" >16</text>
<text class="n" x="1411.0" y="1435.0" font-size="60.0" font-weight="normal" text-anchor="start" >12</text>
</svg>
</body></html>
